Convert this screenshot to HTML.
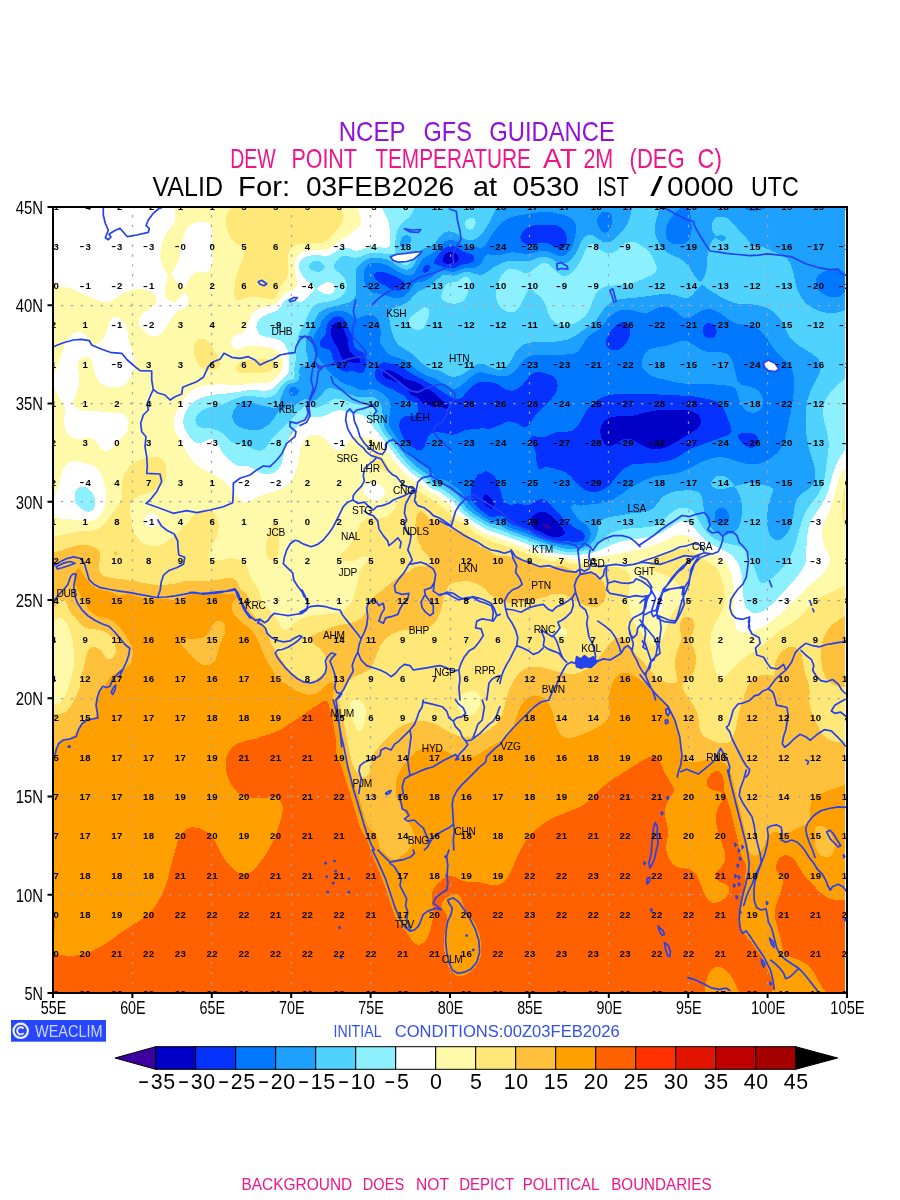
<!DOCTYPE html><html><head><meta charset="utf-8"><title>NCEP GFS Guidance - Dew Point Temperature</title>
<style>html,body{margin:0;padding:0;background:#fff}svg{display:block}text{font-family:"Liberation Sans",sans-serif}</style></head><body>
<svg width="900" height="1200" viewBox="0 0 900 1200">
<rect width="900" height="1200" fill="#fff"/>
<defs><clipPath id="c"><rect x="53" y="207" width="794" height="786"/></clipPath></defs>
<g clip-path="url(#c)">
<g shape-rendering="crispEdges">
<path fill="#3c00a0" fill-rule="evenodd" d="M542,524.4 545,523.6 548,524.4 548.8,525 551,527.8 551.1,528 551,528.3 548,528.8 546.5,528 545,526.4 542,525.1 541.8,525Z"/>
<path fill="#0000c8" fill-rule="evenodd" d="M452,251.9 452.3,252 455,253.1 457.6,255 458,255.8 459,258 458,261 458,261 455,263.8 454.7,264 452,264.7 449,264.5 446.5,264 446,263.8 443,261.2 442.9,261 442.8,258 443,257.6 444.6,255 446,253.7 449,252.1 450.7,252ZM335,323.3 338,322.6 340.7,324 341,324.3 342.5,327 343.9,330 344,330.3 345.2,333 346.6,336 347,336.9 347.7,339 348.1,342 348.2,345 348.7,348 350,350.9 350,351 352.1,354 353,355.1 356,356.6 357.3,357 359,357.8 360.4,360 359.5,363 359,363.4 356,363.4 354.2,363 353,362.5 350,362 347,361.6 344,360.4 343.6,360 341.3,357 341,356.3 340.2,354 339.1,351 338,348.6 337.8,348 336.1,345 335,343.5 334,342 332.3,339 332,338.3 331.4,336 331.1,333 331.1,330 331.9,327 332,326.7 334.1,324ZM383,371.7 386,369.5 389,370.1 392,371.2 394.2,372 395,372.4 398,373.8 399.9,375 401,376 403.6,378 404,378.4 407,379.7 410,380.2 413,380.9 413.4,381 416,381.9 419,383.4 420,384 422,385.6 424.3,387 425,387.5 428,388.9 430,390 431,390.6 434,392.8 434.2,393 437,395.7 437.3,396 440,398.7 440.4,399 443,401 445.6,402 446,402.2 448.7,405 449,406.5 449.3,408 449,408.5 446,409 444.1,408 443,407.3 440,405.8 437,405.8 434,405.9 431,405.6 428,405.2 426.6,405 425,404.7 422,402.5 421.6,402 419.1,399 419,398.9 416,397.1 413.5,396 413,395.8 410,393.3 409.7,393 407.5,390 407,389.1 405.3,387 404,385 402.3,384 401,383.1 398,382.5 395,381.7 392.8,381 392,380.6 389,379.6 386,378.4 385.5,378 383,375 383,375 382.8,372ZM653,410.9 656,410.5 659,410.2 662,410 665,409.9 668,409.7 671,409.6 674,409.6 677,409.5 680,409.5 683,409.6 686,409.9 689,410.5 691,411 692,411.3 695,412.8 697,414 698,414.9 699.8,417 701,420 700.9,423 699.7,426 698,428.1 697.1,429 695,430.5 692.5,432 692,432.3 689,433.9 687.3,435 686,435.8 683,437.8 682.7,438 680,439.7 677.9,441 677,441.6 674,443.3 672.8,444 671,445 668,446.5 666.8,447 665,447.7 662,448.6 659,449.2 656,449.5 653,449.2 650,448.6 647,447.6 645.6,447 644,446.2 641,444.6 639.8,444 638,442.9 635,441.2 634.6,441 632,439.6 629,438.6 626,438.6 623,439.5 620.3,441 620,441.2 617,443.1 615.2,444 614,444.7 611,445.7 608,446 605,444.5 604.6,444 602.9,441 602,439.2 601.6,438 600.8,435 600.4,432 600.5,429 601.2,426 602,424.4 602.8,423 605,420.6 605.8,420 608,418.5 611,417.3 612.4,417 614,416.7 617,416.4 620,416.3 623,416.4 626,416.4 629,416.3 632,415.9 635,415.2 638,414.4 639.5,414 641,413.6 644,412.9 647,412.1 650,411.5 652.5,411ZM485,493.9 487.7,495 488,495.1 490.7,498 491,498.4 492.7,501 494,503.8 494.1,504 494.2,507 494,507.5 491,509.1 488,507.1 487.9,507 485,504.5 484.5,504 482.8,501 483.3,498 484.3,495ZM539,512.1 542,511.5 545,512.2 546.4,513 548,513.7 551,515.5 551.6,516 554,518.1 554.8,519 557,521.5 557.4,522 559.9,525 560,525.1 562.6,528 563,528.8 564.5,531 564.5,534 563,535 560,536.7 559.2,537 557,537.3 554,537.1 553.5,537 551,536.5 548,535.7 545,534.1 544.7,534 542,532.2 539,531.1 538.7,531 536,529.9 533.3,528 533,527.5 531.1,525 530.5,522 530.8,519 532.7,516 533,515.8 536,513.5 537,513ZM541.8,525 542,525.1 545,526.4 546.5,528 548,528.8 551,528.3 551.1,528 551,527.8 548.8,525 548,524.4 545,523.6 542,524.4Z"/>
<path fill="#0532ff" fill-rule="evenodd" d="M539,224.9 542,224.6 545,224.5 548,224.5 551,224.7 553.6,225 554,225 557,225.6 560,226.8 561.8,228 563,229 564.6,231 566,233.7 566.1,234 566.7,237 566.8,240 566.3,243 566,243.8 565,246 563,248.2 560.6,249 560,249.1 559.4,249 557,248.3 554,246.7 552.7,246 551,244.9 548,243.5 545.9,243 545,242.7 542,242.5 539.4,243 539,243 536,243.8 533,244.8 530,245.5 527,244.9 524,243.2 523.6,243 521,240 521,239.8 520.3,237 521,234.6 521.2,234 523.2,231 524,230.3 526.9,228 527,227.9 530,226.6 533,225.6 536,225 536.4,225ZM446,247.4 449,246.3 452,246.1 455,246.8 458,248.2 459.4,249 461,250.1 464,251.8 464.7,252 467,252.9 470,253.7 472.6,255 473,255.4 474.3,258 473.7,261 473,261.7 470,263.3 467,263.6 464.9,264 464,264.1 461,265.2 458,266.7 457.5,267 455,267.9 452,268.4 449,268.1 446,267.4 444.2,267 443,266.7 440,265.8 437,264.9 434.1,264 434.5,261 436.1,258 437,257 438.2,255 440,252.8 440.7,252 443,249.6 443.8,249ZM450.7,252 449,252.1 446,253.7 444.6,255 443,257.6 442.8,258 442.9,261 443,261.2 446,263.8 446.5,264 449,264.5 452,264.7 454.7,264 455,263.8 458,261 458,261 459,258 458,255.8 457.6,255 455,253.1 452.3,252 452,251.9ZM425,265.7 428,264.6 430.9,267 429.2,270 428,271.3 425.4,273 425,273.2 424.6,273 422.4,270 423.8,267ZM377,271.7 380,271.5 383,271.9 386,272.7 386.8,273 389,273.9 392,275 394.7,276 395,276.1 398,277.8 400.5,279 401,279.4 404,281.9 404.1,282 404.9,285 404,287.7 403.8,288 401,290.1 398,290.7 395,290.3 392,289.2 389.2,288 389,287.9 386,286.1 383.6,285 383,284.6 380,282.9 378.4,282 377,280.7 375.4,279 374.1,276 374.8,273ZM335,316.8 338,316.3 341,316.9 342.9,318 344,318.9 345.7,321 347,323.5 347.2,324 348.4,327 349.7,330 350,330.7 351.3,333 352.5,336 353,338.2 353.2,339 353.4,342 353.8,345 355.1,348 356,348.9 359,350.5 360.1,351 362,352 364.2,354 365,355.3 365.8,357 366.3,360 366.2,363 365.8,366 365.3,369 365,369.9 363.6,372 362,373.3 359,373.3 356.1,372 356,372 353,371.1 350,371.4 347,371.7 344,371.4 341,370.2 339.3,369 338,367.9 336.4,366 335,363.6 334.6,363 333.4,360 332.6,357 332,354.4 331.9,354 330.6,351 329,348.9 326,348.6 323,348.4 322.4,348 320,345.4 319.8,345 319.8,342 320,341.5 321.5,339 323,337.5 324.3,336 326,333.3 326.1,333 326.2,330 326.6,327 327.4,324 329,321.1 329.1,321 332,318.2 332.4,318ZM334.1,324 332,326.7 331.9,327 331.1,330 331.1,333 331.4,336 332,338.3 332.3,339 334,342 335,343.5 336.1,345 337.8,348 338,348.6 339.1,351 340.2,354 341,356.3 341.3,357 343.6,360 344,360.4 347,361.6 350,362 353,362.5 354.2,363 356,363.4 359,363.4 359.5,363 360.4,360 359,357.8 357.3,357 356,356.6 353,355.1 352.1,354 350,351 350,350.9 348.7,348 348.2,345 348.1,342 347.7,339 347,336.9 346.6,336 345.2,333 344,330.3 343.9,330 342.5,327 341,324.3 340.7,324 338,322.6 335,323.3ZM620,322.7 623,321.9 626,322.5 628,324 629,325.5 629.7,327 630.3,330 630.1,333 629.5,336 629,337.6 628.5,339 626.9,342 626,343.5 624.8,345 623,346.9 621.4,348 620,349 617,350.1 614,350.3 611,349.7 608.1,348 608,347.9 605.8,345 605.6,342 606.5,339 607.9,336 608,335.8 609.6,333 611,331 611.6,330 614,327 614,327 617,324.4 617.6,324ZM707,323.3 710,323 712.6,324 713,324.2 715.3,327 716,328.6 716.5,330 716.7,333 716,334.6 715.2,336 713,337.8 710,338.5 707,337.7 704.8,336 704,335 702.9,333 702.5,330 703.2,327 704,325.8 705.9,324ZM383,362.3 386,362.4 388.1,363 389,363.2 392,364 395,364.6 398,365.4 399.5,366 401,366.6 404,368.2 405.2,369 407,370.3 409.3,372 410,372.5 413,374.5 413.7,375 416,376.2 419,377.6 419.8,378 422,379.1 425,380.9 425.2,381 428,382.6 431,384 431,384 434,385.7 435.9,387 437,387.8 439.8,390 440,390.1 443,392.1 444.5,393 446,393.9 449,395.8 449.4,396 452,397.5 455,398.6 458,399 461,398.3 463.2,396 464,395.1 465.5,393 467,391.3 468.2,390 470,388.3 471.6,387 473,385.8 475.5,384 476,383.6 479,382.2 482,381.6 485,381.8 488,382.1 491,382.4 494,382.8 497,383.7 497.6,384 500,385.8 502.1,387 503,387.7 506,389.4 508.1,390 509,390.4 512,390.8 514.7,390 515,389.9 518,388.4 519.7,387 521,386 523,384 524,382.9 525.6,381 527,379.2 528,378 530,375.5 530.6,375 533,373.2 536,372.1 537.3,372 539,371.9 539.7,372 542,372.5 545,373.2 548,374 550.8,375 551,375.1 554,377 555.1,378 556.9,381 557,381.4 557.5,384 557.5,387 557,389.3 556.8,390 555.6,393 554,395.6 553.7,396 551.3,399 551,399.3 548.3,402 548,402.3 545.1,405 545,405.1 542.2,408 542,408.2 539.5,411 539,411.5 536.6,414 536,414.8 534.3,417 533,419.2 532.3,420 530.5,423 530,424.3 527.9,426 527,426.7 524,427.1 521,426.1 520.8,426 518,424.1 516,423 515,422.7 512,421.9 509,421.3 506,422.1 503.8,423 503,423.3 500,425.1 497,426 496.9,426 494,427.4 491,428.6 488,428.9 485,428.5 482,428.4 479,428.6 476,428.7 473,428.8 472.1,429 470,429.4 467,430.1 464,430.4 461,431.9 460.7,432 458,433.5 455,434.4 452,434.9 449,434.4 446,433.4 443,432.9 440,432.5 437,432.4 434,432.5 431,433.5 428.8,435 428,436.5 427.6,438 426.3,441 425,444 425,444.4 424.5,447 422,449.5 420.7,450 419,450.5 417.8,450 416,449.4 413,447.5 412.2,447 410,445.4 408.3,444 407,442.8 405.2,441 404,439.4 403.3,438 401.9,435 401,432.8 400.7,432 399.7,429 399,426 399.4,423 400.4,420 401,418.9 403.6,417 404,416.7 407,416.1 410,416.2 413,415.8 416,414.4 416.5,414 418.4,411 418.2,408 417.1,405 416,403.2 413.9,402 413,401.8 410,401.1 407,399.2 406.9,399 404.4,396 404,395.6 401,393.9 399.4,393 398,392.4 395,390.7 393.9,390 392,389.1 389,387.9 386.9,387 386,386.7 383,385 381.5,384 380,382.8 377.7,381 377,380.1 375.2,378 374.6,375 375.1,372 376.4,369 377,368 378.2,366 380,363.9 381.6,363ZM382.8,372 383,375 383,375 385.5,378 386,378.4 389,379.6 392,380.6 392.8,381 395,381.7 398,382.5 401,383.1 402.3,384 404,385 405.3,387 407,389.1 407.5,390 409.7,393 410,393.3 413,395.8 413.5,396 416,397.1 419,398.9 419.1,399 421.6,402 422,402.5 425,404.7 426.6,405 428,405.2 431,405.6 434,405.9 437,405.8 440,405.8 443,407.3 444.1,408 446,409 449,408.5 449.3,408 449,406.5 448.7,405 446,402.2 445.6,402 443,401 440.4,399 440,398.7 437.3,396 437,395.7 434.2,393 434,392.8 431,390.6 430,390 428,388.9 425,387.5 424.3,387 422,385.6 420,384 419,383.4 416,381.9 413.4,381 413,380.9 410,380.2 407,379.7 404,378.4 403.6,378 401,376 399.9,375 398,373.8 395,372.4 394.2,372 392,371.2 389,370.1 386,369.5 383,371.7ZM436,417 437,417.5 438.2,417 437,416.6ZM608,395.6 611,394.9 614,394.5 617,394.3 620,394.3 623,394.3 626,394.3 629,394.3 632,394.2 635,394.2 638,394.2 641,394.1 644,394.1 647,394.1 650,394.2 653,394.3 656,394.4 659,394.5 662,394.7 665,394.8 668,394.9 671,395.1 674,395.2 677,395.4 680,395.5 683,395.6 686,395.8 689,396 689.3,396 692,396.3 695,396.7 698,397.1 701,397.6 704,398.2 707,398.9 707.5,399 710,399.6 713,400.5 716,401.6 716.8,402 719,403.3 720.9,405 722,406.3 723.1,408 724.7,411 725,411.8 726,414 727.2,417 728,419.2 728.3,420 729.5,423 730.5,426 731,428 731.4,429 731.6,432 731,432.6 728.1,435 728,435 725,436 722,437.2 720.2,438 719,438.4 716,439.5 713,440.7 712.3,441 710,441.8 707,442.9 704.1,444 704,444 701,445.1 698,446 695.1,447 695,447 692,448.2 689,449.7 688.5,450 686,451.7 684.1,453 683,453.8 680,455.7 679.5,456 677,457.4 674,458.8 673.5,459 671,459.9 668,460.9 665,461.6 662.6,462 662,462.1 659,462.5 656,462.9 653,463.1 650,463.3 647,463.4 644,463.5 641,463.6 638,463.6 635,464 632,464.6 630.9,465 629,465.7 626,467.4 625.1,468 623,469.7 621.6,471 620,472.5 618.7,474 617,476 616.1,477 614,479.5 613.6,480 611.3,483 611,483.3 608.2,486 608,486.2 605,488.4 604.1,489 602,490.2 599,491.3 596,491.9 594.9,492 593,492.2 591.4,492 590,491.9 587,490.9 584,489.4 583.5,489 581,487.1 579.6,486 578,484.4 576.6,483 575,481.1 573.9,480 572,477.9 571.1,477 569,475 567.7,474 566,472.7 563,471.1 562.6,471 560,470.2 557,469.4 554,468.5 551,468.2 550.4,468 548,466.8 545,466.5 543.3,468 542,468.7 539,469.6 538,468 537.4,465 536.7,462 536,459 536,458.9 535.5,456 535.7,453 534.8,450 533.5,447 533,446.1 531.6,444 530.3,441 530.5,438 533,435.9 536,436.6 539,437.3 542,437.4 545,436.8 548,435.5 549.1,435 551,434.2 554,433 557,432.2 558.5,432 560,431.8 563,431.7 566,431.7 569,431.4 572,430.5 574.6,429 575,428.7 577.7,426 578,425.7 579.8,423 581,420.8 581.4,420 582.9,417 584,414.8 584.4,414 586.1,411 587,409.7 588.2,408 590,406.1 591.1,405 593,403.3 594.7,402 596,401 599,399.2 599.3,399 602,397.6 605,396.4 606.4,396ZM652.5,411 650,411.5 647,412.1 644,412.9 641,413.6 639.5,414 638,414.4 635,415.2 632,415.9 629,416.3 626,416.4 623,416.4 620,416.3 617,416.4 614,416.7 612.4,417 611,417.3 608,418.5 605.8,420 605,420.6 602.8,423 602,424.4 601.2,426 600.5,429 600.4,432 600.8,435 601.6,438 602,439.2 602.9,441 604.6,444 605,444.5 608,446 611,445.7 614,444.7 615.2,444 617,443.1 620,441.2 620.3,441 623,439.5 626,438.6 629,438.6 632,439.6 634.6,441 635,441.2 638,442.9 639.8,444 641,444.6 644,446.2 645.6,447 647,447.6 650,448.6 653,449.2 656,449.5 659,449.2 662,448.6 665,447.7 666.8,447 668,446.5 671,445 672.8,444 674,443.3 677,441.6 677.9,441 680,439.7 682.7,438 683,437.8 686,435.8 687.3,435 689,433.9 692,432.3 692.5,432 695,430.5 697.1,429 698,428.1 699.7,426 700.9,423 701,420 699.8,417 698,414.9 697,414 695,412.8 692,411.3 691,411 689,410.5 686,409.9 683,409.6 680,409.5 677,409.5 674,409.6 671,409.6 668,409.7 665,409.9 662,410 659,410.2 656,410.5 653,410.9ZM740,434.1 743,432.9 746,432.5 749,432.5 752,433 755,434.3 755.8,435 757.9,438 758,438.8 758.2,441 758,441.8 757.3,444 755,446.6 754.3,447 752,447.8 749,447.7 747.2,447 746,446.3 743,444.1 742.9,444 740.3,441 740,440.3 738.4,438 738.4,435ZM479,473.6 482,473.7 485,471.2 488,471.7 491,473.4 491.9,474 494,475.5 494.9,477 496.7,480 497,480.6 498,483 499,486 500,489 500,489.1 500.8,492 501.7,495 502.6,498 503,498.9 504.2,501 506,503.1 507.9,504 509,504.5 512,504.8 514.6,504 515,503.8 518,503.4 521,503.8 521.6,504 524,504.7 527,505.2 530,504.8 531.3,504 533,502.5 535.7,501 536,500.8 539,499.7 542,499.3 545,500.3 545.9,501 548,502.2 550,504 551,505 552.7,507 554,508.1 555.8,510 557,511.3 558.7,513 560,514.5 561.2,516 563,518.1 564,519 566,520.6 567.5,522 569,523.2 571.2,525 572,525.7 575,527.9 575.2,528 578,529.5 581,530.6 581.6,531 584,533.2 584.4,534 584.9,537 584,539.5 583.7,540 581,541.3 578,541.7 575,542 572,541.8 569,541.4 566,541.2 563,541.1 560,541.1 557,540.9 554,540.4 552,540 551,539.7 548,538.8 545,537.6 543.7,537 542,536.1 539,534.8 536.6,534 536,533.8 533,532.5 530,531.2 529.6,531 527,529.5 524,528.3 522.7,528 521,527.5 518,526.5 515,525.5 513.5,525 512,524.4 509,522.4 508.5,522 506,519.1 505.8,519 503,516.5 500.8,516 500,515.8 499.2,516 497,516.3 494,517.1 491,516.8 489.2,516 488,515.3 485,513.4 484.5,513 482,511.1 480.6,510 479,508.7 477.1,507 476,505.7 474.5,504 473,501.5 472.7,501 471.6,498 470.8,495 470.6,492 471,489 472,486 473,483.5 473.3,483 474.6,480 476,477.3 476.2,477 478.7,474ZM484.3,495 483.3,498 482.8,501 484.5,504 485,504.5 487.9,507 488,507.1 491,509.1 494,507.5 494.2,507 494.1,504 494,503.8 492.7,501 491,498.4 490.7,498 488,495.1 487.7,495 485,493.9ZM537,513 536,513.5 533,515.8 532.7,516 530.8,519 530.5,522 531.1,525 533,527.5 533.3,528 536,529.9 538.7,531 539,531.1 542,532.2 544.7,534 545,534.1 548,535.7 551,536.5 553.5,537 554,537.1 557,537.3 559.2,537 560,536.7 563,535 564.5,534 564.5,531 563,528.8 562.6,528 560,525.1 559.9,525 557.4,522 557,521.5 554.8,519 554,518.1 551.6,516 551,515.5 548,513.7 546.4,513 545,512.2 542,511.5 539,512.1Z"/>
<path fill="#0078ff" fill-rule="evenodd" d="M680,208.3 682.2,207 683,207 686,207 687.4,207 689,208.9 689.3,210 690.1,213 690.6,216 691.1,219 691.4,222 691.6,225 691.7,228 691.4,231 690.9,234 690,237 689,238.9 688.3,240 686,242.3 684.9,243 683,243.8 680,244.4 677,244.5 674,244.1 671.2,243 671,242.9 668,240.4 667.7,240 666.2,237 665.6,234 665.6,231 666.1,228 667.1,225 668,223 668.5,222 670.4,219 671,217.9 672.6,216 674,214.1 675.2,213 677,210.9 678.2,210ZM743,207 746,207 749,207 752,207 755,207 758,207 761,207 764,207 767,207 770,207 770.2,207 770,207.1 767,208.1 764,208.9 761,209.7 759.8,210 758,210.4 755,211 752,211.3 749,210.7 747.5,210 746,209.3 743,207.6 741.7,207ZM536,212.8 539,212.3 542,212 545,211.8 548,211.9 551,212.2 554,212.7 555.3,213 557,213.4 560,214.1 563,214.8 566,215.8 566.7,216 569,217 572,218.9 572.1,219 574.6,222 575,223 575.7,225 576,228 575.9,231 575.5,234 575,236.8 575,237 574.3,240 573.5,243 572.4,246 572,246.9 571,249 569,252 569,252 566,254.6 565.2,255 563,255.8 560,256 557,255.2 556.4,255 554,254 551,252.7 549.2,252 548,251.5 545,250.9 542,250.8 539,251.3 536.3,252 536,252.1 533,253 530,253.6 527,253.9 524,253.7 521,253.3 518,252.8 515,252.5 512,252.4 509,252.8 506,253.4 503,254.3 500.1,255 500,255 497,255.4 494,255.2 492.4,255 491,254.7 488,254.2 486.7,255 485,256.2 484.2,258 482.7,261 482,262 480.7,264 479,265.5 476.6,267 476,267.2 473,267.9 470,268 467,268 464,268.4 461,269.3 459.4,270 458,270.6 455,271.5 452,271.8 449,271.3 446,270.5 443,270.2 440,270.9 437,272.4 436.2,273 434,274.8 432.7,276 431,277.4 428.8,279 428,279.5 425,280.9 422,281.7 419.5,282 419,282.1 416,282.8 413.7,285 413,285.7 411.6,288 410,290.3 409.6,291 407,294 407,294 404,296.3 402.4,297 401,297.6 398,298.2 395,298.2 392,297.6 390.3,297 389,296.6 386,295.5 383,294.7 380,294.1 379.3,294 377,293.6 374,292.9 371,291.5 370.4,291 368,288.9 367.3,288 365.7,285 365,283.3 364.6,282 364,279 363.7,276 363.9,273 364.6,270 365,269.2 366.1,267 368,264.9 369.1,264 371,263 374,262.6 377,262.7 380,263.1 383,263.6 384.1,264 386,264.7 389,266.3 390.2,267 392,268.1 395,269.9 395.2,270 398,271.6 400.7,273 401,273.1 404,274.4 407,275.3 410,275.6 413,274.7 414.2,273 416,270.2 416.1,270 417.6,267 419,264.3 419.2,264 421.2,261 422,259.9 424,258 425,257.1 428,255.4 428.9,255 431,254 434,252.2 434.2,252 437,249.5 437.5,249 440,246.2 440.2,246 443,243.2 443.3,243 446,241.1 449,240.1 452,240.1 455,240.8 458,242.2 459.3,243 461,244 464,245.9 464.2,246 467,247 470,247.2 473,247.2 476,247.4 479,247.6 482,247.5 484.5,246 485,245.7 486.8,243 488,241.1 488.6,240 490.4,237 491,236.1 492.4,234 494,231.8 494.6,231 497,228 497,228 499.6,225 500,224.6 502.7,222 503,221.7 506,219.6 507.1,219 509,218 512,216.9 515,216.2 515.7,216 518,215.6 521,215 524,214.6 527,214.2 530,213.8 533,213.2 534.7,213ZM536.4,225 536,225 533,225.6 530,226.6 527,227.9 526.9,228 524,230.3 523.2,231 521.2,234 521,234.6 520.3,237 521,239.8 521,240 523.6,243 524,243.2 527,244.9 530,245.5 533,244.8 536,243.8 539,243 539.4,243 542,242.5 545,242.7 545.9,243 548,243.5 551,244.9 552.7,246 554,246.7 557,248.3 559.4,249 560,249.1 560.6,249 563,248.2 565,246 566,243.8 566.3,243 566.8,240 566.7,237 566.1,234 566,233.7 564.6,231 563,229 561.8,228 560,226.8 557,225.6 554,225 553.6,225 551,224.7 548,224.5 545,224.5 542,224.6 539,224.9ZM443.8,249 443,249.6 440.7,252 440,252.8 438.2,255 437,257 436.1,258 434.5,261 434.1,264 437,264.9 440,265.8 443,266.7 444.2,267 446,267.4 449,268.1 452,268.4 455,267.9 457.5,267 458,266.7 461,265.2 464,264.1 464.9,264 467,263.6 470,263.3 473,261.7 473.7,261 474.3,258 473,255.4 472.6,255 470,253.7 467,252.9 464.7,252 464,251.8 461,250.1 459.4,249 458,248.2 455,246.8 452,246.1 449,246.3 446,247.4ZM423.8,267 422.4,270 424.6,273 425,273.2 425.4,273 428,271.3 429.2,270 430.9,267 428,264.6 425,265.7ZM374.8,273 374.1,276 375.4,279 377,280.7 378.4,282 380,282.9 383,284.6 383.6,285 386,286.1 389,287.9 389.2,288 392,289.2 395,290.3 398,290.7 401,290.1 403.8,288 404,287.7 404.9,285 404.1,282 404,281.9 401,279.4 400.5,279 398,277.8 395,276.1 394.7,276 392,275 389,273.9 386.8,273 386,272.7 383,271.9 380,271.5 377,271.7ZM602,212.7 605,211.5 608,211.7 610,213 611,214.1 611.8,216 612.4,219 612.2,222 611.6,225 611,226.6 610.4,228 608.4,231 608,231.4 605,233.1 602,231.8 601.3,231 599.3,228 599,227.3 598,225 597.3,222 597.4,219 598.7,216 599,215.5 601.6,213ZM833,269.6 836,269.5 839,269.8 839.5,270 842,270.9 844.7,273 845,273.4 845,276 845,279 845,282 845,285 845,288 845,291 845,291.4 842.9,294 842,294.8 839,296.5 837.5,297 836,297.4 833,297.5 830,297 830,297 827,295.9 824,294.5 823.2,294 821,292.3 819.5,291 818,289.4 817,288 815.7,285 815.5,282 816.2,279 817.8,276 818,275.8 821,273.1 821.2,273 824,271.7 827,270.7 830,270 830,270ZM656,308.6 659,307.5 662,306.8 665,306.8 668,307.3 671,308.4 672,309 674,310.3 676.3,312 677,312.7 679.8,315 680,315.2 683,317.4 684.7,318 686,318.5 689,318.2 689.3,318 692,316.8 694.5,315 695,314.7 698,312.7 699.1,312 701,310.9 704,309.7 707,309.1 710,309.1 713,309.7 716,310.8 718.2,312 719,312.5 722,314.5 722.7,315 725,316.9 726.6,318 728,319.1 731,321 731,321 734,322.6 737,323.7 738.7,324 740,324.3 743,324.6 746,324.7 749,324.8 752,325.4 755,326.7 755.4,327 758,328.9 759.3,330 761,331.5 762.4,333 764,334.7 765,336 767,338.5 767.3,339 769.4,342 770,342.9 771.4,345 773,347.3 773.4,348 775.6,351 776,351.6 778.1,354 779,355 781.2,357 782,357.8 784.5,360 785,360.4 787.5,363 788,363.7 789.8,366 791,368 791.6,369 792.9,372 793.6,375 794,377.3 794.1,378 794.2,381 794.2,384 794.1,387 794,388.1 793.9,390 793.6,393 793.2,396 792.9,399 792.5,402 792.1,405 791.6,408 791,411 791,411.3 790.5,414 789.8,417 789.1,420 788.5,423 788,425.5 787.9,426 787.2,429 786.6,432 785.9,435 785.2,438 785,438.5 784.2,441 783,444 782,446 781.5,447 779.6,450 779,450.7 777.1,453 776,454 773.9,456 773,456.7 770,458.8 769.7,459 767,460.6 764,462 763.9,462 761,463 758,463.7 755,464.1 752,464.3 749,464.1 746,463.8 743,463.2 740,462.3 739.2,462 737,461.2 734,460.1 731,459.1 730.5,459 728,458.3 725,457.6 722,457.3 719,457.2 716,457.5 713,458 710,458.8 709.3,459 707,459.7 704,460.9 701.5,462 701,462.2 698,463.8 695.7,465 695,465.4 692,467.1 690.4,468 689,468.7 686,470.1 683.6,471 683,471.2 680,472.3 677,473.1 674,473.7 672.6,474 671,474.3 668,474.7 665,475 662,475.3 659,475.6 656,476.1 653,476.9 652.5,477 650,477.9 647,479.2 645.1,480 644,480.6 641,482.1 638.7,483 638,483.3 635,485 633.2,486 632,486.7 629,488.6 628.4,489 626,490.8 624.4,492 623,493 620.1,495 620,495 617,497.1 615.5,498 614,498.8 611,500.3 609.1,501 608,501.4 605,502.3 602,503 599,503.5 596,503.6 593,503.9 592.3,504 590,504.4 587,504.8 584,505.2 581,505.6 578,505.4 575,504.2 572,505.7 570.5,507 571.9,510 572,510.1 574.1,513 575,514.3 576,516 578,518.6 578.3,519 581,521.3 581.9,522 584,523.1 586.2,525 587,525.6 588.7,528 590,530.8 590.1,531 590.6,534 590.2,537 590,537.5 589,540 587,542.2 586.2,543 584,544.2 581,545.1 578,545.5 575,545.7 572,545.7 569,545.5 566,545.2 563,544.8 560,544.4 557,543.8 554,543.2 553.2,543 551,542.5 548,541.5 545,540.4 543.9,540 542,539.2 539,538.1 536,537.1 535.8,537 533,536 530,534.9 527.7,534 527,533.7 524,532.4 521,531.5 519.5,531 518,530.5 515,529.4 512,528.4 511.1,528 509,527 506,525 506,525 503,522.7 501.8,522 500,521 497,520.6 494,520.9 491,520.6 488,519.4 487.3,519 485,517.5 482.6,516 482,515.5 479,513.4 478.4,513 476,511.2 474.4,510 473,508.8 471,507 470,505.9 468.5,504 467,501.7 466.6,501 465.1,498 464,496 463.4,495 461.6,492 461,491.1 459,489 458,488.1 455,486.5 454.1,486 452,484.6 449.8,483 449,482.4 446,480.6 444.4,480 443,479.5 440,478.9 437,478.5 435.3,477 434,475.2 433.4,474 431.1,471 431,470.9 428,468.5 427,468 425,466.9 422,465 421.9,465 419,462.9 417.8,462 416,460.5 414.5,459 413,457.5 411.6,456 410,454.3 408.8,453 407,451.2 405.9,450 404,448 403.1,447 401,444.6 400.6,444 398.7,441 398,439.7 397,438 395.1,435 395,434.8 393,432 392,430.6 390.9,429 389.4,426 389,423.4 389,423 389,420.7 389,420 389.3,417 389.8,414 390.2,411 390.5,408 390.5,405 389.9,402 389,399.9 388.6,399 386,396.1 385.9,396 383,393.8 381.9,393 380,391.8 377,390.2 376.3,390 374,389.2 371,388.9 368,389.2 365,389.9 364.6,390 362,390.3 360.8,390 359,389.4 356,387.8 354.3,387 353,386.3 350,385.3 347,384.6 344.9,384 344,383.7 341,381.9 339.8,381 338,379.7 336,378 335,377.1 332.7,375 332,374.3 329.6,372 329,371.3 326.8,369 326,367.8 324.6,366 323,363.8 322.4,363 320,360 320,360 317.8,357 317,356 315.8,354 314.2,351 314,350.5 313.2,348 312.7,345 312.7,342 313.1,339 314,336 314,336 315.5,333 317,330.5 317.4,330 319.4,327 320,325.8 320.8,324 322.2,321 323,319.7 324.1,318 326,315.8 327,315 329,313.7 332,312.2 332.7,312 335,311.3 338,310.8 341,310.9 344,311.4 345.9,312 347,312.4 350,314.2 351.2,315 353,316.8 355.3,318 356,318.6 359,318.2 359.3,318 362,316.6 365,315.3 366.3,315 368,314.7 371,314.8 371.7,315 374,315.8 376.5,318 377,318.6 378.5,321 379.7,324 380,325.4 380.4,327 380.5,330 380.5,333 380.5,336 380.4,339 380.1,342 381.3,345 383,347.6 383.3,348 385.8,351 386,351.2 388.8,354 389,354.2 392,356 395,357 395,357 398,357.8 401,358.8 403.7,360 404,360.1 407,361.9 408.5,363 410,364.1 412.1,366 413,366.7 415.5,369 416,369.4 419,371.2 420.4,372 422,372.8 425,374.4 426.2,375 428,375.9 431,377.2 433.4,378 434,378.2 437,379.7 438.9,381 440,381.8 442.8,384 443,384.1 446,385.9 448.1,387 449,387.5 452,388.7 455,388.9 458,387.6 458.8,387 461,385.5 462.8,384 464,383.1 466.3,381 467,380.5 469.9,378 470,377.9 473,375.5 473.7,375 476,373.5 479,372.5 482,372.4 485,372.9 488,373.7 491,374.5 493.4,375 494,375.1 497,375.8 500,376.3 503,376.5 506,376.3 509,375.3 509.6,375 512,373.6 514,372 515,371 516.8,369 518,367.5 519.1,366 521,363.5 521.4,363 523.9,360 524,359.9 527,357.5 528,357 530,356.1 533,355.3 536,354.9 539,354.8 542,354.8 545,355 548,355 551,354.9 554,354.8 557,354.7 560,354.5 563,354.5 566,354.5 569,354.4 571.8,354 572,354 575,353.4 578,351.5 578.5,351 580.9,348 581,347.8 582.7,345 584,342.8 584.4,342 586.3,339 587,338.2 588.9,336 590,335.1 593,333.1 593.2,333 596,331.4 597.9,330 599,329.1 601.1,327 602,326 603.6,324 605,322.3 606,321 608,318.6 608.6,318 611,315.6 611.7,315 614,313.2 616.1,312 617,311.5 620,310.5 623,309.9 626,309.6 629,309.8 632,310.3 635,310.9 638,311.7 639.2,312 641,312.5 644,313 647,312.7 648.9,312 650,311.6 653,310.2 655.1,309ZM332.4,318 332,318.2 329.1,321 329,321.1 327.4,324 326.6,327 326.2,330 326.1,333 326,333.3 324.3,336 323,337.5 321.5,339 320,341.5 319.8,342 319.8,345 320,345.4 322.4,348 323,348.4 326,348.6 329,348.9 330.6,351 331.9,354 332,354.4 332.6,357 333.4,360 334.6,363 335,363.6 336.4,366 338,367.9 339.3,369 341,370.2 344,371.4 347,371.7 350,371.4 353,371.1 356,372 356.1,372 359,373.3 362,373.3 363.6,372 365,369.9 365.3,369 365.8,366 366.2,363 366.3,360 365.8,357 365,355.3 364.2,354 362,352 360.1,351 359,350.5 356,348.9 355.1,348 353.8,345 353.4,342 353.2,339 353,338.2 352.5,336 351.3,333 350,330.7 349.7,330 348.4,327 347.2,324 347,323.5 345.7,321 344,318.9 342.9,318 341,316.9 338,316.3 335,316.8ZM617.6,324 617,324.4 614,327 614,327 611.6,330 611,331 609.6,333 608,335.8 607.9,336 606.5,339 605.6,342 605.8,345 608,347.9 608.1,348 611,349.7 614,350.3 617,350.1 620,349 621.4,348 623,346.9 624.8,345 626,343.5 626.9,342 628.5,339 629,337.6 629.5,336 630.1,333 630.3,330 629.7,327 629,325.5 628,324 626,322.5 623,321.9 620,322.7ZM705.9,324 704,325.8 703.2,327 702.5,330 702.9,333 704,335 704.8,336 707,337.7 710,338.5 713,337.8 715.2,336 716,334.6 716.7,333 716.5,330 716,328.6 715.3,327 713,324.2 712.6,324 710,323 707,323.3ZM677.3,342 677,342.1 674,343.2 671,344.3 668.8,345 668,345.3 665,346 662,346.6 659,347 656,347.5 653,348 653,348 650,349 647,350.9 646.9,351 644.6,354 644,355.1 643.1,357 642.2,360 641.9,363 642.2,366 643.6,369 644,369.5 646.1,372 647,372.7 649.9,375 650,375 653,376.4 656,377.6 657.3,378 659,378.5 662,379.1 665,379.8 668,380.6 669.8,381 671,381.3 674,381.9 677,382.5 680,383 683,383.4 686,383.7 689,383.9 692,384 693.9,384 695,384 696,384 698,384 701,383.9 704,383.9 707,384 707.1,384 710,384.1 713,384.3 716,384.6 719,384.8 722,385.1 725,385.4 728,385.8 731,386.3 733.2,387 734,387.4 736.2,390 737,392.1 737.2,393 738.1,396 739,399 740,401.6 740.1,402 741.6,405 743,407.2 743.6,408 746,410.3 747,411 749,412 752,412.7 755,412.5 758,411.3 758.5,411 761,408.5 761.4,408 762.7,405 763.1,402 762.8,399 761.9,396 761,394.4 760.1,393 758,390.8 756.9,390 755,388.7 752,387.4 750.7,387 749,386.5 746,385.8 743,385.1 740.2,384 740,383.9 737.7,381 737,379.3 736.7,378 736,375 735.3,372 734.6,369 734,366.4 733.9,366 733.1,363 731.9,360 731,358.4 730.1,357 728,354.8 726.8,354 725,353.1 722,352.4 719,352.3 716,352.4 713,352.5 710,352.4 707,351.9 704.4,351 704,350.9 701,349.6 698.3,348 698,347.8 695,345.8 693.7,345 692,343.8 689,342 688.9,342 686,340.8 683,340.5 680,341.1ZM381.6,363 380,363.9 378.2,366 377,368 376.4,369 375.1,372 374.6,375 375.2,378 377,380.1 377.7,381 380,382.8 381.5,384 383,385 386,386.7 386.9,387 389,387.9 392,389.1 393.9,390 395,390.7 398,392.4 399.4,393 401,393.9 404,395.6 404.4,396 406.9,399 407,399.2 410,401.1 413,401.8 413.9,402 416,403.2 417.1,405 418.2,408 418.4,411 416.5,414 416,414.4 413,415.8 410,416.2 407,416.1 404,416.7 403.6,417 401,418.9 400.4,420 399.4,423 399,426 399.7,429 400.7,432 401,432.8 401.9,435 403.3,438 404,439.4 405.2,441 407,442.8 408.3,444 410,445.4 412.2,447 413,447.5 416,449.4 417.8,450 419,450.5 420.7,450 422,449.5 424.5,447 425,444.4 425,444 426.3,441 427.6,438 428,436.5 428.8,435 431,433.5 434,432.5 437,432.4 440,432.5 443,432.9 446,433.4 449,434.4 452,434.9 455,434.4 458,433.5 460.7,432 461,431.9 464,430.4 467,430.1 470,429.4 472.1,429 473,428.8 476,428.7 479,428.6 482,428.4 485,428.5 488,428.9 491,428.6 494,427.4 496.9,426 497,426 500,425.1 503,423.3 503.8,423 506,422.1 509,421.3 512,421.9 515,422.7 516,423 518,424.1 520.8,426 521,426.1 524,427.1 527,426.7 527.9,426 530,424.3 530.5,423 532.3,420 533,419.2 534.3,417 536,414.8 536.6,414 539,411.5 539.5,411 542,408.2 542.2,408 545,405.1 545.1,405 548,402.3 548.3,402 551,399.3 551.3,399 553.7,396 554,395.6 555.6,393 556.8,390 557,389.3 557.5,387 557.5,384 557,381.4 556.9,381 555.1,378 554,377 551,375.1 550.8,375 548,374 545,373.2 542,372.5 539.7,372 539,371.9 537.3,372 536,372.1 533,373.2 530.6,375 530,375.5 528,378 527,379.2 525.6,381 524,382.9 523,384 521,386 519.7,387 518,388.4 515,389.9 514.7,390 512,390.8 509,390.4 508.1,390 506,389.4 503,387.7 502.1,387 500,385.8 497.6,384 497,383.7 494,382.8 491,382.4 488,382.1 485,381.8 482,381.6 479,382.2 476,383.6 475.5,384 473,385.8 471.6,387 470,388.3 468.2,390 467,391.3 465.5,393 464,395.1 463.2,396 461,398.3 458,399 455,398.6 452,397.5 449.4,396 449,395.8 446,393.9 444.5,393 443,392.1 440,390.1 439.8,390 437,387.8 435.9,387 434,385.7 431,384 431,384 428,382.6 425.2,381 425,380.9 422,379.1 419.8,378 419,377.6 416,376.2 413.7,375 413,374.5 410,372.5 409.3,372 407,370.3 405.2,369 404,368.2 401,366.6 399.5,366 398,365.4 395,364.6 392,364 389,363.2 388.1,363 386,362.4 383,362.3ZM606.4,396 605,396.4 602,397.6 599.3,399 599,399.2 596,401 594.7,402 593,403.3 591.1,405 590,406.1 588.2,408 587,409.7 586.1,411 584.4,414 584,414.8 582.9,417 581.4,420 581,420.8 579.8,423 578,425.7 577.7,426 575,428.7 574.6,429 572,430.5 569,431.4 566,431.7 563,431.7 560,431.8 558.5,432 557,432.2 554,433 551,434.2 549.1,435 548,435.5 545,436.8 542,437.4 539,437.3 536,436.6 533,435.9 530.5,438 530.3,441 531.6,444 533,446.1 533.5,447 534.8,450 535.7,453 535.5,456 536,458.9 536,459 536.7,462 537.4,465 538,468 539,469.6 542,468.7 543.3,468 545,466.5 548,466.8 550.4,468 551,468.2 554,468.5 557,469.4 560,470.2 562.6,471 563,471.1 566,472.7 567.7,474 569,475 571.1,477 572,477.9 573.9,480 575,481.1 576.6,483 578,484.4 579.6,486 581,487.1 583.5,489 584,489.4 587,490.9 590,491.9 591.4,492 593,492.2 594.9,492 596,491.9 599,491.3 602,490.2 604.1,489 605,488.4 608,486.2 608.2,486 611,483.3 611.3,483 613.6,480 614,479.5 616.1,477 617,476 618.7,474 620,472.5 621.6,471 623,469.7 625.1,468 626,467.4 629,465.7 630.9,465 632,464.6 635,464 638,463.6 641,463.6 644,463.5 647,463.4 650,463.3 653,463.1 656,462.9 659,462.5 662,462.1 662.6,462 665,461.6 668,460.9 671,459.9 673.5,459 674,458.8 677,457.4 679.5,456 680,455.7 683,453.8 684.1,453 686,451.7 688.5,450 689,449.7 692,448.2 695,447 695.1,447 698,446 701,445.1 704,444 704.1,444 707,442.9 710,441.8 712.3,441 713,440.7 716,439.5 719,438.4 720.2,438 722,437.2 725,436 728,435 728.1,435 731,432.6 731.6,432 731.4,429 731,428 730.5,426 729.5,423 728.3,420 728,419.2 727.2,417 726,414 725,411.8 724.7,411 723.1,408 722,406.3 720.9,405 719,403.3 716.8,402 716,401.6 713,400.5 710,399.6 707.5,399 707,398.9 704,398.2 701,397.6 698,397.1 695,396.7 692,396.3 689.3,396 689,396 686,395.8 683,395.6 680,395.5 677,395.4 674,395.2 671,395.1 668,394.9 665,394.8 662,394.7 659,394.5 656,394.4 653,394.3 650,394.2 647,394.1 644,394.1 641,394.1 638,394.2 635,394.2 632,394.2 629,394.3 626,394.3 623,394.3 620,394.3 617,394.3 614,394.5 611,394.9 608,395.6ZM738.4,435 738.4,438 740,440.3 740.3,441 742.9,444 743,444.1 746,446.3 747.2,447 749,447.7 752,447.8 754.3,447 755,446.6 757.3,444 758,441.8 758.2,441 758,438.8 757.9,438 755.8,435 755,434.3 752,433 749,432.5 746,432.5 743,432.9 740,434.1ZM478.7,474 476.2,477 476,477.3 474.6,480 473.3,483 473,483.5 472,486 471,489 470.6,492 470.8,495 471.6,498 472.7,501 473,501.5 474.5,504 476,505.7 477.1,507 479,508.7 480.6,510 482,511.1 484.5,513 485,513.4 488,515.3 489.2,516 491,516.8 494,517.1 497,516.3 499.2,516 500,515.8 500.8,516 503,516.5 505.8,519 506,519.1 508.5,522 509,522.4 512,524.4 513.5,525 515,525.5 518,526.5 521,527.5 522.7,528 524,528.3 527,529.5 529.6,531 530,531.2 533,532.5 536,533.8 536.6,534 539,534.8 542,536.1 543.7,537 545,537.6 548,538.8 551,539.7 552,540 554,540.4 557,540.9 560,541.1 563,541.1 566,541.2 569,541.4 572,541.8 575,542 578,541.7 581,541.3 583.7,540 584,539.5 584.9,537 584.4,534 584,533.2 581.6,531 581,530.6 578,529.5 575.2,528 575,527.9 572,525.7 571.2,525 569,523.2 567.5,522 566,520.6 564,519 563,518.1 561.2,516 560,514.5 558.7,513 557,511.3 555.8,510 554,508.1 552.7,507 551,505 550,504 548,502.2 545.9,501 545,500.3 542,499.3 539,499.7 536,500.8 535.7,501 533,502.5 531.3,504 530,504.8 527,505.2 524,504.7 521.6,504 521,503.8 518,503.4 515,503.8 514.6,504 512,504.8 509,504.5 507.9,504 506,503.1 504.2,501 503,498.9 502.6,498 501.7,495 500.8,492 500,489.1 500,489 499,486 498,483 497,480.6 496.7,480 494.9,477 494,475.5 491.9,474 491,473.4 488,471.7 485,471.2 482,473.7 479,473.6ZM293,386.6 294.8,387 296,387.7 299,389.9 299.1,390 299,390.4 298.3,393 296,395.2 294.6,396 293,396.6 290.5,396 290,395.7 289.1,393 289.4,390 290,388.9 292,387ZM437,416.6 438.2,417 437,417.5 436,417ZM719,508.2 722,507.8 725,508.9 726.3,510 728,512.5 728.2,513 728.9,516 728.9,519 728,521.7 727.9,522 725.1,525 725,525.1 722,525.9 719,525.2 718.7,525 716,522.1 715.9,522 714.9,519 714.6,516 715.1,513 716,510.8 716.7,510Z"/>
<path fill="#1ea0ff" fill-rule="evenodd" d="M497,207.9 497.8,207 500,207 503,207 506,207 509,207 512,207 515,207 518,207 521,207 524,207 527,207 530,207 533,207 536,207 539,207 542,207 545,207 548,207 551,207 554,207 557,207 560,207 563,207 566,207 569,207 572,207 575,207 578,207 581,207 584,207 587,207 590,207 593,207 596,207 599,207 602,207 605,207 608,207 611,207 614,207 617,207 620,207 623,207 626,207 629,207 631.9,207 631.5,210 631,213 630.3,216 629.4,219 629,220.1 628.3,222 626.8,225 626,226.2 624.8,228 623,230.2 622.4,231 620,233.8 619.8,234 617,237 617,237 614,239.7 613.6,240 611,241.6 608,242.5 605,242.4 602,241.4 599.8,240 599,239.5 596,237.3 595.4,237 593,235.5 590,234.7 587,235.2 584.5,237 584,237.4 582.2,240 581,242 580.5,243 579.2,246 578,248.7 577.9,249 576.5,252 575,254.7 574.8,255 572.6,258 572,258.8 569.5,261 569,261.4 566,262.9 563,263.3 560,263 557,261.9 555.4,261 554,260.3 551,258.7 549.3,258 548,257.5 545,256.8 542,256.9 539,257.6 537.7,258 536,258.6 533,259.8 530,260.7 528.7,261 527,261.4 524,261.5 521,261.3 519.1,261 518,260.9 515,260.6 512,260.5 509,260.8 508.3,261 506,261.6 503,262.6 500,263.9 499.8,264 497,265.4 494.2,267 494,267.1 491,269.2 489.9,270 488,271.5 485.6,273 485,273.4 482,274.5 479,274.6 476,274.1 473,273.2 472.6,273 470,272.3 467,271.8 464,272.1 461.4,273 461,273.2 458,274.6 455,275.5 452,275.8 449,275.4 446,274.7 443,275.1 441.4,276 440,277.1 437.9,279 437,279.9 434.6,282 434,282.5 431,285 430.9,285 428,287.2 426.3,288 425,288.6 422,289.7 419,290.8 418.7,291 416,293.1 415.2,294 413,296.8 412.8,297 410.1,300 410,300.1 407,302.6 406.3,303 404,304.2 401,305.4 399,306 398,306.4 395,307.5 392,308.7 391.2,309 389,312 389,312 389,315 389,315.2 389.1,318 389.6,321 390.2,324 390.6,327 391.3,330 392,332.8 392.1,333 393.2,336 394.4,339 395,340.1 396.2,342 398,344.2 398.8,345 401,346.8 402.7,348 404,348.8 407,350.6 407.7,351 410,352.3 412.4,354 413,354.4 415.8,357 416,357.2 418.6,360 419,360.4 421.7,363 422,363.3 425,365.6 425.5,366 428,367.4 431,368.9 431.4,369 434,369.6 437,370.1 440,370.9 442.2,372 443,372.5 446,374.3 447.4,375 449,375.9 452,376.7 455,376.7 458,376.1 460.9,375 461,375 464,373.4 466.1,372 467,371.4 470,369.2 470.2,369 473,366.7 474.2,366 476,364.8 479,363.7 482,363.7 485,364.4 488,365.8 488.2,366 491,367.3 494,368.7 495.1,369 497,369.5 500,369.5 501.9,369 503,368.6 506,366.7 506.9,366 509,363.5 509.4,363 511.3,360 512,358.7 512.9,357 514.4,354 515,353 516.5,351 518,349 519,348 521,346.3 523.2,345 524,344.6 527,343.4 530,342.7 533,342.2 536,342.1 539,342.1 542,342.2 545,342.3 548,342.2 551,342 551.3,342 554,341.7 557,341.4 560,341.1 563,340.6 566,340 569,339.1 569.2,339 572,337.8 574.9,336 575,336 578,333.9 579.2,333 581,331.7 583.4,330 584,329.6 587,327.7 588.3,327 590,326 593,324.1 593.2,324 595.7,321 596,320.6 597.7,318 599,315.9 599.6,315 601.6,312 602,311.4 603.8,309 605,307.5 606.6,306 608,304.7 610.3,303 611,302.5 614,301 617,300 617.1,300 620,299.3 623,298.8 626,298.5 629,298.2 632,298 635,297.7 638,297.4 641,297.1 641.5,297 644,296.7 647,296.3 650,295.8 653,295.3 656,294.9 659,294.5 662,294.2 665,294.1 668,294.2 671,294.5 674,295 677,295.8 680,296.7 680.8,297 683,297.7 686,298.2 689,297.4 689.7,297 692,295.1 693.2,294 695,291.9 695.9,291 698,288.2 698.3,288 701,285 700.9,282 698,280.6 697.1,279 695,276.6 694.7,276 693,273 692,271.6 691.2,270 689.2,267 689,266.8 686.8,264 686,263.3 683.5,261 683,260.7 680,258.7 678.7,258 677,257.2 674,256 671.8,255 671,254.7 668,253.1 666.5,252 665,250.8 663.2,249 662,247.6 660.8,246 659,243.1 658.9,243 657.3,240 656,237 656,236.8 655.1,234 654.7,231 654.8,228 655.2,225 655.8,222 656,221.1 656.5,219 657.4,216 658.2,213 659,210.2 659,210 659.6,207 662,207 665,207 668,207 671,207 674,207 677,207 680,207 682.2,207 680,208.3 678.2,210 677,210.9 675.2,213 674,214.1 672.6,216 671,217.9 670.4,219 668.5,222 668,223 667.1,225 666.1,228 665.6,231 665.6,234 666.2,237 667.7,240 668,240.4 671,242.9 671.2,243 674,244.1 677,244.5 680,244.4 683,243.8 684.9,243 686,242.3 688.3,240 689,238.9 690,237 690.9,234 691.4,231 691.7,228 691.6,225 691.4,222 691.1,219 690.6,216 690.1,213 689.3,210 689,208.9 687.4,207 689,207 692,207 695,207 698,207 701,207 704,207 707,207 710,207 713,207 716,207 719,207 722,207 725,207 728,207 731,207 734,207 737,207 740,207 741.7,207 743,207.6 746,209.3 747.5,210 749,210.7 752,211.3 755,211 758,210.4 759.8,210 761,209.7 764,208.9 767,208.1 770,207.1 770.2,207 773,207 776,207 779,207 782,207 785,207 788,207 791,207 794,207 797,207 800,207 803,207 806,207 809,207 812,207 815,207 818,207 821,207 824,207 827,207 830,207 833,207 836,207 839,207 842,207 845,207 845,210 845,213 845,216 845,219 845,222 845,225 845,228 845,231 845,234 845,237 845,240 845,243 845,246 845,249 845,252 845,255 845,258 845,261 845,264 845,267 845,270 845,273 845,273.4 844.7,273 842,270.9 839.5,270 839,269.8 836,269.5 833,269.6 830,270 830,270 827,270.7 824,271.7 821.2,273 821,273.1 818,275.8 817.8,276 816.2,279 815.5,282 815.7,285 817,288 818,289.4 819.5,291 821,292.3 823.2,294 824,294.5 827,295.9 830,297 830,297 833,297.5 836,297.4 837.5,297 839,296.5 842,294.8 842.9,294 845,291.4 845,294 845,297 845,300 845,303 845,306 845,309 845,310.2 842,311.2 839.4,312 839,312.1 836,312.8 833,313.2 830,313.2 827,313 824,312.4 822.5,312 821,311.6 818,310.5 815,309.3 814.4,309 812,307.8 809.2,306 809,305.8 806,303.3 805.7,303 803.2,300 803,299.8 801,297 800,295.2 799.3,294 797.9,291 797,288.3 796.9,288 796,285 795.3,282 794.6,279 794.1,276 794,275.7 793.4,273 792.6,270 791.7,267 791,265.2 790.4,264 788.7,261 788,260 786.1,258 785,257.1 782,255.2 781.7,255 779,253.8 776,252.6 774.6,252 773,251.3 770,250 767.4,249 767,248.8 764,247.6 761,246.8 758,246.5 755,246.1 754.5,246 752,245.1 749.9,243 749,241.8 747.8,240 746,237.6 745.5,237 743,234.3 742.7,234 740,231.5 739.6,231 737,228.2 736.9,228 734.6,225 734,224.5 732.1,222 731,221.1 728.6,219 728,218.6 725,217.2 722,216.5 719,216.6 716,217.6 714.1,219 713,220.7 712.4,222 711.8,225 712,228 712.6,231 713,232.3 714.2,234 716,236.6 719,235.4 722,234.9 725,236.2 725.9,237 725.2,240 725,240.1 722,241.1 719,240.2 718.4,240 716,237.4 713,239.5 712.8,240 711,243 710,245.1 709.7,246 708.7,249 708.1,252 707.6,255 707.4,258 707.2,261 707.1,264 707,265.1 706.8,267 706.3,270 705.6,273 704.5,276 704,277.7 703,279 701.1,282 701,285 704,286 706.4,288 707,288.3 710,290.3 710.8,291 713,292.2 715.7,294 716,294.2 719,295.8 721.2,297 722,297.4 725,298.9 727.2,300 728,300.4 731,301.7 734,302.8 734.8,303 737,303.5 740,303.8 743,304 746,304.2 749,304.3 752,304.4 755,304.7 758,305.2 761,305.9 761.3,306 764,306.8 767,308 769,309 770,309.6 773,311.6 773.5,312 776,314.3 776.7,315 779,317.8 779.2,318 781.2,321 782,322.3 783,324 784.5,327 785,328.2 785.9,330 787.3,333 788,334.3 789,336 791,338.8 791.1,339 794,341.8 794.2,342 797,344.1 798.2,345 800,346.2 802.7,348 803,348.2 806,350 807.6,351 809,351.9 812,353.7 812.4,354 815,355.9 816.3,357 818,358.8 819,360 820.4,363 820.9,366 820.7,369 819.8,372 818.6,375 818,376.1 817.1,378 815.5,381 815,381.8 813.9,384 812.3,387 812,387.6 810.9,390 809.7,393 809,394.9 808.7,396 807.8,399 807.2,402 806.7,405 806.3,408 806.1,411 806,413.2 806,414 805.9,417 805.9,420 805.9,423 806,426 806,426.6 806.1,429 806.3,432 806.5,435 806.9,438 807.3,441 807.8,444 808.5,447 809,449 809.3,450 810.2,453 811.2,456 812,458.1 812.3,459 813.2,462 814,465 814.7,468 815,469.7 815.2,471 815.4,474 815.5,477 815.2,480 815,480.7 814,483 812,485.8 811.8,486 809,488.4 808.2,489 806,490.6 803.9,492 803,492.7 800.1,495 800,495.2 797.5,498 797,499 796,501 795.1,504 794.5,507 794.1,510 794,510.5 793.6,513 793.1,516 792.6,519 791.9,522 791.1,525 791,525.3 789.9,528 788.5,531 788,531.9 786.4,534 785,535.9 783.7,537 782,538.5 779,539.8 776,540 773,538.7 771.2,537 770,535.2 769.5,534 768.4,531 767.8,528 767.3,525 767.1,522 767,519.9 767,519 767,516 767,515.9 767.2,513 767.5,510 767.9,507 768.6,504 769.4,501 770,499.1 770.5,498 771.7,495 772.9,492 773,490.9 773.6,489 773,488.5 770,486.7 768.2,486 767,485.8 764,485 761,484.2 758,483.4 756,483 755,482.8 752,482.5 749,482.8 747.7,483 746,483.4 743,484.3 740,484.9 737,485.6 734,485.5 732.9,483 731,481.4 730.1,480 728,478.4 726.2,477 725,476.4 722,475.5 719,475.5 716,476.5 715.2,477 713,479.3 712.3,480 711.1,483 711.6,486 713,487.2 716,488.6 717.8,489 719,489.2 722,489.1 723.4,489 725,488.7 728,487.9 731,487.1 734,486.3 736.3,489 737,489.7 738,492 739.5,495 740,496.2 740.6,498 741.4,501 741.9,504 742.1,507 742.2,510 742,513 741.7,516 741.3,519 740.6,522 740,524.1 739.7,525 738.3,528 737,529.8 735.9,531 734,532.5 731,533.9 730.8,534 728,534.6 725,534.8 722,534.5 720.3,534 719,533.6 716,532.1 714.4,531 713,529.8 711.3,528 710,526.2 709.2,525 707.6,522 707,520.5 706.4,519 705.4,516 704.7,513 704,510 704,509.8 703.5,507 703.1,504 702.7,501 702.2,498 701.3,495 701,494.5 698.4,492 698,491.8 695,490.9 692,490.5 689,490.4 686,490.4 683,490.6 680,490.9 677,491.1 674,491.7 672.9,492 671,492.6 668,493.8 665.5,495 665,495.3 662,497.7 661.7,498 659.2,501 659,501.3 656.8,504 656,505.1 654.3,507 653,508.3 650.5,510 650,510.3 647,511.4 644,512 641,512.5 638.4,513 638,513.1 637.6,513 635,512.5 632.6,513 632,513.1 629,513.8 626,514.3 623,514.9 620,515.4 617,515.9 616.7,516 614,516.4 611,517 608,517.5 605,518.3 603.7,519 602,520 599,521.9 598.9,522 598.2,525 598.1,528 597.8,531 597.1,534 596,537 596,537 594.5,540 593,541.8 592,543 590,544.6 587.8,546 587,546.4 584,547.4 581,548.1 578,548.5 575,548.6 572,548.7 569,548.8 566,548.6 563,548.1 560,547.4 557,546.6 554.7,546 554,545.8 551,545.2 548,544.2 545,543.1 544.7,543 542,542.1 539,541.1 536,540.1 535.8,540 533,539.1 530,538.1 527.4,537 527,536.8 524,535.7 521,534.7 519.2,534 518,533.6 515,532.6 512,531.6 510.7,531 509,530.3 506,528.8 504.5,528 503,527.1 500,525.6 498.2,525 497,524.6 494,524.4 491,523.8 488,522.6 486.8,522 485,521 482,519.1 481.9,519 479,517.1 477,516 476,515.3 473,513.4 472.5,513 470,511 468.8,510 467,508.3 465.8,507 464,504.5 463.7,504 461.9,501 461,499.6 459.9,498 458,495.7 457.3,495 455,493 453.5,492 452,491 449.1,489 449,489 446,486.7 444.9,486 443,484.9 440,483.8 437,483.6 434,483.2 433.7,483 431.5,480 431,479 429.8,477 428,474.8 426.9,474 425,472.6 422.3,471 422,470.8 419,468.8 417.9,468 416,466.6 414,465 413,464 411,462 410,460.9 408.4,459 407,457.5 405.8,456 404,454 403.2,453 401,450.4 400.7,450 398.3,447 398,446.5 396.2,444 395,442.2 394.1,441 392,438 392,438 389.6,435 389,434.3 387.3,432 386,430 385.4,429 384.2,426 383.5,423 383,420 383,419.6 382.7,417 382.6,414 382.3,411 381.9,408 381,405 380,402.9 379.5,402 377,399.2 376.8,399 374,397.4 371,396.6 368,396.7 365,397.2 362,397.5 359,397.3 356,396.7 354.2,396 353,395.5 350,394.4 347,393.3 346,393 344,392.3 341,391.3 338,390.2 337.4,390 335,389.1 332,388.2 329,388.2 326,389.7 325.8,390 323,393 323,393 320.6,396 320,396.6 317.5,399 317,399.3 314,400.7 311,400.9 308,399.7 305,399.2 302,400.2 299.2,402 299,402.2 296,404.4 295,405 293,406.3 290,407.8 289.3,408 287,408.9 284,409.6 281,410.1 279,411 278,411.7 276.7,414 275,416.8 274.9,417 272.7,420 272,420.8 270.1,423 269,424.1 266.7,426 266,426.5 263,428.3 261.4,429 260,429.6 257,430.2 254,430.3 251,430.1 248,429.6 245.5,429 245,428.9 242,427.9 239,426.6 237.9,426 236,424.5 234.5,423 233,420.2 232.9,420 232.3,417 232.6,414 233,412.8 233.5,411 235.2,408 236,407.1 237.7,405 239,404 242,402 242,402 245,401.4 248,401.6 249.9,402 251,402.3 254,403.3 257,404.2 259.9,405 260,405 263,405.9 266,406.5 269,407.1 272,407.7 274.9,408 275,408 275.1,408 278,406.8 278.7,405 279.7,402 280.6,399 281,398.1 281.6,396 282.7,393 284,390 284,390 285.8,387 287,385.7 289.1,384 290,383.5 293,383 296,382.2 297.8,381 299,378.5 299.3,378 299.6,375 299.1,372 299.3,369 301.7,366 302,365.7 305,365.5 308,364.6 308.7,363 308.3,360 308,358.8 307.5,357 306.7,354 306.2,351 305.8,348 305.7,345 306,342 306.6,339 307.4,336 308,334.8 308.7,333 310.2,330 311,328.4 311.7,327 313.2,324 314,322 314.5,321 315.9,318 317,315.8 317.5,315 319.8,312 320,311.9 323,309.9 325,309 326,308.6 329,307.6 332,306.7 334.5,306 335,305.8 338,305.1 341,304.5 344,303.8 347,303.2 347.6,303 350,302.1 352.9,300 353,299.9 355,297 356,294.3 356.1,294 356.3,291 356.4,288 356.3,285 356,282 356,281.5 355.8,279 355.7,276 355.8,273 356,272 356.3,270 357.5,267 359,265.4 360.1,264 362,262.6 364,261 365,260.4 368,258.8 370.6,258 371,257.9 374,257.5 377,257.6 380,257.9 380.4,258 383,258.5 386,259.3 389,260.4 390.2,261 392,262 394.7,264 395,264.2 398,266.5 398.7,267 401,268.3 404,269.4 407,269.7 410,268.8 412.2,267 413,266.1 414.4,264 415.9,261 416,260.8 417.3,258 418.5,255 419,253.7 420.1,252 422,249.6 423,249 425,247.9 428,247.2 431,246.5 432.2,246 434,244.9 435.4,243 437,240.6 437.4,240 439.6,237 440,236.4 442.4,234 443,233.5 446,231.9 449,231.4 452,231.7 455,232.8 456.9,234 458,234.6 461,236.6 461.5,237 464,238.4 467,239.9 468.2,240 470,240.2 471.2,240 473,239.7 476,238.6 478.7,237 479,236.8 481.9,234 482,233.8 484,231 485,229.5 486,228 487.8,225 488,224.6 489.5,222 491,219 491,219 492.5,216 493.9,213 494,212.8 495.6,210ZM534.7,213 533,213.2 530,213.8 527,214.2 524,214.6 521,215 518,215.6 515.7,216 515,216.2 512,216.9 509,218 507.1,219 506,219.6 503,221.7 502.7,222 500,224.6 499.6,225 497,228 497,228 494.6,231 494,231.8 492.4,234 491,236.1 490.4,237 488.6,240 488,241.1 486.8,243 485,245.7 484.5,246 482,247.5 479,247.6 476,247.4 473,247.2 470,247.2 467,247 464.2,246 464,245.9 461,244 459.3,243 458,242.2 455,240.8 452,240.1 449,240.1 446,241.1 443.3,243 443,243.2 440.2,246 440,246.2 437.5,249 437,249.5 434.2,252 434,252.2 431,254 428.9,255 428,255.4 425,257.1 424,258 422,259.9 421.2,261 419.2,264 419,264.3 417.6,267 416.1,270 416,270.2 414.2,273 413,274.7 410,275.6 407,275.3 404,274.4 401,273.1 400.7,273 398,271.6 395.2,270 395,269.9 392,268.1 390.2,267 389,266.3 386,264.7 384.1,264 383,263.6 380,263.1 377,262.7 374,262.6 371,263 369.1,264 368,264.9 366.1,267 365,269.2 364.6,270 363.9,273 363.7,276 364,279 364.6,282 365,283.3 365.7,285 367.3,288 368,288.9 370.4,291 371,291.5 374,292.9 377,293.6 379.3,294 380,294.1 383,294.7 386,295.5 389,296.6 390.3,297 392,297.6 395,298.2 398,298.2 401,297.6 402.4,297 404,296.3 407,294 407,294 409.6,291 410,290.3 411.6,288 413,285.7 413.7,285 416,282.8 419,282.1 419.5,282 422,281.7 425,280.9 428,279.5 428.8,279 431,277.4 432.7,276 434,274.8 436.2,273 437,272.4 440,270.9 443,270.2 446,270.5 449,271.3 452,271.8 455,271.5 458,270.6 459.4,270 461,269.3 464,268.4 467,268 470,268 473,267.9 476,267.2 476.6,267 479,265.5 480.7,264 482,262 482.7,261 484.2,258 485,256.2 486.7,255 488,254.2 491,254.7 492.4,255 494,255.2 497,255.4 500,255 500.1,255 503,254.3 506,253.4 509,252.8 512,252.4 515,252.5 518,252.8 521,253.3 524,253.7 527,253.9 530,253.6 533,253 536,252.1 536.3,252 539,251.3 542,250.8 545,250.9 548,251.5 549.2,252 551,252.7 554,254 556.4,255 557,255.2 560,256 563,255.8 565.2,255 566,254.6 569,252 569,252 571,249 572,246.9 572.4,246 573.5,243 574.3,240 575,237 575,236.8 575.5,234 575.9,231 576,228 575.7,225 575,223 574.6,222 572.1,219 572,218.9 569,217 566.7,216 566,215.8 563,214.8 560,214.1 557,213.4 555.3,213 554,212.7 551,212.2 548,211.9 545,211.8 542,212 539,212.3 536,212.8ZM601.6,213 599,215.5 598.7,216 597.4,219 597.3,222 598,225 599,227.3 599.3,228 601.3,231 602,231.8 605,233.1 608,231.4 608.4,231 610.4,228 611,226.6 611.6,225 612.2,222 612.4,219 611.8,216 611,214.1 610,213 608,211.7 605,211.5 602,212.7ZM655.1,309 653,310.2 650,311.6 648.9,312 647,312.7 644,313 641,312.5 639.2,312 638,311.7 635,310.9 632,310.3 629,309.8 626,309.6 623,309.9 620,310.5 617,311.5 616.1,312 614,313.2 611.7,315 611,315.6 608.6,318 608,318.6 606,321 605,322.3 603.6,324 602,326 601.1,327 599,329.1 597.9,330 596,331.4 593.2,333 593,333.1 590,335.1 588.9,336 587,338.2 586.3,339 584.4,342 584,342.8 582.7,345 581,347.8 580.9,348 578.5,351 578,351.5 575,353.4 572,354 571.8,354 569,354.4 566,354.5 563,354.5 560,354.5 557,354.7 554,354.8 551,354.9 548,355 545,355 542,354.8 539,354.8 536,354.9 533,355.3 530,356.1 528,357 527,357.5 524,359.9 523.9,360 521.4,363 521,363.5 519.1,366 518,367.5 516.8,369 515,371 514,372 512,373.6 509.6,375 509,375.3 506,376.3 503,376.5 500,376.3 497,375.8 494,375.1 493.4,375 491,374.5 488,373.7 485,372.9 482,372.4 479,372.5 476,373.5 473.7,375 473,375.5 470,377.9 469.9,378 467,380.5 466.3,381 464,383.1 462.8,384 461,385.5 458.8,387 458,387.6 455,388.9 452,388.7 449,387.5 448.1,387 446,385.9 443,384.1 442.8,384 440,381.8 438.9,381 437,379.7 434,378.2 433.4,378 431,377.2 428,375.9 426.2,375 425,374.4 422,372.8 420.4,372 419,371.2 416,369.4 415.5,369 413,366.7 412.1,366 410,364.1 408.5,363 407,361.9 404,360.1 403.7,360 401,358.8 398,357.8 395,357 395,357 392,356 389,354.2 388.8,354 386,351.2 385.8,351 383.3,348 383,347.6 381.3,345 380.1,342 380.4,339 380.5,336 380.5,333 380.5,330 380.4,327 380,325.4 379.7,324 378.5,321 377,318.6 376.5,318 374,315.8 371.7,315 371,314.8 368,314.7 366.3,315 365,315.3 362,316.6 359.3,318 359,318.2 356,318.6 355.3,318 353,316.8 351.2,315 350,314.2 347,312.4 345.9,312 344,311.4 341,310.9 338,310.8 335,311.3 332.7,312 332,312.2 329,313.7 327,315 326,315.8 324.1,318 323,319.7 322.2,321 320.8,324 320,325.8 319.4,327 317.4,330 317,330.5 315.5,333 314,336 314,336 313.1,339 312.7,342 312.7,345 313.2,348 314,350.5 314.2,351 315.8,354 317,356 317.8,357 320,360 320,360 322.4,363 323,363.8 324.6,366 326,367.8 326.8,369 329,371.3 329.6,372 332,374.3 332.7,375 335,377.1 336,378 338,379.7 339.8,381 341,381.9 344,383.7 344.9,384 347,384.6 350,385.3 353,386.3 354.3,387 356,387.8 359,389.4 360.8,390 362,390.3 364.6,390 365,389.9 368,389.2 371,388.9 374,389.2 376.3,390 377,390.2 380,391.8 381.9,393 383,393.8 385.9,396 386,396.1 388.6,399 389,399.9 389.9,402 390.5,405 390.5,408 390.2,411 389.8,414 389.3,417 389,420 389,420.7 389,423 389,423.4 389.4,426 390.9,429 392,430.6 393,432 395,434.8 395.1,435 397,438 398,439.7 398.7,441 400.6,444 401,444.6 403.1,447 404,448 405.9,450 407,451.2 408.8,453 410,454.3 411.6,456 413,457.5 414.5,459 416,460.5 417.8,462 419,462.9 421.9,465 422,465 425,466.9 427,468 428,468.5 431,470.9 431.1,471 433.4,474 434,475.2 435.3,477 437,478.5 440,478.9 443,479.5 444.4,480 446,480.6 449,482.4 449.8,483 452,484.6 454.1,486 455,486.5 458,488.1 459,489 461,491.1 461.6,492 463.4,495 464,496 465.1,498 466.6,501 467,501.7 468.5,504 470,505.9 471,507 473,508.8 474.4,510 476,511.2 478.4,513 479,513.4 482,515.5 482.6,516 485,517.5 487.3,519 488,519.4 491,520.6 494,520.9 497,520.6 500,521 501.8,522 503,522.7 506,525 506,525 509,527 511.1,528 512,528.4 515,529.4 518,530.5 519.5,531 521,531.5 524,532.4 527,533.7 527.7,534 530,534.9 533,536 535.8,537 536,537.1 539,538.1 542,539.2 543.9,540 545,540.4 548,541.5 551,542.5 553.2,543 554,543.2 557,543.8 560,544.4 563,544.8 566,545.2 569,545.5 572,545.7 575,545.7 578,545.5 581,545.1 584,544.2 586.2,543 587,542.2 589,540 590,537.5 590.2,537 590.6,534 590.1,531 590,530.8 588.7,528 587,525.6 586.2,525 584,523.1 581.9,522 581,521.3 578.3,519 578,518.6 576,516 575,514.3 574.1,513 572,510.1 571.9,510 570.5,507 572,505.7 575,504.2 578,505.4 581,505.6 584,505.2 587,504.8 590,504.4 592.3,504 593,503.9 596,503.6 599,503.5 602,503 605,502.3 608,501.4 609.1,501 611,500.3 614,498.8 615.5,498 617,497.1 620,495 620.1,495 623,493 624.4,492 626,490.8 628.4,489 629,488.6 632,486.7 633.2,486 635,485 638,483.3 638.7,483 641,482.1 644,480.6 645.1,480 647,479.2 650,477.9 652.5,477 653,476.9 656,476.1 659,475.6 662,475.3 665,475 668,474.7 671,474.3 672.6,474 674,473.7 677,473.1 680,472.3 683,471.2 683.6,471 686,470.1 689,468.7 690.4,468 692,467.1 695,465.4 695.7,465 698,463.8 701,462.2 701.5,462 704,460.9 707,459.7 709.3,459 710,458.8 713,458 716,457.5 719,457.2 722,457.3 725,457.6 728,458.3 730.5,459 731,459.1 734,460.1 737,461.2 739.2,462 740,462.3 743,463.2 746,463.8 749,464.1 752,464.3 755,464.1 758,463.7 761,463 763.9,462 764,462 767,460.6 769.7,459 770,458.8 773,456.7 773.9,456 776,454 777.1,453 779,450.7 779.6,450 781.5,447 782,446 783,444 784.2,441 785,438.5 785.2,438 785.9,435 786.6,432 787.2,429 787.9,426 788,425.5 788.5,423 789.1,420 789.8,417 790.5,414 791,411.3 791,411 791.6,408 792.1,405 792.5,402 792.9,399 793.2,396 793.6,393 793.9,390 794,388.1 794.1,387 794.2,384 794.2,381 794.1,378 794,377.3 793.6,375 792.9,372 791.6,369 791,368 789.8,366 788,363.7 787.5,363 785,360.4 784.5,360 782,357.8 781.2,357 779,355 778.1,354 776,351.6 775.6,351 773.4,348 773,347.3 771.4,345 770,342.9 769.4,342 767.3,339 767,338.5 765,336 764,334.7 762.4,333 761,331.5 759.3,330 758,328.9 755.4,327 755,326.7 752,325.4 749,324.8 746,324.7 743,324.6 740,324.3 738.7,324 737,323.7 734,322.6 731,321 731,321 728,319.1 726.6,318 725,316.9 722.7,315 722,314.5 719,312.5 718.2,312 716,310.8 713,309.7 710,309.1 707,309.1 704,309.7 701,310.9 699.1,312 698,312.7 695,314.7 694.5,315 692,316.8 689.3,318 689,318.2 686,318.5 684.7,318 683,317.4 680,315.2 679.8,315 677,312.7 676.3,312 674,310.3 672,309 671,308.4 668,307.3 665,306.8 662,306.8 659,307.5 656,308.6ZM292,387 290,388.9 289.4,390 289.1,393 290,395.7 290.5,396 293,396.6 294.6,396 296,395.2 298.3,393 299,390.4 299.1,390 299,389.9 296,387.7 294.8,387 293,386.6ZM716.7,510 716,510.8 715.1,513 714.6,516 714.9,519 715.9,522 716,522.1 718.7,525 719,525.2 722,525.9 725,525.1 725.1,525 727.9,522 728,521.7 728.9,519 728.9,516 728.2,513 728,512.5 726.3,510 725,508.9 722,507.8 719,508.2ZM404,235.8 407,234.8 410,236.3 410.6,237 411.3,240 410,242.9 410,243 407,245.6 406.6,246 404,247.3 401,247 400.3,246 400,243 400.7,240 401,239.2 402.9,237ZM680,341.1 683,340.5 686,340.8 688.9,342 689,342 692,343.8 693.7,345 695,345.8 698,347.8 698.3,348 701,349.6 704,350.9 704.4,351 707,351.9 710,352.4 713,352.5 716,352.4 719,352.3 722,352.4 725,353.1 726.8,354 728,354.8 730.1,357 731,358.4 731.9,360 733.1,363 733.9,366 734,366.4 734.6,369 735.3,372 736,375 736.7,378 737,379.3 737.7,381 740,383.9 740.2,384 743,385.1 746,385.8 749,386.5 750.7,387 752,387.4 755,388.7 756.9,390 758,390.8 760.1,393 761,394.4 761.9,396 762.8,399 763.1,402 762.7,405 761.4,408 761,408.5 758.5,411 758,411.3 755,412.5 752,412.7 749,412 747,411 746,410.3 743.6,408 743,407.2 741.6,405 740.1,402 740,401.6 739,399 738.1,396 737.2,393 737,392.1 736.2,390 734,387.4 733.2,387 731,386.3 728,385.8 725,385.4 722,385.1 719,384.8 716,384.6 713,384.3 710,384.1 707.1,384 707,384 704,383.9 701,383.9 698,384 696,384 695,384 693.9,384 692,384 689,383.9 686,383.7 683,383.4 680,383 677,382.5 674,381.9 671,381.3 669.8,381 668,380.6 665,379.8 662,379.1 659,378.5 657.3,378 656,377.6 653,376.4 650,375 649.9,375 647,372.7 646.1,372 644,369.5 643.6,369 642.2,366 641.9,363 642.2,360 643.1,357 644,355.1 644.6,354 646.9,351 647,350.9 650,349 653,348 653,348 656,347.5 659,347 662,346.6 665,346 668,345.3 668.8,345 671,344.3 674,343.2 677,342.1 677.3,342Z"/>
<path fill="#50d2ff" fill-rule="evenodd" d="M416,207 419,207 422,207 425,207 428,207 431,207 434,207 437,207 440,207 443,207 446,207 449,207 452,207 455,207 458,207 461,207 464,207 467,207 470,207 473,207 476,207 479,207 482,207 485,207 488,207 491,207 494,207 497,207 497.8,207 497,207.9 495.6,210 494,212.8 493.9,213 492.5,216 491,219 491,219 489.5,222 488,224.6 487.8,225 486,228 485,229.5 484,231 482,233.8 481.9,234 479,236.8 478.7,237 476,238.6 473,239.7 471.2,240 470,240.2 468.2,240 467,239.9 464,238.4 461.5,237 461,236.6 458,234.6 456.9,234 455,232.8 452,231.7 449,231.4 446,231.9 443,233.5 442.4,234 440,236.4 439.6,237 437.4,240 437,240.6 435.4,243 434,244.9 432.2,246 431,246.5 428,247.2 425,247.9 423,249 422,249.6 420.1,252 419,253.7 418.5,255 417.3,258 416,260.8 415.9,261 414.4,264 413,266.1 412.2,267 410,268.8 407,269.7 404,269.4 401,268.3 398.7,267 398,266.5 395,264.2 394.7,264 392,262 390.2,261 389,260.4 386,259.3 383,258.5 380.4,258 380,257.9 377,257.6 374,257.5 371,257.9 370.6,258 368,258.8 365,260.4 364,261 362,262.6 360.1,264 359,265.4 357.5,267 356.3,270 356,272 355.8,273 355.7,276 355.8,279 356,281.5 356,282 356.3,285 356.4,288 356.3,291 356.1,294 356,294.3 355,297 353,299.9 352.9,300 350,302.1 347.6,303 347,303.2 344,303.8 341,304.5 338,305.1 335,305.8 334.5,306 332,306.7 329,307.6 326,308.6 325,309 323,309.9 320,311.9 319.8,312 317.5,315 317,315.8 315.9,318 314.5,321 314,322 313.2,324 311.7,327 311,328.4 310.2,330 308.7,333 308,334.8 307.4,336 306.6,339 306,342 305.7,345 305.8,348 306.2,351 306.7,354 307.5,357 308,358.8 308.3,360 308.7,363 308,364.6 305,365.5 302,365.7 301.7,366 299.3,369 299.1,372 299.6,375 299.3,378 299,378.5 297.8,381 296,382.2 293,383 290,383.5 289.1,384 287,385.7 285.8,387 284,390 284,390 282.7,393 281.6,396 281,398.1 280.6,399 279.7,402 278.7,405 278,406.8 275.1,408 275,408 274.9,408 272,407.7 269,407.1 266,406.5 263,405.9 260,405 259.9,405 257,404.2 254,403.3 251,402.3 249.9,402 248,401.6 245,401.4 242,402 242,402 239,404 237.7,405 236,407.1 235.2,408 233.5,411 233,412.8 232.6,414 232.3,417 232.9,420 233,420.2 234.5,423 236,424.5 237.9,426 239,426.6 242,427.9 245,428.9 245.5,429 248,429.6 251,430.1 254,430.3 257,430.2 260,429.6 261.4,429 263,428.3 266,426.5 266.7,426 269,424.1 270.1,423 272,420.8 272.7,420 274.9,417 275,416.8 276.7,414 278,411.7 279,411 281,410.1 284,409.6 287,408.9 289.3,408 290,407.8 293,406.3 295,405 296,404.4 299,402.2 299.2,402 302,400.2 305,399.2 308,399.7 311,400.9 314,400.7 317,399.3 317.5,399 320,396.6 320.6,396 323,393 323,393 325.8,390 326,389.7 329,388.2 332,388.2 335,389.1 337.4,390 338,390.2 341,391.3 344,392.3 346,393 347,393.3 350,394.4 353,395.5 354.2,396 356,396.7 359,397.3 362,397.5 365,397.2 368,396.7 371,396.6 374,397.4 376.8,399 377,399.2 379.5,402 380,402.9 381,405 381.9,408 382.3,411 382.6,414 382.7,417 383,419.6 383,420 383.5,423 384.2,426 385.4,429 386,430 387.3,432 389,434.3 389.6,435 392,438 392,438 394.1,441 395,442.2 396.2,444 398,446.5 398.3,447 400.7,450 401,450.4 403.2,453 404,454 405.8,456 407,457.5 408.4,459 410,460.9 411,462 413,464 414,465 416,466.6 417.9,468 419,468.8 422,470.8 422.3,471 425,472.6 426.9,474 428,474.8 429.8,477 431,479 431.5,480 433.7,483 434,483.2 437,483.6 440,483.8 443,484.9 444.9,486 446,486.7 449,489 449.1,489 452,491 453.5,492 455,493 457.3,495 458,495.7 459.9,498 461,499.6 461.9,501 463.7,504 464,504.5 465.8,507 467,508.3 468.8,510 470,511 472.5,513 473,513.4 476,515.3 477,516 479,517.1 481.9,519 482,519.1 485,521 486.8,522 488,522.6 491,523.8 494,524.4 497,524.6 498.2,525 500,525.6 503,527.1 504.5,528 506,528.8 509,530.3 510.7,531 512,531.6 515,532.6 518,533.6 519.2,534 521,534.7 524,535.7 527,536.8 527.4,537 530,538.1 533,539.1 535.8,540 536,540.1 539,541.1 542,542.1 544.7,543 545,543.1 548,544.2 551,545.2 554,545.8 554.7,546 557,546.6 560,547.4 563,548.1 566,548.6 569,548.8 572,548.7 575,548.6 578,548.5 581,548.1 584,547.4 587,546.4 587.8,546 590,544.6 592,543 593,541.8 594.5,540 596,537 596,537 597.1,534 597.8,531 598.1,528 598.2,525 598.9,522 599,521.9 602,520 603.7,519 605,518.3 608,517.5 611,517 614,516.4 616.7,516 617,515.9 620,515.4 623,514.9 626,514.3 629,513.8 632,513.1 632.6,513 635,512.5 637.6,513 638,513.1 638.4,513 641,512.5 644,512 647,511.4 650,510.3 650.5,510 653,508.3 654.3,507 656,505.1 656.8,504 659,501.3 659.2,501 661.7,498 662,497.7 665,495.3 665.5,495 668,493.8 671,492.6 672.9,492 674,491.7 677,491.1 680,490.9 683,490.6 686,490.4 689,490.4 692,490.5 695,490.9 698,491.8 698.4,492 701,494.5 701.3,495 702.2,498 702.7,501 703.1,504 703.5,507 704,509.8 704,510 704.7,513 705.4,516 706.4,519 707,520.5 707.6,522 709.2,525 710,526.2 711.3,528 713,529.8 714.4,531 716,532.1 719,533.6 720.3,534 722,534.5 725,534.8 728,534.6 730.8,534 731,533.9 734,532.5 735.9,531 737,529.8 738.3,528 739.7,525 740,524.1 740.6,522 741.3,519 741.7,516 742,513 742.2,510 742.1,507 741.9,504 741.4,501 740.6,498 740,496.2 739.5,495 738,492 737,489.7 736.3,489 734,486.3 731,487.1 728,487.9 725,488.7 723.4,489 722,489.1 719,489.2 717.8,489 716,488.6 713,487.2 711.6,486 711.1,483 712.3,480 713,479.3 715.2,477 716,476.5 719,475.5 722,475.5 725,476.4 726.2,477 728,478.4 730.1,480 731,481.4 732.9,483 734,485.5 737,485.6 740,484.9 743,484.3 746,483.4 747.7,483 749,482.8 752,482.5 755,482.8 756,483 758,483.4 761,484.2 764,485 767,485.8 768.2,486 770,486.7 773,488.5 773.6,489 773,490.9 772.9,492 771.7,495 770.5,498 770,499.1 769.4,501 768.6,504 767.9,507 767.5,510 767.2,513 767,515.9 767,516 767,519 767,519.9 767.1,522 767.3,525 767.8,528 768.4,531 769.5,534 770,535.2 771.2,537 773,538.7 776,540 779,539.8 782,538.5 783.7,537 785,535.9 786.4,534 788,531.9 788.5,531 789.9,528 791,525.3 791.1,525 791.9,522 792.6,519 793.1,516 793.6,513 794,510.5 794.1,510 794.5,507 795.1,504 796,501 797,499 797.5,498 800,495.2 800.1,495 803,492.7 803.9,492 806,490.6 808.2,489 809,488.4 811.8,486 812,485.8 814,483 815,480.7 815.2,480 815.5,477 815.4,474 815.2,471 815,469.7 814.7,468 814,465 813.2,462 812.3,459 812,458.1 811.2,456 810.2,453 809.3,450 809,449 808.5,447 807.8,444 807.3,441 806.9,438 806.5,435 806.3,432 806.1,429 806,426.6 806,426 805.9,423 805.9,420 805.9,417 806,414 806,413.2 806.1,411 806.3,408 806.7,405 807.2,402 807.8,399 808.7,396 809,394.9 809.7,393 810.9,390 812,387.6 812.3,387 813.9,384 815,381.8 815.5,381 817.1,378 818,376.1 818.6,375 819.8,372 820.7,369 820.9,366 820.4,363 819,360 818,358.8 816.3,357 815,355.9 812.4,354 812,353.7 809,351.9 807.6,351 806,350 803,348.2 802.7,348 800,346.2 798.2,345 797,344.1 794.2,342 794,341.8 791.1,339 791,338.8 789,336 788,334.3 787.3,333 785.9,330 785,328.2 784.5,327 783,324 782,322.3 781.2,321 779.2,318 779,317.8 776.7,315 776,314.3 773.5,312 773,311.6 770,309.6 769,309 767,308 764,306.8 761.3,306 761,305.9 758,305.2 755,304.7 752,304.4 749,304.3 746,304.2 743,304 740,303.8 737,303.5 734.8,303 734,302.8 731,301.7 728,300.4 727.2,300 725,298.9 722,297.4 721.2,297 719,295.8 716,294.2 715.7,294 713,292.2 710.8,291 710,290.3 707,288.3 706.4,288 704,286 701,285 701.1,282 703,279 704,277.7 704.5,276 705.6,273 706.3,270 706.8,267 707,265.1 707.1,264 707.2,261 707.4,258 707.6,255 708.1,252 708.7,249 709.7,246 710,245.1 711,243 712.8,240 713,239.5 716,237.4 718.4,240 719,240.2 722,241.1 725,240.1 725.2,240 725.9,237 725,236.2 722,234.9 719,235.4 716,236.6 714.2,234 713,232.3 712.6,231 712,228 711.8,225 712.4,222 713,220.7 714.1,219 716,217.6 719,216.6 722,216.5 725,217.2 728,218.6 728.6,219 731,221.1 732.1,222 734,224.5 734.6,225 736.9,228 737,228.2 739.6,231 740,231.5 742.7,234 743,234.3 745.5,237 746,237.6 747.8,240 749,241.8 749.9,243 752,245.1 754.5,246 755,246.1 758,246.5 761,246.8 764,247.6 767,248.8 767.4,249 770,250 773,251.3 774.6,252 776,252.6 779,253.8 781.7,255 782,255.2 785,257.1 786.1,258 788,260 788.7,261 790.4,264 791,265.2 791.7,267 792.6,270 793.4,273 794,275.7 794.1,276 794.6,279 795.3,282 796,285 796.9,288 797,288.3 797.9,291 799.3,294 800,295.2 801,297 803,299.8 803.2,300 805.7,303 806,303.3 809,305.8 809.2,306 812,307.8 814.4,309 815,309.3 818,310.5 821,311.6 822.5,312 824,312.4 827,313 830,313.2 833,313.2 836,312.8 839,312.1 839.4,312 842,311.2 845,310.2 845,312 845,315 845,318 845,321 845,324 845,327 845,330 845,333 845,336 845,339 845,342 845,345 845,348 845,351 845,354 845,357 845,360 845,363 845,366 845,369 845,372 845,375 845,378 845,378.8 842.2,381 842,381.1 839,383.6 838.5,384 836,386.3 835.3,387 833,389.4 832.5,390 830,393 830,393 827.9,396 827,397.5 826.1,399 824.7,402 824,403.9 823.6,405 823.1,408 822.9,411 823.1,414 823.5,417 824,419.9 824,420 824.6,423 825.4,426 826.2,429 826.9,432 827,432.4 827.6,435 828.2,438 828.5,441 828.7,444 828.6,447 828.4,450 828,453 827.7,456 827.3,459 827,461.1 826.9,462 826.5,465 826.1,468 825.7,471 825.2,474 824.7,477 824.1,480 824,480.6 823.4,483 822.4,486 821.2,489 821,489.5 819.6,492 818,494.8 817.8,495 815.6,498 815,498.9 813.2,501 812,502.6 810.8,504 809,506.5 808.7,507 806.7,510 806,511.3 805.1,513 803.7,516 803,517.9 802.6,519 801.6,522 800.7,525 800,527.4 799.8,528 799,531 798.2,534 797.4,537 797,538.6 796.6,540 795.7,543 794.8,546 794,548.3 793.7,549 792.6,552 791.2,555 791,555.5 789.7,558 788,560.8 787.9,561 785.8,564 785,565 783.3,567 782,568.6 780.6,570 779,571.7 777.6,573 776,574.6 774.3,576 773,577.2 770.7,579 770,579.6 767,581.7 766.2,582 764,582.9 761,582.6 760.5,582 758.4,579 758,578.3 757.3,576 756.3,573 755.3,570 755,569.3 754.3,567 753.2,564 752,561.2 751.9,561 750.7,558 749.1,555 749,554.9 747.1,552 746,550.7 744.2,549 743,548.2 740,546.6 738.3,546 737,545.6 734,544.9 731,544.2 728,543.6 725.8,543 725,542.8 722,541.9 719,540.9 717.1,540 716,539.5 713,537.7 712,537 710,535.5 708.4,534 707,532.6 705.6,531 704,528.8 703.4,528 701.5,525 701,524.1 699.7,522 698.1,519 698,518.8 696.2,516 695,514.1 694.1,513 692,510.8 690.8,510 689,508.8 686,507.8 683,507.5 680,507.8 677,508.9 675.1,510 674,510.6 671,513 671,513 668,515.8 667.8,516 665,518.9 664.9,519 662,521.8 661.8,522 659,524.1 657.4,525 656,525.6 653,526.4 650,526.8 647,527.2 644,527.4 641,527.7 638,528 635,527.6 632.3,528 632,528 629,528.5 626,528.9 623,529.4 620,529.9 617,530.7 616.1,531 614,531.8 611,533.2 609.7,534 608,535 605.8,537 605,537.6 602.7,540 602,540.5 599.6,543 599,543.4 596,545.7 595.6,546 593,547.5 590,548.9 589.9,549 587,549.9 584,550.5 581,551.2 578,551.6 575,551.6 572,551.8 569,551.9 566,551.8 563,551.3 560,550.6 557,549.6 554.9,549 554,548.8 551,548.2 548,547.3 545,546.1 544.7,546 542,545.3 539,544.3 536,543.1 535.6,543 533,542.3 530,541.3 527,540 527,540 524,539 521,538 518.7,537 518,536.7 515,535.8 512,534.8 510.1,534 509,533.5 506,532.2 503,531.1 502.9,531 500,529.9 497,528.9 494,528.1 493.8,528 491,527.2 488,525.9 486.1,525 485,524.5 482,522.6 481,522 479,520.8 476,519.1 475.8,519 473,517.4 471.1,516 470,515.2 467.2,513 467,512.8 464,510.2 463.8,510 461.4,507 461,506.4 459.5,504 458,501.7 457.5,501 455,498.2 454.7,498 452,495.9 450.8,495 449,493.8 446.6,492 446,491.5 443,489.4 442.4,489 440,487.7 437,486.9 434,486.3 433.4,486 431,484.3 429.8,483 428,480.1 427.9,480 425,477.4 424.5,477 422,475.3 419.9,474 419,473.4 416,471.5 415.4,471 413,469.2 411.6,468 410,466.5 408.6,465 407,463.2 405.9,462 404,459.8 403.4,459 401,456.2 400.9,456 398.5,453 398,452.3 396.2,450 395,448.3 394,447 392,444.2 391.8,444 389.5,441 389,440.3 387.1,438 386,436.6 384.7,435 383,432.6 382.6,432 380.9,429 380,427.1 379.4,426 378.3,423 377.4,420 377,418.3 376.6,417 375.8,414 374.9,411 374,408.4 373.8,408 371.4,405 371,404.7 368,404.2 365,404.4 362,404.6 359,404.6 356,404.2 353,403.4 350,402.3 349.3,402 347,401.1 344,400.1 341,399 340.8,399 338,398.6 335,398.9 334.6,399 332,399.7 329,401.4 328.1,402 326,403.4 323.7,405 323,405.4 320,406.7 317,407.6 314,407.6 311,407 308,405.8 305,405.9 302,408 302,408 299,411 298.9,411 296,414 296,414 293,417 293,417 290,420 290,420 287.1,423 287,423.1 284.2,426 284,426.2 281.4,429 281,429.4 278.4,432 278,432.4 275.3,435 275,435.4 272.6,438 272,438.8 270.3,441 269,443.1 268.3,444 266.3,447 266,447.5 263,449.9 262.8,450 260,450.8 257,450.2 256.4,450 254,449.2 251,447.9 249.2,447 248,446.4 245,444.6 242.9,444 242,443.8 239,444 236,443.7 233,442.6 230.8,441 230,440.5 227.5,438 227,437.6 224.4,435 224,434.6 221,432.1 220.8,432 218,430.4 215,429.4 213.1,429 212,428.7 209,428.3 206,428 203,427.9 200,427.3 197.7,426 197,425.2 195.8,423 195.4,420 196,417 197,415.2 197.9,414 200,412.2 201.6,411 203,410.2 206,408.6 207.3,408 209,407.4 212,406.4 215,405.9 218,405.3 219.1,405 221,404.7 224,403.7 227,402.5 227.9,402 230,401.1 233,399.7 234.5,399 236,398.4 239,397.4 242,396.5 244.6,396 245,395.9 248,395.7 251,395.8 252.7,396 254,396.2 257,396.6 260,397.1 263,397.5 266,397.6 269,397.4 272,396.4 272.7,396 275,394.5 276.3,393 278,391.1 278.7,390 280.8,387 281,386.8 283.2,384 284,383.2 287,381 287,381 290,379.7 293,379 294,378 294.5,375 294.5,372 294.4,369 294.6,366 295.1,363 295.7,360 296,358.3 296.3,357 296.4,354 296.6,351 296.6,348 296.8,345 297,342 297.5,339 298.1,336 299,333 299,333 300.4,330 302,327.9 302.6,327 304.2,324 305,322.3 305.6,321 306.6,318 307.9,315 308,314.8 309.2,312 311,309.3 311.2,309 313.6,306 314,305.7 317,303.7 319.2,303 320,302.8 323,302.4 326,302.1 329,301.6 332,300.9 334.5,300 335,299.8 338,298.4 340.6,297 341,296.7 343.9,294 344,293.8 345.6,291 346.4,288 346.7,285 346.2,282 345.1,279 344,277.4 342.8,276 341,274.3 339.3,273 338,271.9 335.5,270 335,269.1 333.6,267 334.5,264 335,263.5 336.6,261 338,259.7 339.6,258 341,257 344,255.7 347,255.8 350,256.7 353,257.6 356,257.8 359,257.2 362,256 364.3,255 365,254.7 368,253.7 371,253 374,252.7 377,252.8 380,253.1 383,253.5 386,254 389,254.4 392,254.4 395,253.7 395.7,252 395.3,249 395.2,246 395.3,243 395.5,240 395.9,237 396.5,234 397.3,231 398,229.2 398.6,228 400.5,225 401,224.3 403.4,222 404,221.4 407,219 407,219 410,216.1 410.1,216 412.2,213 413,211.3 413.7,210 414.4,207ZM467.5,219 467,219.3 465,222 464.8,225 466.3,228 467,228.6 470,230 473,228.7 473.7,228 475.2,225 475.6,222 474.4,219 473,218 470,218ZM402.9,237 401,239.2 400.7,240 400,243 400.3,246 401,247 404,247.3 406.6,246 407,245.6 410,243 410,242.9 411.3,240 410.6,237 410,236.3 407,234.8 404,235.8ZM404.5,252 404,252.1 401,253.1 398,254 396,255 397.2,258 398,259 399,261 401,263.1 402.4,264 404,264.8 407,264.9 408.6,264 410,262.9 411.3,261 412.2,258 412.1,255 410,252.1 409.7,252 407,251.5ZM632,207 635,207 638,207 641,207 644,207 647,207 650,207 653,207 656,207 659,207 659.6,207 659,210 659,210.2 658.2,213 657.4,216 656.5,219 656,221.1 655.8,222 655.2,225 654.8,228 654.7,231 655.1,234 656,236.8 656,237 657.3,240 658.9,243 659,243.1 660.8,246 662,247.6 663.2,249 665,250.8 666.5,252 668,253.1 671,254.7 671.8,255 674,256 677,257.2 678.7,258 680,258.7 683,260.7 683.5,261 686,263.3 686.8,264 689,266.8 689.2,267 691.2,270 692,271.6 693,273 694.7,276 695,276.6 697.1,279 698,280.6 700.9,282 701,285 698.3,288 698,288.2 695.9,291 695,291.9 693.2,294 692,295.1 689.7,297 689,297.4 686,298.2 683,297.7 680.8,297 680,296.7 677,295.8 674,295 671,294.5 668,294.2 665,294.1 662,294.2 659,294.5 656,294.9 653,295.3 650,295.8 647,296.3 644,296.7 641.5,297 641,297.1 638,297.4 635,297.7 632,298 629,298.2 626,298.5 623,298.8 620,299.3 617.1,300 617,300 614,301 611,302.5 610.3,303 608,304.7 606.6,306 605,307.5 603.8,309 602,311.4 601.6,312 599.6,315 599,315.9 597.7,318 596,320.6 595.7,321 593.2,324 593,324.1 590,326 588.3,327 587,327.7 584,329.6 583.4,330 581,331.7 579.2,333 578,333.9 575,336 574.9,336 572,337.8 569.2,339 569,339.1 566,340 563,340.6 560,341.1 557,341.4 554,341.7 551.3,342 551,342 548,342.2 545,342.3 542,342.2 539,342.1 536,342.1 533,342.2 530,342.7 527,343.4 524,344.6 523.2,345 521,346.3 519,348 518,349 516.5,351 515,353 514.4,354 512.9,357 512,358.7 511.3,360 509.4,363 509,363.5 506.9,366 506,366.7 503,368.6 501.9,369 500,369.5 497,369.5 495.1,369 494,368.7 491,367.3 488.2,366 488,365.8 485,364.4 482,363.7 479,363.7 476,364.8 474.2,366 473,366.7 470.2,369 470,369.2 467,371.4 466.1,372 464,373.4 461,375 460.9,375 458,376.1 455,376.7 452,376.7 449,375.9 447.4,375 446,374.3 443,372.5 442.2,372 440,370.9 437,370.1 434,369.6 431.4,369 431,368.9 428,367.4 425.5,366 425,365.6 422,363.3 421.7,363 419,360.4 418.6,360 416,357.2 415.8,357 413,354.4 412.4,354 410,352.3 407.7,351 407,350.6 404,348.8 402.7,348 401,346.8 398.8,345 398,344.2 396.2,342 395,340.1 394.4,339 393.2,336 392.1,333 392,332.8 391.3,330 390.6,327 390.2,324 389.6,321 389.1,318 389,315.2 389,315 389,312 389,312 391.2,309 392,308.7 395,307.5 398,306.4 399,306 401,305.4 404,304.2 406.3,303 407,302.6 410,300.1 410.1,300 412.8,297 413,296.8 415.2,294 416,293.1 418.7,291 419,290.8 422,289.7 425,288.6 426.3,288 428,287.2 430.9,285 431,285 434,282.5 434.6,282 437,279.9 437.9,279 440,277.1 441.4,276 443,275.1 446,274.7 449,275.4 452,275.8 455,275.5 458,274.6 461,273.2 461.4,273 464,272.1 467,271.8 470,272.3 472.6,273 473,273.2 476,274.1 479,274.6 482,274.5 485,273.4 485.6,273 488,271.5 489.9,270 491,269.2 494,267.1 494.2,267 497,265.4 499.8,264 500,263.9 503,262.6 506,261.6 508.3,261 509,260.8 512,260.5 515,260.6 518,260.9 519.1,261 521,261.3 524,261.5 527,261.4 528.7,261 530,260.7 533,259.8 536,258.6 537.7,258 539,257.6 542,256.9 545,256.8 548,257.5 549.3,258 551,258.7 554,260.3 555.4,261 557,261.9 560,263 563,263.3 566,262.9 569,261.4 569.5,261 572,258.8 572.6,258 574.8,255 575,254.7 576.5,252 577.9,249 578,248.7 579.2,246 580.5,243 581,242 582.2,240 584,237.4 584.5,237 587,235.2 590,234.7 593,235.5 595.4,237 596,237.3 599,239.5 599.8,240 602,241.4 605,242.4 608,242.5 611,241.6 613.6,240 614,239.7 617,237 617,237 619.8,234 620,233.8 622.4,231 623,230.2 624.8,228 626,226.2 626.8,225 628.3,222 629,220.1 629.4,219 630.3,216 631,213 631.5,210 631.9,207ZM626.2,243 626,243.1 623,244.9 621.7,246 620,247.6 618.4,249 617,250.3 614.3,252 614,252.2 611,253.4 608,253.6 605,252.8 603.9,252 602,251 599.8,249 599,248.4 596.7,246 596,245.5 593,243.8 590,244.2 587.8,246 587,247.1 585.9,249 584.6,252 584,253.3 583.4,255 582.1,258 581,260.2 580.6,261 578.8,264 578,265.2 576.6,267 575,269.1 574.1,270 572,272.2 571,273 569,274.6 566,275.8 563,276 560,274.8 558.1,273 557,272.3 554.9,270 554,269.2 551.9,267 551,266.3 548.2,264 548,263.9 545,262.9 542,263.3 540.4,264 539,264.9 536.1,267 536,267.1 533,269.8 532.7,270 530,272.2 527.4,273 527,273.2 526.1,273 524,272.8 521,271.7 518,270.2 517.6,270 515,269.1 512,268.6 509,268.9 506.5,270 506,270.3 503,273 503,273.1 500.9,276 500,277.9 499.4,279 498.3,282 497.6,285 497,287.6 496.9,288 496.3,291 496.1,294 496.1,297 496.6,300 497,301 497.8,303 499.5,306 500,306.6 502.4,309 503,309.5 506,311.3 508.1,312 509,312.3 512,312.5 513.5,312 515,311.5 518,309 518,309 519.9,306 521,304 521.5,303 523.1,300 524,298.2 524.6,297 526.2,294 527,292 527.9,291 530,288.6 533,290.5 533.5,291 536,293.1 536.9,294 539,295.9 540.1,297 542,299 542.8,300 544.7,303 545,303.6 546.1,306 547.1,309 547.9,312 548,312.3 548.9,315 550.4,318 551,318.7 553,321 554,321.8 557,323.5 558.3,324 560,324.5 563,324.9 566,324.9 569,324.6 572,324 572.1,324 575,323 578,321.5 578.9,321 581,319.5 583,318 584,317 586,315 587,313.6 588,312 589.6,309 590,308 590.8,306 591.9,303 593,300.2 593.1,300 594.3,297 595.7,294 596,293.5 597.9,291 599,289.9 602,288 602,288 605,286.8 608,286.1 611,285.7 614,285.5 617,285.4 620,285.4 623,285.4 626,285.1 626.4,285 629,284.3 632,283.3 635,282.3 635.8,282 638,281.1 641,279.9 643.2,279 644,278.6 647,277.1 649.7,276 650,275.8 653,274.2 654.9,273 656,271.3 656.7,270 656.6,267 656,265.1 655.7,264 654.4,261 653,258 653,258 651.4,255 650,253 649.2,252 647,249.6 646.3,249 644,247.3 642.2,246 641,245.2 638,243.5 636.8,243 635,242.3 632,241.9 629,242.1ZM460.8,279 458,281.1 455,282 454.7,282 452,282.6 449,283.1 446,284.5 445.5,285 443.7,288 443,289.9 442.6,291 441.7,294 441.3,297 442.2,300 443,300.6 446,302.3 448.7,303 449,303.1 452,303.5 455,303.7 458,303.3 459.1,303 461,302.3 464,300.3 464.3,300 466.3,297 467,295.2 467.5,294 468.2,291 469.3,288 470,286.9 470.6,285 470.8,282 470,280 469.7,279 467,276.5 464,276.8 461,278.9ZM421.4,309 419,310.9 417.3,312 416,312.6 413.1,315 413,315.1 410,317.9 409.9,318 408.3,321 408.8,324 410,325.7 411.2,327 413,328.3 415.8,330 416,330.1 419,330.3 420,330 422,329.3 424.1,327 425,325 425.4,324 427.1,321 428,318.9 428.3,318 428.8,315 428.8,312 428.5,309 428,308.2 425,307.3 422,308.5ZM314,261 317,260.5 318.8,261 320,261.7 323,263.9 323.2,264 325,267 323,270 323,270 320,271.5 317,271.9 314,271.1 311.8,270 311,269.3 308.9,267 309.7,264 311,263 313.9,261Z"/>
<path fill="#8cf0ff" fill-rule="evenodd" d="M383,207 386,207 389,207 392,207 395,207 398,207 401,207 404,207 407,207 410,207 413,207 414.4,207 413.7,210 413,211.3 412.2,213 410.1,216 410,216.1 407,219 407,219 404,221.4 403.4,222 401,224.3 400.5,225 398.6,228 398,229.2 397.3,231 396.5,234 395.9,237 395.5,240 395.3,243 395.2,246 395.3,249 395.7,252 395,253.7 392,254.4 389,254.4 386,254 383,253.5 380,253.1 377,252.8 374,252.7 371,253 368,253.7 365,254.7 364.3,255 362,256 359,257.2 356,257.8 353,257.6 350,256.7 347,255.8 344,255.7 341,257 339.6,258 338,259.7 336.6,261 335,263.5 334.5,264 333.6,267 335,269.1 335.5,270 338,271.9 339.3,273 341,274.3 342.8,276 344,277.4 345.1,279 346.2,282 346.7,285 346.4,288 345.6,291 344,293.8 343.9,294 341,296.7 340.6,297 338,298.4 335,299.8 334.5,300 332,300.9 329,301.6 326,302.1 323,302.4 320,302.8 319.2,303 317,303.7 314,305.7 313.6,306 311.2,309 311,309.3 309.2,312 308,314.8 307.9,315 306.6,318 305.6,321 305,322.3 304.2,324 302.6,327 302,327.9 300.4,330 299,333 299,333 298.1,336 297.5,339 297,342 296.8,345 296.6,348 296.6,351 296.4,354 296.3,357 296,358.3 295.7,360 295.1,363 294.6,366 294.4,369 294.5,372 294.5,375 294,378 293,379 290,379.7 287,381 287,381 284,383.2 283.2,384 281,386.8 280.8,387 278.7,390 278,391.1 276.3,393 275,394.5 272.7,396 272,396.4 269,397.4 266,397.6 263,397.5 260,397.1 257,396.6 254,396.2 252.7,396 251,395.8 248,395.7 245,395.9 244.6,396 242,396.5 239,397.4 236,398.4 234.5,399 233,399.7 230,401.1 227.9,402 227,402.5 224,403.7 221,404.7 219.1,405 218,405.3 215,405.9 212,406.4 209,407.4 207.3,408 206,408.6 203,410.2 201.6,411 200,412.2 197.9,414 197,415.2 196,417 195.4,420 195.8,423 197,425.2 197.7,426 200,427.3 203,427.9 206,428 209,428.3 212,428.7 213.1,429 215,429.4 218,430.4 220.8,432 221,432.1 224,434.6 224.4,435 227,437.6 227.5,438 230,440.5 230.8,441 233,442.6 236,443.7 239,444 242,443.8 242.9,444 245,444.6 248,446.4 249.2,447 251,447.9 254,449.2 256.4,450 257,450.2 260,450.8 262.8,450 263,449.9 266,447.5 266.3,447 268.3,444 269,443.1 270.3,441 272,438.8 272.6,438 275,435.4 275.3,435 278,432.4 278.4,432 281,429.4 281.4,429 284,426.2 284.2,426 287,423.1 287.1,423 290,420 290,420 293,417 293,417 296,414 296,414 298.9,411 299,411 302,408 302,408 305,405.9 308,405.8 311,407 314,407.6 317,407.6 320,406.7 323,405.4 323.7,405 326,403.4 328.1,402 329,401.4 332,399.7 334.6,399 335,398.9 338,398.6 340.8,399 341,399 344,400.1 347,401.1 349.3,402 350,402.3 353,403.4 356,404.2 359,404.6 362,404.6 365,404.4 368,404.2 371,404.7 371.4,405 373.8,408 374,408.4 374.9,411 375.8,414 376.6,417 377,418.3 377.4,420 378.3,423 379.4,426 380,427.1 380.9,429 382.6,432 383,432.6 384.7,435 386,436.6 387.1,438 389,440.3 389.5,441 391.8,444 392,444.2 394,447 395,448.3 396.2,450 398,452.3 398.5,453 400.9,456 401,456.2 403.4,459 404,459.8 405.9,462 407,463.2 408.6,465 410,466.5 411.6,468 413,469.2 415.4,471 416,471.5 419,473.4 419.9,474 422,475.3 424.5,477 425,477.4 427.9,480 428,480.1 429.8,483 431,484.3 433.4,486 434,486.3 437,486.9 440,487.7 442.4,489 443,489.4 446,491.5 446.6,492 449,493.8 450.8,495 452,495.9 454.7,498 455,498.2 457.5,501 458,501.7 459.5,504 461,506.4 461.4,507 463.8,510 464,510.2 467,512.8 467.2,513 470,515.2 471.1,516 473,517.4 475.8,519 476,519.1 479,520.8 481,522 482,522.6 485,524.5 486.1,525 488,525.9 491,527.2 493.8,528 494,528.1 497,528.9 500,529.9 502.9,531 503,531.1 506,532.2 509,533.5 510.1,534 512,534.8 515,535.8 518,536.7 518.7,537 521,538 524,539 527,540 527,540 530,541.3 533,542.3 535.6,543 536,543.1 539,544.3 542,545.3 544.7,546 545,546.1 548,547.3 551,548.2 554,548.8 554.9,549 557,549.6 560,550.6 563,551.3 566,551.8 569,551.9 572,551.8 575,551.6 578,551.6 581,551.2 584,550.5 587,549.9 589.9,549 590,548.9 593,547.5 595.6,546 596,545.7 599,543.4 599.6,543 602,540.5 602.7,540 605,537.6 605.8,537 608,535 609.7,534 611,533.2 614,531.8 616.1,531 617,530.7 620,529.9 623,529.4 626,528.9 629,528.5 632,528 632.3,528 635,527.6 638,528 641,527.7 644,527.4 647,527.2 650,526.8 653,526.4 656,525.6 657.4,525 659,524.1 661.8,522 662,521.8 664.9,519 665,518.9 667.8,516 668,515.8 671,513 671,513 674,510.6 675.1,510 677,508.9 680,507.8 683,507.5 686,507.8 689,508.8 690.8,510 692,510.8 694.1,513 695,514.1 696.2,516 698,518.8 698.1,519 699.7,522 701,524.1 701.5,525 703.4,528 704,528.8 705.6,531 707,532.6 708.4,534 710,535.5 712,537 713,537.7 716,539.5 717.1,540 719,540.9 722,541.9 725,542.8 725.8,543 728,543.6 731,544.2 734,544.9 737,545.6 738.3,546 740,546.6 743,548.2 744.2,549 746,550.7 747.1,552 749,554.9 749.1,555 750.7,558 751.9,561 752,561.2 753.2,564 754.3,567 755,569.3 755.3,570 756.3,573 757.3,576 758,578.3 758.4,579 760.5,582 761,582.6 764,582.9 766.2,582 767,581.7 770,579.6 770.7,579 773,577.2 774.3,576 776,574.6 777.6,573 779,571.7 780.6,570 782,568.6 783.3,567 785,565 785.8,564 787.9,561 788,560.8 789.7,558 791,555.5 791.2,555 792.6,552 793.7,549 794,548.3 794.8,546 795.7,543 796.6,540 797,538.6 797.4,537 798.2,534 799,531 799.8,528 800,527.4 800.7,525 801.6,522 802.6,519 803,517.9 803.7,516 805.1,513 806,511.3 806.7,510 808.7,507 809,506.5 810.8,504 812,502.6 813.2,501 815,498.9 815.6,498 817.8,495 818,494.8 819.6,492 821,489.5 821.2,489 822.4,486 823.4,483 824,480.6 824.1,480 824.7,477 825.2,474 825.7,471 826.1,468 826.5,465 826.9,462 827,461.1 827.3,459 827.7,456 828,453 828.4,450 828.6,447 828.7,444 828.5,441 828.2,438 827.6,435 827,432.4 826.9,432 826.2,429 825.4,426 824.6,423 824,420 824,419.9 823.5,417 823.1,414 822.9,411 823.1,408 823.6,405 824,403.9 824.7,402 826.1,399 827,397.5 827.9,396 830,393 830,393 832.5,390 833,389.4 835.3,387 836,386.3 838.5,384 839,383.6 842,381.1 842.2,381 845,378.8 845,381 845,384 845,387 845,390 845,393 845,396 845,399 845,402 845,405 845,408 845,411 845,414 845,417 845,420 845,423 845,426 845,429 845,432 845,435 845,438 845,441 845,444 845,447 845,450 845,450.3 843,453 842,454.4 840.9,456 839.1,459 839,459.1 837.5,462 836.1,465 836,465.2 834.9,468 833.8,471 833,473.7 832.9,474 832,477 831.3,480 830.5,483 830,484.7 829.6,486 828.7,489 827.7,492 827,493.9 826.6,495 825.3,498 824,500.6 823.8,501 822,504 821,505.7 820.1,507 818.1,510 818,510.1 816,513 815,514.4 814,516 812.2,519 812,519.4 810.8,522 809.6,525 809,526.9 808.7,528 808,531 807.5,534 807.1,537 806.9,540 806.6,543 806.5,546 806.4,549 806.4,552 806.4,555 806.3,558 806,559.8 805.8,561 805,564 803.6,567 803,568 801.9,570 800,572.6 799.8,573 797.5,576 797,576.6 795,579 794,580.2 792.4,582 791,583.6 789.8,585 788,587 787.1,588 785,590.3 784.4,591 782,593.7 781.7,594 779,596.9 778.9,597 776.1,600 776,600.2 773.2,603 773,603.2 770,605.9 769.9,606 767,608.3 765.9,609 764,610.3 761,611.8 760.4,612 758,612.8 755,613 752,612.5 751,612 749,610.8 747.4,609 746,606.9 745.6,606 744.5,603 743.9,600 743.5,597 743.2,594 743.1,591 743,589.6 742.9,588 742.8,585 742.6,582 742.3,579 741.9,576 741.3,573 740.6,570 740,568.3 739.6,567 738.3,564 737,561.7 736.6,561 734.3,558 734,557.7 731.3,555 731,554.8 728,552.7 726.9,552 725,551 722,549.5 721,549 719,548.1 716,546.7 714.6,546 713,545.2 710,543.4 709.4,543 707,541.2 705.5,540 704,538.7 702.2,537 701,535.7 699.4,534 698,532.3 696.8,531 695,528.7 694.4,528 692,525.1 691.9,525 689,522.3 688.3,522 686,521 683,520.9 680,521.6 679,522 677,522.9 674,524.7 673.6,525 671,526.7 669.2,528 668,528.8 665,530.8 664.6,531 662,532.4 659,533.9 658.7,534 656,535 653,535.9 650,536.6 648.1,537 647,537.2 644,537.8 641,538.3 638,538.8 635,538.7 632,539.3 629,539.8 628.1,540 626,540.4 623,541.1 620,541.8 617,542.7 616.2,543 614,543.9 611,545.1 609,546 608,546.4 605,547.8 602.4,549 602,549.2 599,550.4 596,551.5 594.4,552 593,552.4 590,553.2 587,553.8 584,554.2 581,554.7 578.8,555 578,555.1 575,555.3 572,555.4 569,555.3 566,555 565.9,555 563,554.4 560,553.7 557,553 554,552.5 551.4,552 551,551.9 548,551.1 545,550.1 542,549 541.9,549 539,548.1 536,547.1 533,546.1 532.7,546 530,545.1 527,544 524.4,543 524,542.9 521,541.8 518,540.6 516.3,540 515,539.6 512,538.6 509,537.4 508,537 506,536.2 503,535.2 500,534.2 499.4,534 497,533.3 494,532.3 491,531.2 490.6,531 488,529.9 485,528.6 484,528 482,526.9 479,525 479,525 476,523.3 474.1,522 473,521.3 470,519.2 469.8,519 467,516.7 465.9,516 464,514.5 462,513 461,512.1 459.2,510 458,508.3 457.1,507 455.1,504 455,503.9 452.1,501 452,500.9 449,498.6 448.2,498 446,496.4 444.1,495 443,494.2 440,492.1 439.9,492 437,490.6 434,489.6 432.8,489 431,488.2 428.4,486 428,485.5 425.7,483 425,482.3 422,480 422,480 419,478.1 417.4,477 416,476.1 413,474.1 412.8,474 410,471.8 409.1,471 407,468.9 406.1,468 404,465.6 403.4,465 401,462.1 400.9,462 398.4,459 398,458.5 396.1,456 395,454.6 393.8,453 392,450.6 391.6,450 389.3,447 389,446.6 387,444 386,442.7 384.5,441 383,439.1 382.1,438 380,435.2 379.8,435 377.3,432 377,431.6 374.7,429 374,427.9 372.5,426 371,423.2 370.9,423 368.5,420 368,419.3 365.4,417 365,416.8 362,415.2 359,414.2 357.3,414 356,413.9 353,413.4 350,412.7 347,412.1 344.7,411 344,410.7 341,409.9 338,409.9 335.3,411 335,411.2 332,412.1 329,414 328.9,414 326,415.2 323,416.3 320,416.8 317,416.9 314,416.9 311,416.8 309.6,417 308,417.3 305,418.7 303.3,420 302,421.2 300.3,423 299,424.5 297.7,426 296,428.2 295.5,429 293.2,432 293,432.3 291.2,435 290,436.8 289.1,438 287.6,441 287,442.3 286.2,444 285.1,447 284.4,450 284,452.5 283.9,453 283.5,456 282.8,459 282.1,462 281,465 281,465 279.2,468 278,469.4 276.2,471 275,471.9 272,473.3 269.3,474 269,474.1 266,474.3 264.1,474 263,473.9 260,472.9 257,471.2 256.7,471 254,469.1 252.3,468 251,467.2 248,466.1 245,465.8 242,465.9 239,465.7 236.5,465 236,464.8 233,463.1 231.6,462 230,460.7 228.2,459 227,457.8 225.3,456 224,454.5 222.9,453 221.1,450 221,449.8 219.5,447 218,444.1 217.9,444 215.5,441 215,440.6 212,439.2 209,439.4 206,440.6 205.2,441 203,442.2 200,443.2 197,443.1 194,441.7 193.2,441 191,438.9 190.3,438 188.2,435 188,434.7 186.5,432 185,429.1 184.9,429 183.9,426 183.4,423 183.4,420 184,417 184.9,414 185,413.7 186.2,411 187.8,408 188,407.7 190.3,405 191,404.2 193.7,402 194,401.8 197,400 199.3,399 200,398.7 203,397.5 206,396.5 207.8,396 209,395.7 212,395.1 215,394.6 218,394.3 221,394 224,393.7 227,393.4 230,393 230.2,393 233,392.7 236,392.3 239,392 242,391.4 245,390.7 248,390.3 251,390.1 254,390.1 257,390.2 260,390.5 263,390.7 266,390.6 269,390.2 269.6,390 272,389.1 274.9,387 275,386.9 277.5,384 278,383.5 280.2,381 281,380.2 283.4,378 284,377.4 286.8,375 287,374.7 288.6,372 289.1,369 289.3,366 289.2,363 289.2,360 289,357 288.4,354 287.7,351 287,348.9 286.6,348 284.9,345 284,343.8 282,342 281,341.2 278,339.8 275.8,339 275,338.8 272,337.9 269,337.3 266,336.7 263.2,336 263,335.9 260,334.4 258.5,333 257,330.6 256.8,330 256.3,327 256.8,324 257,323.4 258.2,321 260,318.9 261.1,318 263,316.7 266,315 266,315 269,313.6 272,312.4 273,312 275,311.4 278,309.7 278.7,309 280.9,306 281,305.9 282.8,303 284,301.6 286,300 287,299.3 290,298.8 293,299.6 294.1,300 296,301 299,301.9 302,301.6 304.8,300 305,299.8 307.9,297 308,296.9 310.6,294 311,293.3 313.4,291 314,288.8 316.6,288 314,287.7 311.9,285 311,284.4 308.8,282 308,281.4 305.6,279 305,278.5 302.8,276 302,275.1 300.8,273 299.4,270 299,268.5 298.8,267 299,264.6 299.1,264 300.6,261 302,259.4 303.9,258 305,257.4 308,256.3 311,255.4 313.3,255 314,254.9 317,254.8 318.2,255 320,255.3 323,255.8 326,256 329,255.5 330,255 332,254.1 335,252.1 335.1,252 338,250.1 340.2,249 341,248.6 344,247.8 347,247.7 350,248.6 350.9,249 353,249.9 356,250.8 359,250.4 362,249.4 363.2,249 365,248.3 368,247.7 371,247.3 374,247 377,246.9 380,247.2 383,247.6 386,247.8 389,247 389.7,246 390.4,243 390.5,240 390.3,237 390.1,234 389.9,231 389.6,228 389.2,225 389,224 388.5,222 387.5,219 386.1,216 386,215.8 384.5,213 383,210.4 382.8,210 381.3,207ZM313.9,261 311,263 309.7,264 308.9,267 311,269.3 311.8,270 314,271.1 317,271.9 320,271.5 323,270 323,270 325,267 323.2,264 323,263.9 320,261.7 318.8,261 317,260.5 314,261ZM320.6,285 320,285.7 317,288 318.7,291 320,291.5 323,293.1 324.7,294 326,294.3 329,294.4 330.2,294 332,293 334.3,291 335,289.3 335.6,288 335,285.4 334.9,285 332,283 329,282.2 326,282.5 323,283.8ZM470,218 473,218 474.4,219 475.6,222 475.2,225 473.7,228 473,228.7 470,230 467,228.6 466.3,228 464.8,225 465,222 467,219.3 467.5,219ZM629,242.1 632,241.9 635,242.3 636.8,243 638,243.5 641,245.2 642.2,246 644,247.3 646.3,249 647,249.6 649.2,252 650,253 651.4,255 653,258 653,258 654.4,261 655.7,264 656,265.1 656.6,267 656.7,270 656,271.3 654.9,273 653,274.2 650,275.8 649.7,276 647,277.1 644,278.6 643.2,279 641,279.9 638,281.1 635.8,282 635,282.3 632,283.3 629,284.3 626.4,285 626,285.1 623,285.4 620,285.4 617,285.4 614,285.5 611,285.7 608,286.1 605,286.8 602,288 602,288 599,289.9 597.9,291 596,293.5 595.7,294 594.3,297 593.1,300 593,300.2 591.9,303 590.8,306 590,308 589.6,309 588,312 587,313.6 586,315 584,317 583,318 581,319.5 578.9,321 578,321.5 575,323 572.1,324 572,324 569,324.6 566,324.9 563,324.9 560,324.5 558.3,324 557,323.5 554,321.8 553,321 551,318.7 550.4,318 548.9,315 548,312.3 547.9,312 547.1,309 546.1,306 545,303.6 544.7,303 542.8,300 542,299 540.1,297 539,295.9 536.9,294 536,293.1 533.5,291 533,290.5 530,288.6 527.9,291 527,292 526.2,294 524.6,297 524,298.2 523.1,300 521.5,303 521,304 519.9,306 518,309 518,309 515,311.5 513.5,312 512,312.5 509,312.3 508.1,312 506,311.3 503,309.5 502.4,309 500,306.6 499.5,306 497.8,303 497,301 496.6,300 496.1,297 496.1,294 496.3,291 496.9,288 497,287.6 497.6,285 498.3,282 499.4,279 500,277.9 500.9,276 503,273.1 503,273 506,270.3 506.5,270 509,268.9 512,268.6 515,269.1 517.6,270 518,270.2 521,271.7 524,272.8 526.1,273 527,273.2 527.4,273 530,272.2 532.7,270 533,269.8 536,267.1 536.1,267 539,264.9 540.4,264 542,263.3 545,262.9 548,263.9 548.2,264 551,266.3 551.9,267 554,269.2 554.9,270 557,272.3 558.1,273 560,274.8 563,276 566,275.8 569,274.6 571,273 572,272.2 574.1,270 575,269.1 576.6,267 578,265.2 578.8,264 580.6,261 581,260.2 582.1,258 583.4,255 584,253.3 584.6,252 585.9,249 587,247.1 587.8,246 590,244.2 593,243.8 596,245.5 596.7,246 599,248.4 599.8,249 602,251 603.9,252 605,252.8 608,253.6 611,253.4 614,252.2 614.3,252 617,250.3 618.4,249 620,247.6 621.7,246 623,244.9 626,243.1 626.2,243ZM407,251.5 409.7,252 410,252.1 412.1,255 412.2,258 411.3,261 410,262.9 408.6,264 407,264.9 404,264.8 402.4,264 401,263.1 399,261 398,259 397.2,258 396,255 398,254 401,253.1 404,252.1 404.5,252ZM461,278.9 464,276.8 467,276.5 469.7,279 470,280 470.8,282 470.6,285 470,286.9 469.3,288 468.2,291 467.5,294 467,295.2 466.3,297 464.3,300 464,300.3 461,302.3 459.1,303 458,303.3 455,303.7 452,303.5 449,303.1 448.7,303 446,302.3 443,300.6 442.2,300 441.3,297 441.7,294 442.6,291 443,289.9 443.7,288 445.5,285 446,284.5 449,283.1 452,282.6 454.7,282 455,282 458,281.1 460.8,279ZM422,308.5 425,307.3 428,308.2 428.5,309 428.8,312 428.8,315 428.3,318 428,318.9 427.1,321 425.4,324 425,325 424.1,327 422,329.3 420,330 419,330.3 416,330.1 415.8,330 413,328.3 411.2,327 410,325.7 408.8,324 408.3,321 409.9,318 410,317.9 413,315.1 413.1,315 416,312.6 417.3,312 419,310.9 421.4,309ZM80,487 83,486.8 86,487.5 88.7,489 89,489.2 91.8,492 92,492.2 93.5,495 94.7,498 95,499.7 95.2,501 95.1,504 95,504.7 94.5,507 92.9,510 92,510.8 89,511.9 86,511.2 83.2,510 83,509.8 80,507.7 79.1,507 77,504.6 76.5,504 75.1,501 74.5,498 74.7,495 75.5,492 77,489.1 77.1,489Z"/>
<path fill="#fffaaa" fill-rule="evenodd" d="M176,207 179,207 182,207 185,207 188,207 191,207 194,207 197,207 200,207 203,207 206,207 209,207 212,207 215,207 218,207 221,207 224,207 227,207 230,207 233,207 233.1,207 233,207 230,209.4 229.5,210 227.6,213 227,214.5 226.5,216 226,219 225.9,222 226.1,225 226.7,228 227,229.2 227.6,231 228.8,234 230,236.5 230.3,237 232.6,240 233,240.5 235.8,243 236,243.2 239,245.1 241.1,246 242,246.7 243.6,249 244.1,252 243.7,255 242.9,258 242,260.3 241.8,261 240.7,264 239.6,267 239,268.5 238.4,270 237.3,273 236.3,276 236,276.9 235.4,279 234.9,282 234.7,285 234.4,288 234.1,291 234.4,294 235,297 236,299.5 239,300 242,299.2 245,298.3 248,297.6 251,297.1 253.7,297 254,297 254.1,297 257,297.1 260,297.3 263,297.8 266,298.4 269,299 272,299.2 275,298.2 276.1,297 277.4,294 278,292.3 278.4,291 279.4,288 281,285.3 281.3,285 284,282.1 284.1,282 286.5,279 287,278 287.6,276 288,273 288.2,270 288.4,267 288.4,264 288.2,261 288.1,258 288.2,255 288.9,252 290,249.9 290.5,249 293,246.6 293.9,246 296,245 299,244.2 302,244 305,244 308,243.8 311,243.4 314,243.1 316.7,243 317,243 317.5,243 320,243 320.4,243 323,242.7 326,241.1 327.4,240 329,238.6 330.6,237 332,235.5 333.4,234 335,232.2 336.1,231 338,228.6 338.5,228 340.6,225 341,224.3 342.3,222 343.3,219 343.7,216 343.1,213 341.6,210 341,209.3 339.1,207 341,207 344,207 347,207 350,207 353,207 356,207 356.9,207 358.1,210 359,212.5 359.2,213 360.1,216 360.9,219 361.2,222 360.5,225 359,226.8 358,228 356,229.4 354.1,231 353,231.8 350.4,234 350,234.3 347,236.3 346,237 344,238 341,239.7 340.6,240 338,241.6 336.2,243 335,243.9 332.4,246 332,246.3 329,248.5 328.1,249 326,250 323,250.4 320,250 317,249.7 314,249.7 311,250 308,250.6 305,251.3 302.7,252 302,252.2 299,254 298.1,255 296.2,258 296,258.4 295.2,261 294.8,264 294.6,267 294.7,270 295.1,273 295.8,276 296,276.9 296.5,279 296.9,282 296.9,285 296,287.6 295.8,288 293,289.9 290.3,291 290,291.1 287,292.3 284.8,294 284,294.6 282,297 281,298.2 279.7,300 278,302.1 277,303 275,304.5 272,305.5 269,306 269,306 266,306.5 263,307.1 260,308 257.8,309 257,309.4 254,311.8 253.8,312 251.5,315 251,315.9 249.9,318 248.8,321 248,323.6 247.9,324 246.7,327 245.2,330 245,330.4 242.1,333 242,333 239,334.3 236,335.4 234.9,336 233,337.6 232.1,339 231.2,342 231.7,345 233,347.3 233.7,348 236,349.1 239,349 242,348 242,348 245,346.6 248,346 251,345.8 254,345.7 257,346.1 260,346.5 263,346.8 266,347.2 269,347.7 270.3,348 272,348.4 275,349.7 277,351 278,351.7 279.9,354 281,355.7 281.6,357 282.5,360 283,363 283,366 282.3,369 281,371.8 280.9,372 278.6,375 278,375.6 275.7,378 275,378.7 272.2,381 272,381.2 269,382.6 266,383.3 263,383.5 260,383.4 257,383.3 254,383.4 251,383.5 248,383.9 247.2,384 245,384.3 242,384.9 239,385.2 236,385.2 233,385 230,384.7 227,384.5 224,384.3 221,384.2 218,384.2 215,384.5 212,384.7 209,385 206,385.4 203,386 200,386.7 199.1,387 197,387.6 194,388.7 191.7,390 191,390.4 188.1,393 188,393.1 185.7,396 185,397.1 183.9,399 182.4,402 182,402.7 180.7,405 179,407.8 178.9,408 177,411 176,413.1 175.6,414 174.4,417 173.7,420 173.5,423 173.7,426 174.4,429 175.7,432 176,432.6 177.2,435 179,437.6 179.2,438 181.1,441 182,442.6 182.7,444 184.1,447 185,448.9 185.6,450 187.2,453 188,454.5 189,456 191,458.9 191.1,459 193.6,462 194,462.5 196.9,465 197,465.1 200,467.3 201.3,468 203,468.9 206,470.4 207.2,471 209,471.9 212,473.4 213,474 215,475.1 218,477 218,477 221,479 222.2,480 224,481.5 225.5,483 227,484.6 228.3,486 230,487.7 231.1,489 233,491.6 233.3,492 235.6,495 236,495.6 238.2,498 239,498.9 241.7,501 242,501.3 245,502.5 248,501.9 249.8,501 251,500.5 254,498.8 255.4,498 257,497.3 260,496 262.4,495 263,494.8 266,494 269,493.1 272,492.1 272.4,492 275,491.1 278,490.1 280.8,489 281,488.9 284,487.5 286.3,486 287,485.5 289.6,483 290,482.6 291.7,480 293,478 293.6,477 294.8,474 295.9,471 296,470.7 296.8,468 297.5,465 298,462 298.5,459 299,456 299,455.8 299.5,453 300.1,450 300.9,447 301.9,444 302,443.9 303.6,441 305,439 306,438 308,436.4 311,435 311,435 314,434.7 317,434.8 317.9,435 320,435.7 323,437.3 323.9,438 326,439.7 326.9,441 328.7,444 329,444.6 332,447 332,447 335,449.8 335.5,450 338,450.7 341,450.3 341.3,450 344,447.7 344.6,447 346.9,444 347,443.8 349.1,441 350,439.8 352.9,438 353,438 356,436.4 359,435.7 362,436.8 365,437.4 368,438 368.1,438 371,438.6 374,439.2 377,440.6 377.4,441 380,443 380.9,444 383,446.1 383.7,447 386,449.8 386.1,450 388.3,453 389,453.9 390.5,456 392,458 392.8,459 395,461.8 395.2,462 397.6,465 398,465.4 400.2,468 401,468.9 402.8,471 404,472.4 405.5,474 407,475.7 408.6,477 410,478 413,479.6 413.6,480 416,481.5 418.4,483 419,483.4 422,485.6 422.5,486 425,488.1 425.9,489 428,490.7 430.1,492 431,492.5 434,493.9 436.2,495 437,495.5 440,497.5 440.6,498 443,499.8 444.6,501 446,502.1 448.5,504 449,504.4 451.8,507 452,507.2 454.1,510 455,511.2 456.4,513 458,514.7 459.6,516 461,516.9 464,518.6 464.6,519 467,520.6 468.6,522 470,523.4 472,525 473,526 475.6,528 476,528.3 479,530.1 480.6,531 482,531.8 485,533.4 486.5,534 488,534.6 491,535.8 494,536.9 494.2,537 497,537.9 500,538.8 503,539.8 503.6,540 506,540.8 509,541.9 512,543 512,543 515,544.1 518,545.2 520.2,546 521,546.3 524,547.5 527,548.6 528.1,549 530,549.7 533,550.7 536,551.7 536.9,552 539,552.7 542,553.7 545,554.7 545.8,555 548,555.7 551,556.4 554,556.6 557,556.5 560,556.7 563,557.4 565.4,558 566,558.2 569,558.9 572,559.4 575,559.6 578,559.3 581,558.9 584,558.6 587,558.2 588.3,558 590,557.8 593,557.4 596,557.2 599,556.8 602,556.4 605,556 608,555.5 610.9,555 611,555 614,554.4 617,553.6 620,553.1 623,552.6 626,552.1 626.7,552 629,551.6 632,551 635,550.4 638,550 641,549.3 641.9,549 644,548.4 647,547.4 650,546.4 651,546 653,545.3 656,544.3 659,543.3 659.7,543 662,542.1 665,540.9 666.9,540 668,539.5 671,538.1 673.5,537 674,536.7 677,535.5 680,534.8 683,534.5 686,535.1 689,536.5 689.8,537 692,538.4 694,540 695,540.8 697.7,543 698,543.2 701,545.6 701.5,546 704,547.9 705.6,549 707,549.9 710,551.7 710.6,552 713,553.3 716,554.7 716.5,555 719,556.3 721.6,558 722,558.3 724.9,561 725,561.2 727.1,564 728,565.5 728.8,567 730.2,570 731,572.4 731.2,573 731.9,576 732.5,579 733.1,582 733.4,585 733.7,588 733.9,591 734,592.5 734.1,594 734.2,597 734.3,600 734.3,603 734.3,606 734.4,609 734.4,612 734.5,615 734.6,618 734.8,621 735.2,624 735.9,627 737,629.1 737.9,630 740,631.3 743,632.1 746,632.2 749,631.9 752,631.1 755,630.3 755.8,630 758,629.2 761,627.7 762.3,627 764,626.1 767,624.3 767.4,624 770,622.2 771.6,621 773,619.9 775.4,618 776,617.5 779,615 779.1,615 782,612.4 782.5,612 785,609.6 785.7,609 788,606.7 788.7,606 791,603.7 791.7,603 794,600.6 794.6,600 797,597.5 797.4,597 800,594.3 800.3,594 803,591.2 803.2,591 806,588.3 806.3,588 809,585.6 809.7,585 812,583 813.3,582 815,580.6 817,579 818,578.1 820.5,576 821,575.5 823.4,573 824,572.2 825.9,570 827,568.2 827.8,567 829.1,564 829.7,561 829.6,558 828.9,555 827.6,552 827,550.7 826.2,549 824.7,546 824,544.5 823.4,543 822.6,540 822.1,537 821.9,534 822,531 822.6,528 823.4,525 824,523.5 824.6,522 825.9,519 827,516.6 827.3,516 828.6,513 829.8,510 830,509.5 830.9,507 831.9,504 832.8,501 833,500.4 833.7,498 834.4,495 835.2,492 835.9,489 836,488.5 836.6,486 837.4,483 838.3,480 839,477.9 839.3,477 840.6,474 842,471.3 842.2,471 844.1,468 845,466.7 845,468 845,471 845,474 845,477 845,480 845,483 845,483.3 844.4,486 843.8,489 843.4,492 843.1,495 842.8,498 842.5,501 842.3,504 842.2,507 842.1,510 842.1,513 842.2,516 842.6,519 843.2,522 844,525 845,527.6 845,528 845,531 845,534 845,537 845,540 845,543 845,546 845,549 845,552 845,555 845,558 845,561 845,564 845,567 845,570 845,573 845,576 845,579 845,582 845,585 845,585.1 842,586.8 839.7,588 839,588.4 836,590 833.9,591 833,591.4 830,592.8 827.3,594 827,594.1 824,595.5 821,596.9 820.8,597 818,598.5 815.7,600 815,600.5 812.4,603 812,603.5 809.7,606 809,606.8 807.1,609 806,610.3 804.4,612 803,613.5 801.5,615 800,616.4 798.2,618 797,619 794.5,621 794,621.3 791,623.4 790.1,624 788,625.3 785.5,627 785,627.3 782,629.3 781,630 779,631.5 777,633 776,633.9 773.4,636 773,636.3 770,638.8 769.8,639 767,641.3 766.2,642 764,643.8 762.4,645 761,646.1 758.3,648 758,648.2 755,650.3 753.9,651 752,652.3 749.4,654 749,654.3 746,656.4 745.3,657 743,659 741.9,660 740,661.8 738.6,663 737,664.6 735.4,666 734,667.6 732.8,669 731,671 729.8,672 728,673.7 726.4,675 725,676.3 722,677.9 719,677.3 717.4,675 716,672.4 715.9,672 715,669 714.1,666 713.6,663 713,660.8 712.8,660 712.2,657 711.6,654 711.1,651 710.7,648 710.4,645 710.4,642 710.6,639 711,636 711.5,633 712.4,630 713,628.4 713.6,627 715,624 716,622.1 716.6,621 718.2,618 719,616.7 719.8,615 721.4,612 722,610.6 722.6,609 723.5,606 724.2,603 724.6,600 724.7,597 724.6,594 724.3,591 723.8,588 723.3,585 722.6,582 722,579.4 721.9,579 720.9,576 719.6,573 719,571.6 718,570 716,567.3 715.7,567 713,564.9 711.7,564 710,563 707,561.2 706.8,561 704,559.3 702.1,558 701,557.3 698,555.2 697.8,555 695,553.1 693.2,552 692,551.3 689,549.8 686.4,549 686,548.9 683,548.5 680,548.6 678.1,549 677,549.2 674,550.3 671,551.4 669.4,552 668,552.6 665,553.6 662,554.6 660.6,555 659,555.6 656,556.9 654.2,558 653,559.2 651.4,561 650,564 650,564 650,564.6 650,567 652.7,570 653,570.1 656,571.6 659,572.8 659.6,573 662,573.8 665,575 666.9,576 668,576.5 671,578.4 671.9,579 674,580.5 676.1,582 677,582.8 679.7,585 680,585.3 682.9,588 683,588.1 685.4,591 686,592 687,594 687.6,597 686.1,600 686,600.1 683,601.6 681.3,603 680,603.8 677.8,606 677,606.8 675.3,609 674,610.9 673.3,612 671.7,615 671,616.4 670.2,618 669,621 668,623.6 667.8,624 666.7,627 665.7,630 665,632.1 664.6,633 663.4,636 662,639 662,639.1 660.1,642 659,643.4 656,644.9 653,644.7 650,643.1 648.8,642 647,640.4 645.8,639 644,636.9 643.3,636 641.1,633 641,632.9 638.9,630 638,628.7 636.8,627 635,624.5 634.7,624 633.3,621 632,618.1 631.9,618 630.7,615 629.9,612 629.2,609 629,607.6 628.7,606 628.4,603 628.4,600 628.5,597 628.7,594 629,591.2 629,591 629.4,588 629.9,585 630.4,582 630.6,579 629.9,576 629,573 629,573 626,570.6 625,570 623,569.2 620,568.2 617,567.3 614,567 613.9,567 611,566.4 608,565.8 605,565.3 602,564.7 599,564.2 597.5,564 596,563.8 593,563.4 590,563.3 587,563.2 584,563.4 581,563.8 579.2,564 578,564.2 575,564.2 573.3,564 572,563.8 569,563.1 566,561.9 564,561 563,560.7 560,560.1 557,560.4 554,560.9 552,561 551,561.1 550.6,561 548,560.6 545,559.8 542,558.7 539.9,558 539,557.7 536,556.9 533,555.8 530.8,555 530,554.7 527,553.9 524,552.7 522.5,552 521,551.4 518,550.3 515,549.2 514.5,549 512,548.1 509,547.2 506,546.1 505.7,546 503,545 500,544.2 497,543.2 496.6,543 494,542.1 491,541.1 488.1,540 488,540 485,538.8 482,537.2 481.6,537 479,535.8 476.1,534 476,533.9 473,531.7 472.2,531 470,529 469,528 467,526 465.8,525 464,523.6 461,522.2 460.6,522 458,521 455,519.1 454.8,519 452,516.3 451.7,516 449.1,513 449,512.9 446,510 446,510 443,507.7 442.1,507 440,505.5 437.9,504 437,503.3 434,501.2 433.7,501 431,499.4 428.7,498 428,497.6 425,495.6 424.1,495 422,493.5 419.9,492 419,491.3 416,489.3 415.5,489 413,487.7 410,487.1 407,488.9 406.9,489 404.5,492 404,492.8 402.8,495 401,496.9 400.1,498 398.8,501 398,502.6 397.3,504 395.9,507 395,508.6 393.9,510 392,512 391,513 389,514.8 386.9,516 386,516.6 383,517.5 380,517.8 377,517.7 374,517.6 371,517.4 368,518 365.9,519 365,519.6 362.1,522 362,522.2 360,525 359,526.8 358.3,528 356.8,531 356,533 355.7,534 354.6,537 353,539.7 352.8,540 351.3,543 350,545.2 349.4,546 347,548.8 346.8,549 344,551.3 343.3,552 341,554.3 340.6,555 340,558 341,560.3 342.3,561 344,561.4 347,561.4 350,561.3 352.1,561 353,560.8 356,559.7 359,558.6 359.8,558 362,557 365,556 368,557.4 368.4,558 368.5,561 368,561.7 365,563.6 364.6,564 362.4,567 362,567.5 360.4,570 359.5,573 359,574.9 358.8,576 358.1,579 357.4,582 356.6,585 356,587.9 356,588 355.3,591 354.6,594 353.6,597 353,598.4 352.4,600 350.8,603 350,604.3 348.8,606 347,607.9 345.7,609 344,610.1 341,611.7 340.1,612 338,612.7 335,613.4 332,613.8 329,614 326,614.4 323,614.6 320,614.7 317.3,615 317,615 314,615.4 311,615.9 308,616.6 305,617.4 303.6,618 302,618.7 299,620.3 297.7,621 296,622.3 293.6,624 293,624.5 290.1,627 290,627.1 287,628.8 285.1,630 284,630.5 283,630 281,627.9 280.7,627 280,624 278,621.2 277.9,621 275.7,618 275,617.1 273.4,615 272,613.2 271,612 269,609.8 268.2,609 266,606.5 265.6,606 263.4,603 263,602.2 262,600 261,597 260,594 260,593.9 259.1,591 257.6,588 257,586.9 255.8,585 254,582.4 253.7,582 251.6,579 251,577.9 250.1,576 249.1,573 248.1,570 248,569.7 247.2,567 245.8,564 245,562.9 242.8,561 242,560.6 239,559.7 236,559 233,558.5 230,558.4 227,558.9 224,559.5 221,559.7 218,560.2 215,560.7 212,560.2 209.5,558 209,555.7 208.9,555 209,554 209.2,552 211.8,549 211.9,546 212,545.8 213.7,543 215,540.7 215.3,540 216.5,537 217.4,534 218,531.8 218.2,531 218.5,528 218.7,525 218.4,522 218,520.9 217.2,519 215.8,516 215,514.8 213.2,513 212,512 209,510.5 206.8,510 206,509.8 203.3,510 203,510 200,511 197,512.8 196.6,513 194,515.2 193.3,516 191,518.8 190.8,519 188.3,522 188,522.4 185.6,525 185,525.6 182.8,528 182,528.8 179.8,531 179,531.6 176.2,534 176,534.1 173,536.7 172.7,537 170,539.1 168.9,540 167,541.5 164.7,543 164,543.4 161,544.9 158,545.9 156.9,546 155,546.2 152,546.2 151.1,546 149,545.6 146,544.8 143,543.5 142.3,543 140,541.1 139.1,540 137,537.4 136.8,537 135.1,534 134,531.6 133.8,531 132.7,528 132,525 131.5,522 131,519.5 130.9,519 130.6,516 130.2,513 129.6,510 130,507 130.3,504 131,502.5 131.8,501 134,499.1 135.5,498 137,497.1 140,495.6 141.7,495 143,494.5 146,493.6 149,492.7 150.8,492 152,491.5 155,490 156.6,489 158,488 160.3,486 161,485.2 162.9,483 164,481.2 164.6,480 165.6,477 166.1,474 166.4,471 166.1,468 165.4,465 164.2,462 164,461.6 161.6,459 161,458.5 158,457.2 155,456.8 152,456.7 149,457.1 146,457.8 143,458.7 142.2,459 140,459.9 137,461.3 135.9,462 134,463.2 131.6,465 131,465.6 128.7,468 128,468.9 126.4,471 125,473.1 124.5,474 123.1,477 122.3,480 122,482.2 121.9,483 121.8,486 122,489 122,492 122,492.3 122.1,495 122,495.7 121.8,498 120.9,501 119.2,504 119,504.2 117.2,507 116,508.3 115,510 113,512.6 112.7,513 110.6,516 110,516.8 108.5,519 107,521.1 106.3,522 104,524.8 103.8,525 101,527.4 99.9,528 98,529 95,530 92,530.5 89,530.6 86,530.7 83,530.8 81.5,531 80,531.2 77,531.7 74,532.3 71,533 68,533.7 66.9,534 65,534.4 62,535 59,535.5 56,535.7 53,535.6 53,534 53,531 53,528 53,525 53,522 53,519 53,516 53,513 53,510 53,509.4 53,510 53.9,513 55.7,516 56,516.3 59,517.9 62,518.7 63.8,519 65,519.2 68,519.3 71,519.5 74,519.7 77,519.8 80,519.9 83,520 86,520.3 89,520.6 92,520.5 95,519.6 95.9,519 98,517.5 99.5,516 101,514 101.6,513 103.2,510 104,507.9 104.4,507 105.2,504 105.8,501 106.1,498 106.1,495 105.9,492 105.5,489 104.8,486 104.1,483 104,482.5 103.3,480 102.3,477 101.1,474 101,473.8 99.4,471 98,469 96.8,468 95,466.7 92,465.5 90.5,465 89,464.6 86,463.8 83,463 80,462.2 79.1,462 77,461.5 74,461.1 71,461.4 69.9,462 68,463 66,465 65,466.2 63.9,468 62.6,471 62,472.7 61.6,474 60.8,477 60,480 59.2,483 59,483.8 58.4,486 57.4,489 56.4,492 56,493.3 55.4,495 54.5,498 53.6,501 53.1,504 53,505.4 53,504 53,501 53,498 53,495 53,492 53,489 53,486 53,483 53,480 53,477 53,474 53,471 53,468 53,465 53,462 53,459 53,456 53,453 53,450 53,447 53,444 53,441 53,438 53,435 53,432 53,429 53,426 53,423 53,420 53,417 53,414 53,411 53,408 53,405 53,402 53,399 53,396 53,393 53,390 53,387 53,384 53,381 53,378 53,375 53,372 53,369 53,366 53,363 53,360 53,357 53,354 53,351 53,348 53,345 53,342 53,339 53,336 53,333 53,330 53,327 53,324 53,321 53,318 53,315 53,312 53,309 53,306 53,303 53,300 53,297 53,294 53,291 53,288 53,285.5 56,285.9 59,286.4 62,286.7 65,287.3 68,288 68.2,288 71,288.8 74,289.9 76.8,291 77,291.1 80,292.5 83,293.9 83.3,294 86,295.3 89,296.6 90,297 92,297.8 95,299 97.6,300 98,300.1 101,301.3 104,302.1 107,302.3 110,301.7 113,300.1 113.1,300 116,298.1 117.4,297 119,296 122,294.2 122.3,294 125,292.6 128,291.3 128.8,291 131,290.2 134,289.4 137,288.9 140,288.7 143,289 146,289.7 149,290.8 149.3,291 152,292.7 153.4,294 155,296.2 155.8,297 156.4,300 155.5,303 155,303.7 153.3,306 152,307.2 149.5,309 149,309.3 146,311.1 144.7,312 143,313.4 141.5,315 140,317.4 139.6,318 138.8,321 139.1,324 140,325.5 140.6,327 143,330 143,330 146,332.9 146.2,333 149,334.9 152,335.8 154.5,336 155,336 155.2,336 158,335.5 161,333.7 161.7,333 164,330.4 164.3,330 166.3,327 167,325.9 168.1,324 169.9,321 170,320.9 171.7,318 173,315.9 173.7,315 176,312.2 176.3,312 179,310.1 182,309.1 182.1,309 185,307.6 186.7,306 188,303.8 188.3,303 188.6,300 188,297.2 187.9,297 185.8,294 185,292.6 183.2,294 182,294.4 180.1,297 179,298.4 177.4,300 176,301.4 173,302.1 170,301.1 168.3,300 167,298.8 165.4,297 164.6,294 164.6,291 165,288 165.6,285 166.3,282 167,279 167,278.9 167.8,276 167,274.4 166.7,273 164.9,270 164,268.9 163.1,267 161.8,264 161,261.4 160.9,261 160.5,258 160.4,255 160.6,252 161,249 161,248.8 161.6,246 162.3,243 163.2,240 164,237.9 164.4,237 166,234 167,232.3 168,231 170,228.4 170.4,228 172.7,225 173,224.6 174.5,222 175.3,219 175.5,216 175.4,213 175.1,210 174.7,207ZM199.5,222 197,222.5 194,223.5 191,225 191,225 188,227.4 187.3,228 185.5,231 185,232.3 184.4,234 183.6,237 182.8,240 182,242.3 181.8,243 180.9,246 180.5,249 180.3,252 180,255 179.4,258 179,259.4 178.5,261 177.1,264 176,266.1 175.4,267 173.6,270 173,271.8 172.1,273 172.4,276 173,276.4 174.4,279 176,280.4 177.2,282 179,284 180.2,285 182,287.1 185,287.2 186,285 187.7,282 188,281.5 189.1,279 190.9,276 191,275.9 194,273.2 194.6,273 197,272.2 200,272.3 203,272.6 206,272.3 209,270.7 209.6,270 211.4,267 212,265 212.3,264 212.7,261 212.8,258 212.6,255 212.4,252 212.1,249 212,246.9 212,246 212,243.7 212,243 212.1,240 212.3,237 212.3,234 212.1,231 212,230.5 211.5,228 210.2,225 209,223.6 206,222 205.8,222 203,221.7 200,221.9ZM112.2,318 110,320.7 109.9,321 108.8,324 108,327 107.1,330 107,330.2 106.1,333 104.7,336 104,337.1 102.8,339 101,341.1 100,342 98,343.7 95,344.7 92,343.6 90.8,342 89,339.8 88.5,339 86.2,336 86,335.7 83.1,333 83,332.9 80,331.8 77,332 74.3,333 74,333.1 71,335.3 70.3,336 68,338.8 67.9,339 66.2,342 65,344.3 64.6,345 63.7,348 62.8,351 62,353.7 61.9,354 61,357 59.9,360 59,362.1 58.7,363 57.6,366 56.3,369 56,369.9 55.2,372 54.4,375 53.8,378 53.6,381 53.8,384 54.3,387 55.2,390 56,392 56.5,393 58.2,396 59,397.4 60.2,399 62,402 62,402 63.9,405 64.7,408 64.8,411 64.6,414 64.3,417 64.3,420 64.4,423 64.6,426 65,427.7 65.3,429 66.4,432 68,434.6 68.3,435 71,437.2 72.7,438 74,438.4 77,438.8 80,438.8 83,438.6 85.4,438 86,437.8 89,437.5 91.1,438 92,438.3 95,440.6 95.4,441 97.6,444 98,444.6 99.8,447 101,448.7 102.8,450 104,450.8 107,451 109.4,450 110,449.8 113,447.4 113.4,447 116,444 116,444 118.9,441 119,440.9 122,438 122,438 124.6,435 125,434.5 126.6,432 127.8,429 128,428.2 128.4,426 128.4,423 128,420.9 127.8,420 126.3,417 125,415.2 123.7,414 122,413 119,412.5 116,412.5 113,412.6 110,412.5 107,412.1 104,411.8 101,411.5 98,411.4 95,411.3 92,411.4 89,411.4 86,411.3 84.3,411 83,410.8 80,409.8 77,408.2 76.7,408 74,405 74,405 73.2,402 73.8,399 74,398.5 74.8,396 76,393 77,390.7 77.2,390 78.3,387 79,384 79.4,381 79.4,378 79.1,375 78.7,372 78.2,369 77.9,366 78.2,363 79.6,360 80,359.6 83,357.3 84.1,357 86,356.5 88.9,357 89,357 91.4,360 92,361.2 92.5,363 93.2,366 93.8,369 94.6,372 95,373.4 95.5,375 96.8,378 98,379.9 98.9,381 101,383.2 102,384 104,385.3 107,386.5 109.2,387 110,387.2 113,387.3 116,387.2 117,387 119,386.7 122,385.8 125,384.2 125.3,384 128,381.4 128.3,381 130.5,378 131,377.1 132,375 133.1,372 133.8,369 134,367.6 134.2,366 134.4,363 134.3,360 134,358.1 133.9,357 133.2,354 132.3,351 131.2,348 131,347.3 130.2,345 129.3,342 128.5,339 128,336 128,335.9 127.6,333 127.3,330 126.7,327 125.3,324 125,323.6 122.9,321 122,320.2 119,318.1 118.6,318 116,317 113,317.3ZM199.4,339 197,340.1 195.4,342 194.2,345 194,346 193.8,348 193.8,351 194,353.3 194.1,354 195.4,357 196,360 197,361.9 197.4,363 199.6,366 200,366.3 203,367.9 205.4,369 206,369.2 209,369.7 212,369.8 215,369.3 216.2,369 218,368 219.5,366 220.5,363 220.1,360 218.5,357 218,356.2 216.6,354 215,351.3 214.8,351 212.9,348 212,346.6 210.8,345 209,342.4 208.6,342 206,339.3 204,339 203,338.9 200,338.8ZM249.9,360 248,360.2 245,360.6 242,361.6 239.5,363 239,363.5 236.4,366 236,368.4 235.9,369 236,369.2 238.3,372 239,372.3 242,373.3 245,373.5 248,373.3 251,373 254,372.7 257,372.7 260,372.7 263,372.7 266,372.4 267.4,372 269,371.4 272,369.3 272.3,369 274,366 273.9,363 272,360.8 270.5,360 269,359.5 266,359.1 263,359.2 260,359.3 257,359.5 254,359.8 251,359.9ZM374.4,453 374,453.3 372.2,456 371.4,459 372.1,462 374,464.8 374.2,465 377,467.3 378.1,468 380,469 383,470.7 383.6,471 386,472.2 389,473.5 391.8,471 389.8,468 389,466.9 387.7,465 386,462 386,462 383.9,459 383,457.6 381.7,456 380,453.6 378.9,453 377,452.1ZM368.4,483 368,483.2 365,485.9 364.9,486 363.6,489 363.8,492 365,494.6 365.2,495 368,497.8 368.3,498 371,499.2 374,500 377,500.2 380,499.4 382,498 383,496.9 384.3,495 384.8,492 383.9,489 383,487.6 381.5,486 380,484.8 377,483.5 375.5,483 374,482.6 371,482.4ZM150.4,513 149,513.4 146.3,516 146,516.5 145.1,519 145.1,522 146,524.4 146.4,525 149,527.1 152,527.4 155,526 156,525 157.7,522 158,520 158.2,519 158,517.8 157.6,516 155,513.3 154,513 152,512.6ZM272,525 272,525 270.6,528 269.4,531 269,531.9 268.4,534 267.9,537 267.3,540 266.5,543 266,546 266,546 265.7,549 265.8,552 266,552.8 266.4,555 267.9,558 269,559.1 272,560.6 275,559.8 276.4,558 278,555.4 278.2,555 278.3,552 278.5,549 278.8,546 279,543 278.8,540 279.1,537 279.1,534 279.1,531 278.6,528 278,525.7 277.6,525 275,522.9ZM652.2,591 650,592 647.7,594 647,595 646,597 645.2,600 645,603 645.4,606 646.3,609 647,610.4 648.3,612 650,613.7 653,614.9 656,614.3 659,612 659,612 661.3,609 662,608 662.9,606 663.9,603 664.3,600 663.8,597 662.3,594 662,593.6 659,591.3 658,591 656,590.5 653,590.6ZM278,207 281,207 284,207 287,207 290,207 293,207 296,207 299,207 302,207 304.6,207 302,207.2 299,207.3 296,207.4 293,207.6 290,207.7 287,207.9 284,207.9 281,207.8 278,207.4 276.5,207ZM59,617.5 60.8,618 62,618.3 65,621 65,621 67,624 68,625.8 68.6,627 69.8,630 70.8,633 71,633.7 71.6,636 72.1,639 72.6,642 73.1,645 73.5,648 73.9,651 74,652 74.2,654 74.4,657 74.3,660 74,663 74,663.3 73.6,666 73.1,669 72.5,672 71.9,675 71.2,678 71,679 70.4,681 69.5,684 68.5,687 68,688.4 67.3,690 66.1,693 65,695.5 64.8,696 63.1,699 62,700.8 61,702 59,703.7 56,704.8 53,704 53,702 53,699 53,696 53,693 53,690 53,687 53,684 53,681 53,678 53,675 53,672 53,669 53,666 53,663 53,660 53,657 53,654 53,651 53,648 53,645 53,642 53,639 53,636 53,633 53,630 53,627 53,624 53,622.2 53.8,621 56,618.9 57.9,618ZM560,627 560,627 563,627.5 566,629.3 566.9,630 567.5,633 566.6,636 566,636.7 563,638.5 560,638.2 557,636 557,636 555.5,633 554.8,630 557,628 560,627ZM467,691.8 470,691 473,690.8 476,691.6 477.7,693 479,694.7 479.5,696 480.2,699 480.4,702 479.9,705 479,707.6 478.8,708 476.9,711 476,712 474,714 473,714.8 470,716.5 468.4,717 467,717.3 465.8,717 464,716.3 461.5,714 461,713.4 459.5,711 458.3,708 458,706.3 457.8,705 457.8,702 458,701.2 458.7,699 460.6,696 461,695.6 464,693.2 464.3,693ZM353,700.1 356,699.4 359,700.1 362,701.8 362.2,702 364.4,705 365,706.5 365.5,708 365.9,711 365.8,714 365.5,717 365.1,720 365,720.7 364.4,723 363.7,726 362.4,729 362,729.6 359,731.2 356.5,729 356,728.6 355,726 353.8,723 353,721.1 352.8,720 352.1,717 351.3,714 350.4,711 350,709.1 349.8,708 349.8,705 350,703.9 350.9,702Z"/>
<path fill="#ffe878" fill-rule="evenodd" d="M230,209.4 233,207 233.1,207 236,207 239,207 242,207 245,207 248,207 251,207 254,207 257,207 260,207 263,207 266,207 269,207 272,207 275,207 276.5,207 278,207.4 281,207.8 284,207.9 287,207.9 290,207.7 293,207.6 296,207.4 299,207.3 302,207.2 304.6,207 305,207 308,207 311,207 314,207 317,207 320,207 323,207 326,207 329,207 332,207 335,207 338,207 339.1,207 341,209.3 341.6,210 343.1,213 343.7,216 343.3,219 342.3,222 341,224.3 340.6,225 338.5,228 338,228.6 336.1,231 335,232.2 333.4,234 332,235.5 330.6,237 329,238.6 327.4,240 326,241.1 323,242.7 320.4,243 320,243 317.5,243 317,243 316.7,243 314,243.1 311,243.4 308,243.8 305,244 302,244 299,244.2 296,245 293.9,246 293,246.6 290.5,249 290,249.9 288.9,252 288.2,255 288.1,258 288.2,261 288.4,264 288.4,267 288.2,270 288,273 287.6,276 287,278 286.5,279 284.1,282 284,282.1 281.3,285 281,285.3 279.4,288 278.4,291 278,292.3 277.4,294 276.1,297 275,298.2 272,299.2 269,299 266,298.4 263,297.8 260,297.3 257,297.1 254.1,297 254,297 253.7,297 251,297.1 248,297.6 245,298.3 242,299.2 239,300 236,299.5 235,297 234.4,294 234.1,291 234.4,288 234.7,285 234.9,282 235.4,279 236,276.9 236.3,276 237.3,273 238.4,270 239,268.5 239.6,267 240.7,264 241.8,261 242,260.3 242.9,258 243.7,255 244.1,252 243.6,249 242,246.7 241.1,246 239,245.1 236,243.2 235.8,243 233,240.5 232.6,240 230.3,237 230,236.5 228.8,234 227.6,231 227,229.2 226.7,228 226.1,225 225.9,222 226,219 226.5,216 227,214.5 227.6,213 229.5,210ZM200,338.8 203,338.9 204,339 206,339.3 208.6,342 209,342.4 210.8,345 212,346.6 212.9,348 214.8,351 215,351.3 216.6,354 218,356.2 218.5,357 220.1,360 220.5,363 219.5,366 218,368 216.2,369 215,369.3 212,369.8 209,369.7 206,369.2 205.4,369 203,367.9 200,366.3 199.6,366 197.4,363 197,361.9 196,360 195.4,357 194.1,354 194,353.3 193.8,351 193.8,348 194,346 194.2,345 195.4,342 197,340.1 199.4,339ZM251,359.9 254,359.8 257,359.5 260,359.3 263,359.2 266,359.1 269,359.5 270.5,360 272,360.8 273.9,363 274,366 272.3,369 272,369.3 269,371.4 267.4,372 266,372.4 263,372.7 260,372.7 257,372.7 254,372.7 251,373 248,373.3 245,373.5 242,373.3 239,372.3 238.3,372 236,369.2 235.9,369 236,368.4 236.4,366 239,363.5 239.5,363 242,361.6 245,360.6 248,360.2 249.9,360ZM377,452.1 378.9,453 380,453.6 381.7,456 383,457.6 383.9,459 386,462 386,462 387.7,465 389,466.9 389.8,468 391.8,471 389,473.5 386,472.2 383.6,471 383,470.7 380,469 378.1,468 377,467.3 374.2,465 374,464.8 372.1,462 371.4,459 372.2,456 374,453.3 374.4,453ZM143,458.7 146,457.8 149,457.1 152,456.7 155,456.8 158,457.2 161,458.5 161.6,459 164,461.6 164.2,462 165.4,465 166.1,468 166.4,471 166.1,474 165.6,477 164.6,480 164,481.2 162.9,483 161,485.2 160.3,486 158,488 156.6,489 155,490 152,491.5 150.8,492 149,492.7 146,493.6 143,494.5 141.7,495 140,495.6 137,497.1 135.5,498 134,499.1 131.8,501 131,502.5 130.3,504 130,507 129.6,510 130.2,513 130.6,516 130.9,519 131,519.5 131.5,522 132,525 132.7,528 133.8,531 134,531.6 135.1,534 136.8,537 137,537.4 139.1,540 140,541.1 142.3,543 143,543.5 146,544.8 149,545.6 151.1,546 152,546.2 155,546.2 156.9,546 158,545.9 161,544.9 164,543.4 164.7,543 167,541.5 168.9,540 170,539.1 172.7,537 173,536.7 176,534.1 176.2,534 179,531.6 179.8,531 182,528.8 182.8,528 185,525.6 185.6,525 188,522.4 188.3,522 190.8,519 191,518.8 193.3,516 194,515.2 196.6,513 197,512.8 200,511 203,510 203.3,510 206,509.8 206.8,510 209,510.5 212,512 213.2,513 215,514.8 215.8,516 217.2,519 218,520.9 218.4,522 218.7,525 218.5,528 218.2,531 218,531.8 217.4,534 216.5,537 215.3,540 215,540.7 213.7,543 212,545.8 211.9,546 211.8,549 209.2,552 209,554 208.9,555 209,555.7 209.5,558 212,560.2 215,560.7 218,560.2 221,559.7 224,559.5 227,558.9 230,558.4 233,558.5 236,559 239,559.7 242,560.6 242.8,561 245,562.9 245.8,564 247.2,567 248,569.7 248.1,570 249.1,573 250.1,576 251,577.9 251.6,579 253.7,582 254,582.4 255.8,585 257,586.9 257.6,588 259.1,591 260,593.9 260,594 261,597 262,600 263,602.2 263.4,603 265.6,606 266,606.5 268.2,609 269,609.8 271,612 272,613.2 273.4,615 275,617.1 275.7,618 277.9,621 278,621.2 280,624 280.7,627 281,627.9 283,630 284,630.5 285.1,630 287,628.8 290,627.1 290.1,627 293,624.5 293.6,624 296,622.3 297.7,621 299,620.3 302,618.7 303.6,618 305,617.4 308,616.6 311,615.9 314,615.4 317,615 317.3,615 320,614.7 323,614.6 326,614.4 329,614 332,613.8 335,613.4 338,612.7 340.1,612 341,611.7 344,610.1 345.7,609 347,607.9 348.8,606 350,604.3 350.8,603 352.4,600 353,598.4 353.6,597 354.6,594 355.3,591 356,588 356,587.9 356.6,585 357.4,582 358.1,579 358.8,576 359,574.9 359.5,573 360.4,570 362,567.5 362.4,567 364.6,564 365,563.6 368,561.7 368.5,561 368.4,558 368,557.4 365,556 362,557 359.8,558 359,558.6 356,559.7 353,560.8 352.1,561 350,561.3 347,561.4 344,561.4 342.3,561 341,560.3 340,558 340.6,555 341,554.3 343.3,552 344,551.3 346.8,549 347,548.8 349.4,546 350,545.2 351.3,543 352.8,540 353,539.7 354.6,537 355.7,534 356,533 356.8,531 358.3,528 359,526.8 360,525 362,522.2 362.1,522 365,519.6 365.9,519 368,518 371,517.4 374,517.6 377,517.7 380,517.8 383,517.5 386,516.6 386.9,516 389,514.8 391,513 392,512 393.9,510 395,508.6 395.9,507 397.3,504 398,502.6 398.8,501 400.1,498 401,496.9 402.8,495 404,492.8 404.5,492 406.9,489 407,488.9 410,487.1 413,487.7 415.5,489 416,489.3 419,491.3 419.9,492 422,493.5 424.1,495 425,495.6 428,497.6 428.7,498 431,499.4 433.7,501 434,501.2 437,503.3 437.9,504 440,505.5 442.1,507 443,507.7 446,510 446,510 449,512.9 449.1,513 451.7,516 452,516.3 454.8,519 455,519.1 458,521 460.6,522 461,522.2 464,523.6 465.8,525 467,526 469,528 470,529 472.2,531 473,531.7 476,533.9 476.1,534 479,535.8 481.6,537 482,537.2 485,538.8 488,540 488.1,540 491,541.1 494,542.1 496.6,543 497,543.2 500,544.2 503,545 505.7,546 506,546.1 509,547.2 512,548.1 514.5,549 515,549.2 518,550.3 521,551.4 522.5,552 524,552.7 527,553.9 530,554.7 530.8,555 533,555.8 536,556.9 539,557.7 539.9,558 542,558.7 545,559.8 548,560.6 550.6,561 551,561.1 552,561 554,560.9 557,560.4 560,560.1 563,560.7 564,561 566,561.9 569,563.1 572,563.8 573.3,564 575,564.2 578,564.2 579.2,564 581,563.8 584,563.4 587,563.2 590,563.3 593,563.4 596,563.8 597.5,564 599,564.2 602,564.7 605,565.3 608,565.8 611,566.4 613.9,567 614,567 617,567.3 620,568.2 623,569.2 625,570 626,570.6 629,573 629,573 629.9,576 630.6,579 630.4,582 629.9,585 629.4,588 629,591 629,591.2 628.7,594 628.5,597 628.4,600 628.4,603 628.7,606 629,607.6 629.2,609 629.9,612 630.7,615 631.9,618 632,618.1 633.3,621 634.7,624 635,624.5 636.8,627 638,628.7 638.9,630 641,632.9 641.1,633 643.3,636 644,636.9 645.8,639 647,640.4 648.8,642 650,643.1 653,644.7 656,644.9 659,643.4 660.1,642 662,639.1 662,639 663.4,636 664.6,633 665,632.1 665.7,630 666.7,627 667.8,624 668,623.6 669,621 670.2,618 671,616.4 671.7,615 673.3,612 674,610.9 675.3,609 677,606.8 677.8,606 680,603.8 681.3,603 683,601.6 686,600.1 686.1,600 687.6,597 687,594 686,592 685.4,591 683,588.1 682.9,588 680,585.3 679.7,585 677,582.8 676.1,582 674,580.5 671.9,579 671,578.4 668,576.5 666.9,576 665,575 662,573.8 659.6,573 659,572.8 656,571.6 653,570.1 652.7,570 650,567 650,564.6 650,564 650,564 651.4,561 653,559.2 654.2,558 656,556.9 659,555.6 660.6,555 662,554.6 665,553.6 668,552.6 669.4,552 671,551.4 674,550.3 677,549.2 678.1,549 680,548.6 683,548.5 686,548.9 686.4,549 689,549.8 692,551.3 693.2,552 695,553.1 697.8,555 698,555.2 701,557.3 702.1,558 704,559.3 706.8,561 707,561.2 710,563 711.7,564 713,564.9 715.7,567 716,567.3 718,570 719,571.6 719.6,573 720.9,576 721.9,579 722,579.4 722.6,582 723.3,585 723.8,588 724.3,591 724.6,594 724.7,597 724.6,600 724.2,603 723.5,606 722.6,609 722,610.6 721.4,612 719.8,615 719,616.7 718.2,618 716.6,621 716,622.1 715,624 713.6,627 713,628.4 712.4,630 711.5,633 711,636 710.6,639 710.4,642 710.4,645 710.7,648 711.1,651 711.6,654 712.2,657 712.8,660 713,660.8 713.6,663 714.1,666 715,669 715.9,672 716,672.4 717.4,675 719,677.3 722,677.9 725,676.3 726.4,675 728,673.7 729.8,672 731,671 732.8,669 734,667.6 735.4,666 737,664.6 738.6,663 740,661.8 741.9,660 743,659 745.3,657 746,656.4 749,654.3 749.4,654 752,652.3 753.9,651 755,650.3 758,648.2 758.3,648 761,646.1 762.4,645 764,643.8 766.2,642 767,641.3 769.8,639 770,638.8 773,636.3 773.4,636 776,633.9 777,633 779,631.5 781,630 782,629.3 785,627.3 785.5,627 788,625.3 790.1,624 791,623.4 794,621.3 794.5,621 797,619 798.2,618 800,616.4 801.5,615 803,613.5 804.4,612 806,610.3 807.1,609 809,606.8 809.7,606 812,603.5 812.4,603 815,600.5 815.7,600 818,598.5 820.8,597 821,596.9 824,595.5 827,594.1 827.3,594 830,592.8 833,591.4 833.9,591 836,590 839,588.4 839.7,588 842,586.8 845,585.1 845,588 845,591 845,594 845,597 845,600 845,603 845,606 845,609 845,612 845,615 845,616.1 842,617.9 841.8,618 839,619.8 837.3,621 836,622 833,623.8 832.7,624 830,626.9 829.9,627 827.7,630 827,631.1 826,633 824.5,636 824,637.1 823.3,639 822.3,642 821.5,645 821,647.8 821,648 820.7,651 820.7,654 820.9,657 821,658.2 821.2,660 821.6,663 822,666 822.6,669 823.4,672 824,674.1 824.3,675 825.8,678 827,679.7 828.2,681 830,682.6 832.3,684 833,684.4 836,685.6 839,686.3 842,686.6 845,686.7 845,687 845,690 845,693 845,696 845,699 845,702 845,705 845,708 845,711 845,714 845,717 845,720 845,723 845,726 845,729 845,732 845,735 845,738 845,741 845,741.9 842,742.3 839,742.3 836,742 833,741.3 832.2,741 830,740.1 827,738.4 826.5,738 824,735.8 823.3,735 821,732 821,732 819.3,729 818,726.1 817.9,726 816.7,723 815.6,720 815,718.5 814.3,717 812.6,714 812,712.8 811.2,711 810.1,708 809.6,705 809.3,702 809.3,699 809.4,696 809.6,693 809.5,690 809.2,687 809,685.9 808.6,684 807.8,681 806.7,678 806,676.2 805.6,675 804.7,672 804,669 803.5,666 803.2,663 803,661.8 802.8,660 802.2,657 801.4,654 800,651.3 799.8,651 797,648.4 796.3,648 794,647.1 791,646.9 788,647.5 787.1,648 785,649.1 782.7,651 782,651.6 780,654 779,655.5 778.1,657 776.6,660 776,662.1 775.6,663 774.9,666 774.6,669 774.7,672 775.4,675 773,675.9 770,675.4 767,675.2 764,675.2 761,675.4 758,676 755,677.1 753.5,678 752,679.1 750.6,681 749,683.7 748.8,684 747.6,687 746.2,690 746,690.6 745.2,693 744.2,696 743.5,699 743,699.9 742,702 741.1,705 740.2,708 740,708.8 739.5,711 738.8,714 738.1,717 737.6,720 737,722.2 736.8,723 736.3,726 735.8,729 734.8,732 734,734.3 733.7,735 732.4,738 731,740.5 730.5,741 728,742.4 725,743.3 722,743.3 719,742.8 716,741.9 713.2,741 713,740.9 710,739.6 707,738.2 706.5,738 704,736.2 702.7,735 701,732.4 700.8,732 699.8,729 699.3,726 699.1,723 698.7,720 698.2,717 698,716.2 697.5,714 696.4,711 695.1,708 695,707.9 693.2,705 692,703.2 691.1,702 689,699 689,699 686.8,696 686,694.4 685.1,693 683.5,690 683,688.3 682.3,687 682.6,684 683,683.8 685.9,681 686,680.9 689,678.1 689.1,678 691.6,675 692,674.5 693.3,672 694.7,669 695,667.9 695.4,666 695.9,663 696,660 695.8,657 695.3,654 695,652.6 694.6,651 693.5,648 692,645 692,644.8 690.6,642 690,639 691.1,636 692,634.6 692.6,633 693.5,630 694.2,627 694.3,624 693.6,621 692,618.8 691.1,618 689,617 686,616.7 683,617.8 682.8,618 680.9,621 680.1,624 680,625.3 679.9,627 680,628.5 680.1,630 680.7,633 681.3,636 681.6,639 681,642 680,644 679.7,645 678.5,648 677.3,651 677,651.7 676.3,654 675.6,657 675.1,660 674.9,663 675,666 675.4,669 675.9,672 676.5,675 677,677.8 677.1,678 677.6,681 677,681.9 674,683.3 671,683.4 668,682.9 665,682 662.7,681 662,680.8 659,679.3 657.1,678 656,677.1 654.2,675 653,673.5 651.9,672 650,669.7 649.4,669 647,666.2 646.8,666 644.1,663 644,662.9 641.4,660 641,659.6 638.7,657 638,656.2 636,654 635,652.7 633.6,651 632,648.8 631.4,648 629.3,645 629,644.5 626.8,642 626,641.1 623.3,639 623,638.8 620,637.8 617,637.9 614.5,639 614,639.2 611,642 611,642 608.6,645 608,645.7 606.4,648 605,649.9 604.2,651 602,653.8 601.9,654 599.5,657 599,657.6 596.9,660 596,660.9 593.6,663 593,663.6 590.2,666 590,666.2 587,668.6 586.3,669 584,670.5 581,672 581,672 578,673 575,673.7 572,674 569,673.9 566,673.6 563,672.9 560,672.2 559.1,672 557,671.4 554,670.6 551,669.8 548.4,669 548,668.9 545,668.1 542,667.3 539,666.8 536,666.5 533,666.5 530,666.9 527,667.9 524.9,669 524,669.4 521,671.6 520.5,672 518,674.5 517.6,675 515.3,678 515,678.4 513.4,681 512,683.6 511.8,684 510.4,687 509.2,690 509,690.4 508.1,693 507.2,696 506.3,699 506,700.3 505.6,702 504.8,705 504.1,708 503.3,711 503,712 502.4,714 501.2,717 500,719.4 499.6,720 497.3,723 497,723.4 494.1,726 494,726.1 491,728.2 489.8,729 488,730.1 485,731.8 484.5,732 482,733.3 479,734.6 477.8,735 476,735.6 473,736.4 470,736.9 467,737.1 464,737 461,736.5 458,735.7 456.1,735 455,734.6 452,733.3 449.5,732 449,731.7 446,730 444.2,729 443,728.3 440,726.6 438.9,726 437,725 434,723.6 432.3,723 431,722.5 428,721.6 425,721.1 422,720.8 419,720.8 416,721.1 413,721.8 410,722.9 409.6,723 407,723.8 404,724.9 401.9,726 401,726.5 398,728.3 397,729 395,730.6 393.4,732 392,733.2 390.4,735 389,736.4 387.2,738 386,739.2 384.4,741 383,742.4 381.6,744 380,745.8 379,747 377,749.3 376.4,750 374,753 374,753 372.1,756 371,758.9 371,759 370.7,762 370.6,765 370.4,768 369.8,771 368.5,774 368,774.9 365.5,777 365,777.3 362,777.1 361.9,777 359,775 358.3,774 356,771 356,770.9 354.5,768 353,765.6 352.8,765 351.8,762 351.1,759 350.4,756 350,754.5 349.7,753 349.1,750 348.6,747 348,744 347.4,741 347,739.4 346.7,738 346.3,735 345.8,732 345.2,729 344.7,726 344.2,723 344,721.5 343.8,720 343.3,717 342.5,714 341.4,711 341,709.6 340.6,708 339.8,705 339.1,702 338.8,699 339.3,696 340.5,693 341,692 342.3,690 344,687.1 344.1,687 346.2,684 347,682.8 348.8,681 350,679.7 352.4,678 353,677.5 356,675.9 358.1,675 359,674.6 362,673.4 365,672.1 365.3,672 368,670.3 369.4,669 371,667 371.7,666 373.3,663 374,661.5 374.6,660 375.8,657 376.9,654 377,653.7 378,651 379.1,648 380,646.2 380.7,645 382.5,642 383,641.4 385.2,639 386,638.2 389,636 389,636 392,634.2 394.3,633 395,632.7 398,631.6 401,630.8 404,630.2 405.7,630 407,629.8 410,629.7 413,629.7 416,629.6 419,629.5 422,629 425,628.7 428,627.8 429.6,627 431,626.1 433.6,624 434,623.6 435.9,621 437,619.3 437.7,618 439.1,615 440,613.1 440.5,612 441.5,609 442.1,606 442.8,603 443,601.8 443.3,600 444.1,597 444.7,594 446,591 446,591 447.4,588 449,585.7 449.7,585 452,583.5 455,582.6 457,582 458,581.8 461,581.5 464,580.9 467,581.1 470,581.5 471.5,582 473,582.5 476,583.6 478.8,585 479,585.1 482,586.7 483.9,588 485,588.8 487,591 488,592.2 489.9,594 491,595 493.5,597 494,597.4 497,599.5 498.2,600 500,600.7 503,601.6 506,602 508.7,603 509,603.1 512,603.2 515,603.2 515.6,603 518,602.3 521,602.1 524,601.6 527,600.6 530,600.3 533,600 533.2,600 536,599.5 539,598.6 542,597.7 544.7,597 545,596.9 548,596.3 551,594.5 554,594.3 556.9,594 557,594 560,594 560.3,594 563,594.3 566,595.3 569,597 569,597 572,598.6 574.4,600 575,600.4 578,602.1 579.8,603 581,603.7 584,605.1 586.4,606 587,606.2 590,606.5 593,607 596,607.1 599,606.1 599.1,606 602,603.9 602.7,603 604.4,600 605,598.7 605.6,597 606.2,594 606.3,591 605.8,588 605,585.7 604.7,585 603.3,582 602,580.4 601,579 599,577.1 597.7,576 596,574.9 593,573.2 592.6,573 590,572.1 587,571.5 584,571.2 581,571.3 578,571.2 575,571 572,570.3 571.3,570 569,569.2 566,567.6 564.9,567 563,566.1 560,565.5 557,566.1 554,566.9 553.6,567 551,567.7 548,567.8 545,567.7 543.7,567 542,566.3 539,565.8 536,564.6 534.1,564 533,563.7 530,563 527,562.1 524.4,561 524,560.9 521,559.7 518,558.6 516.1,558 515,557.6 512,556.9 509,556.5 506,556.4 503,555.9 500,556.4 497,556.4 495.5,555 494,554.3 491.2,552 491,551.9 488,550.2 486.3,549 485,548.5 482,547.2 479,546.1 478.9,546 476.3,543 476,542.7 473,540.8 472,540 470,538.4 468.5,537 467,535.5 465.2,534 464,533 461.1,531 461,530.9 458,530.4 455,530.2 452,529.1 449,528.1 448.9,528 446.4,525 446,524.6 443,523.3 440,522.2 439.4,522 437,521.2 434,520.6 431,519.5 429.1,519 428,518.7 427.1,516 425,514.5 423.3,513 422,510.6 419,512.4 418.3,513 416.7,516 416.3,519 416.3,522 416,522.5 414.9,525 414.8,528 415.3,531 416,532.8 416.4,534 417.1,537 417.7,540 418.7,543 419,543.6 421,546 421.6,549 422,549.4 424.5,552 425,552.7 427.1,555 428,556 429.7,558 431,559.8 432.3,561 433,564 431,565.9 428,566 425,566.7 422,566.3 419,566.4 416.8,567 416,567.2 413,568.2 411.3,570 410,571.1 407,572.3 405.5,573 404,573.6 401,574.9 399.6,576 398,577.4 395.8,579 395,579.5 392,582 392,582 389,584.3 388.2,585 386,586.9 384.8,588 383,589.6 381,591 380,591.7 377,593.9 376.9,594 374,596.6 373.6,597 371.1,600 371,600.1 369.6,603 368.3,606 368,606.9 367.3,609 365.9,612 365,613.5 364,615 362,617.3 361.2,618 359,619.7 356.5,621 356,621.2 353,622.3 350,623.2 347,623.8 345.8,624 344,624.3 341,624.9 338,625.5 335,626.3 332.6,627 332,627.2 329,628.4 326,629.5 324.8,630 323,630.9 320,632.2 318,633 317,633.6 314,635 311,635.9 310.9,636 309,639 310.9,642 311,642.1 314,644 315.3,645 317,646.1 319.1,648 320,648.7 321.9,651 323,652.4 324,654 325.7,657 326,657.8 326.8,660 327.2,663 327,666 326,669 326,669 324.2,672 323,673.4 321.5,675 320,676.4 318,678 317,678.8 314,680.8 313.5,681 311,682.1 308,682.5 305,681.7 303.7,681 302,680.1 299,678.1 298.8,678 296,675.8 295,675 293,673.2 291.7,672 290,670.3 288.7,669 287,667.2 286,666 284,663.4 283.7,663 281.6,660 281,659.2 279.5,657 278,654.9 277.4,654 275.5,651 275,650.2 273.7,648 272.1,645 272,644.7 270.8,642 269.7,639 269,636.7 268.7,636 267.8,633 266.7,630 266,628.6 265.1,627 263.1,624 263,623.9 260.4,621 260,620.6 257,618.1 256.8,618 254,615.9 253,615 251,612.8 250.4,612 249.4,609 249.3,606 249.4,603 249.2,600 248.3,597 248,596.4 246.4,594 245,592.7 242.9,591 242,590.4 239.9,588 239,586.4 238.4,585 237,582 236,580.5 233.8,579 233,578.5 230,577.8 227,578 224,578.6 222.5,579 221,579.4 218,580 215,580.4 212,580.6 209,580.7 206,580.8 203,580.8 200,580.6 197,580.5 194,580.5 191,580.6 188,580.7 185,581.1 182,581.8 181.6,582 179,582.7 176,583.4 173,583.9 170,584.3 167,584.7 164,585 161,585 158,584.9 155,584.8 152,584.4 149,583.9 146,583.4 143,582.9 140,582.3 138.7,582 137,581.6 134,581 131,580.6 128,580.1 125,579.5 122,579.1 120.8,579 119,578.8 116,578.5 113,578 110,577.6 107,577.1 104,576.2 103.6,576 101,573.8 100.4,573 99.2,570 98.9,567 99.2,564 99.7,561 100.5,558 100.2,555 99.8,552 98,549.8 97.3,549 95,547.7 92,546.3 91.2,546 89,545.5 86,545 83,544.8 80,545 77,545.5 74.8,546 74,546.2 71,547.1 68,548.2 65.7,549 65,549.3 62,550.4 59,551.3 56,552 56,552 53,552.4 53,552 53,549 53,546 53,543 53,540 53,537 53,535.6 56,535.7 59,535.5 62,535 65,534.4 66.9,534 68,533.7 71,533 74,532.3 77,531.7 80,531.2 81.5,531 83,530.8 86,530.7 89,530.6 92,530.5 95,530 98,529 99.9,528 101,527.4 103.8,525 104,524.8 106.3,522 107,521.1 108.5,519 110,516.8 110.6,516 112.7,513 113,512.6 115,510 116,508.3 117.2,507 119,504.2 119.2,504 120.9,501 121.8,498 122,495.7 122.1,495 122,492.3 122,492 122,489 121.8,486 121.9,483 122,482.2 122.3,480 123.1,477 124.5,474 125,473.1 126.4,471 128,468.9 128.7,468 131,465.6 131.6,465 134,463.2 135.9,462 137,461.3 140,459.9 142.2,459ZM114.1,552 114.9,555 116,556.5 116.7,555 116.5,552 116,551.3ZM560,627 557,628 554.8,630 555.5,633 557,636 557,636 560,638.2 563,638.5 566,636.7 566.6,636 567.5,633 566.9,630 566,629.3 563,627.5 560,627 560,627ZM464.3,693 464,693.2 461,695.6 460.6,696 458.7,699 458,701.2 457.8,702 457.8,705 458,706.3 458.3,708 459.5,711 461,713.4 461.5,714 464,716.3 465.8,717 467,717.3 468.4,717 470,716.5 473,714.8 474,714 476,712 476.9,711 478.8,708 479,707.6 479.9,705 480.4,702 480.2,699 479.5,696 479,694.7 477.7,693 476,691.6 473,690.8 470,691 467,691.8ZM350.9,702 350,703.9 349.8,705 349.8,708 350,709.1 350.4,711 351.3,714 352.1,717 352.8,720 353,721.1 353.8,723 355,726 356,728.6 356.5,729 359,731.2 362,729.6 362.4,729 363.7,726 364.4,723 365,720.7 365.1,720 365.5,717 365.8,714 365.9,711 365.5,708 365,706.5 364.4,705 362.2,702 362,701.8 359,700.1 356,699.4 353,700.1ZM845,483.3 845,486 845,489 845,492 845,495 845,498 845,501 845,504 845,507 845,510 845,513 845,516 845,519 845,522 845,525 845,527.6 844,525 843.2,522 842.6,519 842.2,516 842.1,513 842.1,510 842.2,507 842.3,504 842.5,501 842.8,498 843.1,495 843.4,492 843.8,489 844.4,486ZM275,522.9 277.6,525 278,525.7 278.6,528 279.1,531 279.1,534 279.1,537 278.8,540 279,543 278.8,546 278.5,549 278.3,552 278.2,555 278,555.4 276.4,558 275,559.8 272,560.6 269,559.1 267.9,558 266.4,555 266,552.8 265.8,552 265.7,549 266,546 266,546 266.5,543 267.3,540 267.9,537 268.4,534 269,531.9 269.4,531 270.6,528 272,525 272,525ZM62,598.9 64.7,600 65,600.2 66.7,603 67.8,606 68,606.6 68.8,609 70.2,612 71,613 72.6,615 74,616.5 75.3,618 77,619.9 78.1,621 80,623.1 80.9,624 83,626 84.5,627 86,627.9 89,628.8 92,629.1 95,629.4 98,629.9 98.9,630 101,630.5 104,631.4 107,632.8 107.3,633 110,635.4 110.5,636 112.9,639 113,639.2 114.3,642 115.2,645 115.8,648 116,651 116,651 116,651 115.4,654 113.5,657 113,657.5 110,659.1 107,658.6 105.9,657 104,654.7 103.6,654 101.3,651 101,650.7 98,648.2 97.3,648 95,647.2 92,647.2 90.4,648 89,649 87.8,651 86.7,654 86,656.8 86,657 85.4,660 84.8,663 84.1,666 83.4,669 83,670.4 82.6,672 81.8,675 81.2,678 80.8,681 80.4,684 80,686 79.8,687 78.9,690 77.6,693 77,694 76,696 74.4,699 74,699.8 73,702 71.5,705 71,705.8 69.5,708 68,709.8 66.7,711 65,712.3 62,713.7 60.6,714 59,714.3 56,714.3 53,714.1 53,714 53,711 53,708 53,705 53,704 56,704.8 59,703.7 61,702 62,700.8 63.1,699 64.8,696 65,695.5 66.1,693 67.3,690 68,688.4 68.5,687 69.5,684 70.4,681 71,679 71.2,678 71.9,675 72.5,672 73.1,669 73.6,666 74,663.3 74,663 74.3,660 74.4,657 74.2,654 74,652 73.9,651 73.5,648 73.1,645 72.6,642 72.1,639 71.6,636 71,633.7 70.8,633 69.8,630 68.6,627 68,625.8 67,624 65,621 65,621 62,618.3 60.8,618 59,617.5 57.9,618 56,618.9 53.8,621 53,622.2 53,621 53,618 53,615 53,612 53,609 53,608.3 55.3,606 56,605.1 57.4,603 59,600.5 59.8,600Z"/>
<path fill="#ffc03c" fill-rule="evenodd" d="M419,512.4 422,510.6 423.3,513 425,514.5 427.1,516 428,518.7 429.1,519 431,519.5 434,520.6 437,521.2 439.4,522 440,522.2 443,523.3 446,524.6 446.4,525 448.9,528 449,528.1 452,529.1 455,530.2 458,530.4 461,530.9 461.1,531 464,533 465.2,534 467,535.5 468.5,537 470,538.4 472,540 473,540.8 476,542.7 476.3,543 478.9,546 479,546.1 482,547.2 485,548.5 486.3,549 488,550.2 491,551.9 491.2,552 494,554.3 495.5,555 497,556.4 500,556.4 503,555.9 506,556.4 509,556.5 512,556.9 515,557.6 516.1,558 518,558.6 521,559.7 524,560.9 524.4,561 527,562.1 530,563 533,563.7 534.1,564 536,564.6 539,565.8 542,566.3 543.7,567 545,567.7 548,567.8 551,567.7 553.6,567 554,566.9 557,566.1 560,565.5 563,566.1 564.9,567 566,567.6 569,569.2 571.3,570 572,570.3 575,571 578,571.2 581,571.3 584,571.2 587,571.5 590,572.1 592.6,573 593,573.2 596,574.9 597.7,576 599,577.1 601,579 602,580.4 603.3,582 604.7,585 605,585.7 605.8,588 606.3,591 606.2,594 605.6,597 605,598.7 604.4,600 602.7,603 602,603.9 599.1,606 599,606.1 596,607.1 593,607 590,606.5 587,606.2 586.4,606 584,605.1 581,603.7 579.8,603 578,602.1 575,600.4 574.4,600 572,598.6 569,597 569,597 566,595.3 563,594.3 560.3,594 560,594 557,594 556.9,594 554,594.3 551,594.5 548,596.3 545,596.9 544.7,597 542,597.7 539,598.6 536,599.5 533.2,600 533,600 530,600.3 527,600.6 524,601.6 521,602.1 518,602.3 515.6,603 515,603.2 512,603.2 509,603.1 508.7,603 506,602 503,601.6 500,600.7 498.2,600 497,599.5 494,597.4 493.5,597 491,595 489.9,594 488,592.2 487,591 485,588.8 483.9,588 482,586.7 479,585.1 478.8,585 476,583.6 473,582.5 471.5,582 470,581.5 467,581.1 464,580.9 461,581.5 458,581.8 457,582 455,582.6 452,583.5 449.7,585 449,585.7 447.4,588 446,591 446,591 444.7,594 444.1,597 443.3,600 443,601.8 442.8,603 442.1,606 441.5,609 440.5,612 440,613.1 439.1,615 437.7,618 437,619.3 435.9,621 434,623.6 433.6,624 431,626.1 429.6,627 428,627.8 425,628.7 422,629 419,629.5 416,629.6 413,629.7 410,629.7 407,629.8 405.7,630 404,630.2 401,630.8 398,631.6 395,632.7 394.3,633 392,634.2 389,636 389,636 386,638.2 385.2,639 383,641.4 382.5,642 380.7,645 380,646.2 379.1,648 378,651 377,653.7 376.9,654 375.8,657 374.6,660 374,661.5 373.3,663 371.7,666 371,667 369.4,669 368,670.3 365.3,672 365,672.1 362,673.4 359,674.6 358.1,675 356,675.9 353,677.5 352.4,678 350,679.7 348.8,681 347,682.8 346.2,684 344.1,687 344,687.1 342.3,690 341,692 340.5,693 339.3,696 338.8,699 339.1,702 339.8,705 340.6,708 341,709.6 341.4,711 342.5,714 343.3,717 343.8,720 344,721.5 344.2,723 344.7,726 345.2,729 345.8,732 346.3,735 346.7,738 347,739.4 347.4,741 348,744 348.6,747 349.1,750 349.7,753 350,754.5 350.4,756 351.1,759 351.8,762 352.8,765 353,765.6 354.5,768 356,770.9 356,771 358.3,774 359,775 361.9,777 362,777.1 365,777.3 365.5,777 368,774.9 368.5,774 369.8,771 370.4,768 370.6,765 370.7,762 371,759 371,758.9 372.1,756 374,753 374,753 376.4,750 377,749.3 379,747 380,745.8 381.6,744 383,742.4 384.4,741 386,739.2 387.2,738 389,736.4 390.4,735 392,733.2 393.4,732 395,730.6 397,729 398,728.3 401,726.5 401.9,726 404,724.9 407,723.8 409.6,723 410,722.9 413,721.8 416,721.1 419,720.8 422,720.8 425,721.1 428,721.6 431,722.5 432.3,723 434,723.6 437,725 438.9,726 440,726.6 443,728.3 444.2,729 446,730 449,731.7 449.5,732 452,733.3 455,734.6 456.1,735 458,735.7 461,736.5 464,737 467,737.1 470,736.9 473,736.4 476,735.6 477.8,735 479,734.6 482,733.3 484.5,732 485,731.8 488,730.1 489.8,729 491,728.2 494,726.1 494.1,726 497,723.4 497.3,723 499.6,720 500,719.4 501.2,717 502.4,714 503,712 503.3,711 504.1,708 504.8,705 505.6,702 506,700.3 506.3,699 507.2,696 508.1,693 509,690.4 509.2,690 510.4,687 511.8,684 512,683.6 513.4,681 515,678.4 515.3,678 517.6,675 518,674.5 520.5,672 521,671.6 524,669.4 524.9,669 527,667.9 530,666.9 533,666.5 536,666.5 539,666.8 542,667.3 545,668.1 548,668.9 548.4,669 551,669.8 554,670.6 557,671.4 559.1,672 560,672.2 563,672.9 566,673.6 569,673.9 572,674 575,673.7 578,673 581,672 581,672 584,670.5 586.3,669 587,668.6 590,666.2 590.2,666 593,663.6 593.6,663 596,660.9 596.9,660 599,657.6 599.5,657 601.9,654 602,653.8 604.2,651 605,649.9 606.4,648 608,645.7 608.6,645 611,642 611,642 614,639.2 614.5,639 617,637.9 620,637.8 623,638.8 623.3,639 626,641.1 626.8,642 629,644.5 629.3,645 631.4,648 632,648.8 633.6,651 635,652.7 636,654 638,656.2 638.7,657 641,659.6 641.4,660 644,662.9 644.1,663 646.8,666 647,666.2 649.4,669 650,669.7 651.9,672 653,673.5 654.2,675 656,677.1 657.1,678 659,679.3 662,680.8 662.7,681 665,682 668,682.9 671,683.4 674,683.3 677,681.9 677.6,681 677.1,678 677,677.8 676.5,675 675.9,672 675.4,669 675,666 674.9,663 675.1,660 675.6,657 676.3,654 677,651.7 677.3,651 678.5,648 679.7,645 680,644 681,642 681.6,639 681.3,636 680.7,633 680.1,630 680,628.5 679.9,627 680,625.3 680.1,624 680.9,621 682.8,618 683,617.8 686,616.7 689,617 691.1,618 692,618.8 693.6,621 694.3,624 694.2,627 693.5,630 692.6,633 692,634.6 691.1,636 690,639 690.6,642 692,644.8 692,645 693.5,648 694.6,651 695,652.6 695.3,654 695.8,657 696,660 695.9,663 695.4,666 695,667.9 694.7,669 693.3,672 692,674.5 691.6,675 689.1,678 689,678.1 686,680.9 685.9,681 683,683.8 682.6,684 682.3,687 683,688.3 683.5,690 685.1,693 686,694.4 686.8,696 689,699 689,699 691.1,702 692,703.2 693.2,705 695,707.9 695.1,708 696.4,711 697.5,714 698,716.2 698.2,717 698.7,720 699.1,723 699.3,726 699.8,729 700.8,732 701,732.4 702.7,735 704,736.2 706.5,738 707,738.2 710,739.6 713,740.9 713.2,741 716,741.9 719,742.8 722,743.3 725,743.3 728,742.4 730.5,741 731,740.5 732.4,738 733.7,735 734,734.3 734.8,732 735.8,729 736.3,726 736.8,723 737,722.2 737.6,720 738.1,717 738.8,714 739.5,711 740,708.8 740.2,708 741.1,705 742,702 743,699.9 743.5,699 744.2,696 745.2,693 746,690.6 746.2,690 747.6,687 748.8,684 749,683.7 750.6,681 752,679.1 753.5,678 755,677.1 758,676 761,675.4 764,675.2 767,675.2 770,675.4 773,675.9 775.4,675 774.7,672 774.6,669 774.9,666 775.6,663 776,662.1 776.6,660 778.1,657 779,655.5 780,654 782,651.6 782.7,651 785,649.1 787.1,648 788,647.5 791,646.9 794,647.1 796.3,648 797,648.4 799.8,651 800,651.3 801.4,654 802.2,657 802.8,660 803,661.8 803.2,663 803.5,666 804,669 804.7,672 805.6,675 806,676.2 806.7,678 807.8,681 808.6,684 809,685.9 809.2,687 809.5,690 809.6,693 809.4,696 809.3,699 809.3,702 809.6,705 810.1,708 811.2,711 812,712.8 812.6,714 814.3,717 815,718.5 815.6,720 816.7,723 817.9,726 818,726.1 819.3,729 821,732 821,732 823.3,735 824,735.8 826.5,738 827,738.4 830,740.1 832.2,741 833,741.3 836,742 839,742.3 842,742.3 845,741.9 845,744 845,747 845,750 845,753 845,756 845,759 845,762 845,765 845,768 845,771 845,774 845,777 845,780 845,783 845,784.8 842,785.7 841.2,786 839,786.8 836,787.8 833,788.9 832.6,789 830,790.1 827,791.3 824.9,792 824,792.3 821,793.6 818.1,795 818,795.1 815,797.2 814.2,798 812.1,801 812,801.2 810.9,804 810.3,807 810.2,810 810.1,813 810.3,816 809.9,819 809,822 809,822 806,824 804.4,825 803,825.5 800,826.8 797.9,828 797,828.3 794,829.9 792.3,831 791,831.6 788,833.1 786.2,834 785,834.4 782,834.1 781.7,834 779,832.7 776,832 773,832.4 770.6,834 770,834.4 767.9,837 767,838.5 766.3,840 765.1,843 764,846 764,846.1 762.7,849 761,852 761,852 758,854.8 757.6,855 755,855.8 752,855.2 751.8,855 749.6,852 749,850.4 748.6,849 748,846 747.5,843 747,840 746.5,837 746,835.1 745.8,834 745.1,831 744.3,828 743.6,825 743,822.7 742.8,822 742.1,819 741.4,816 740.7,813 740,810.3 739.9,810 739.2,807 738.5,804 737.9,801 737.1,798 737,797.7 736.3,795 735.6,792 734.9,789 734.1,786 734,785.7 733.4,783 732.7,780 732.1,777 731.3,774 731,773.2 730.2,771 728.8,768 728,766.7 726.6,765 725,763.5 722.3,762 722,761.9 719,760.8 716,760.1 713,759.6 710,759.5 707,759.7 704,760.2 701,760.9 698,761.7 696.1,762 695,762.2 692,762.2 690.9,762 689,761.6 686,759.7 685.4,759 683.5,756 683,755 682.2,753 681.3,750 680.6,747 680,744.4 679.9,744 679.4,741 678.8,738 678.3,735 677.6,732 677,729.1 677,729 676.2,726 675.3,723 674.3,720 674,719.4 673.1,717 671.8,714 671,712.3 670.3,711 668.7,708 668,707 666.5,705 665,703.2 663.9,702 662,700.1 660.9,699 659,696.9 658.2,696 656,693.5 655.6,693 653,690.1 652.9,690 650,687.2 649.8,687 647,684.7 646.1,684 644,682.4 641.9,681 641,680.3 638,678.4 637.3,678 635,676.5 632.3,675 632,674.8 629,673.4 626,672.6 623,672.8 620,673.9 618.3,675 617,676.2 615.4,678 614,680 613.4,681 612,684 611,686.8 610.9,687 610.1,690 609.6,693 609.3,696 609.2,699 609.2,702 609.3,705 609.6,708 610.1,711 609.7,714 608.7,717 608,718.2 606.9,720 605,722.1 604.1,723 602,724.6 600,726 599,726.6 596,728.2 594.5,729 593,729.7 590,731.1 588,732 587,732.4 584,733.6 581,734.9 580.6,735 578,736 575,737 572,737.8 570.3,738 569,738.2 567.1,738 566,737.9 563,736.6 561.4,735 560,733.5 559.1,732 557.5,729 557,727.9 556.4,726 555.4,723 554.6,720 554,717.7 553.8,717 553.1,714 552.1,711 551,708.1 551,708 549.4,705 548,702.9 547.3,702 545,699.5 544.4,699 542,697.4 539,696.1 538.4,696 536,695.6 533,695.8 532.3,696 530,696.8 527,698.7 526.7,699 524,701.8 523.8,702 521.8,705 521,706.2 520.1,708 518.7,711 518,712.8 517.6,714 516.6,717 515.6,720 515,721.9 514.6,723 513.6,726 512.4,729 512,729.7 510.8,732 509,734.5 508.5,735 506,737.5 505.4,738 503,739.6 500.7,741 500,741.4 497,743.1 495.3,744 494,744.7 491,746.5 490.1,747 488,748.4 485.5,750 485,750.3 482,752.2 480.5,753 479,753.9 476,755.4 474.1,756 473,756.4 470,757.1 467,757.4 464,757.4 461,757.1 458,756.5 456.5,756 455,755.6 452,754.4 449.2,753 449,752.9 446,751.5 443.1,750 443,750 440,748.7 437,747.6 434.5,747 434,746.9 431,746.6 428,746.7 426.3,747 425,747.3 422,748.3 419,749.8 418.7,750 416,751.7 414.7,753 413,754.8 411.8,756 410,757.8 408.8,759 407,761 406.2,762 404,764.7 403.8,765 401.7,768 401,769.2 399.9,771 398.5,774 398,775.2 397.3,777 396.5,780 395.9,783 395.6,786 395.6,789 395.8,792 396.4,795 397.2,798 398,800.1 398.4,801 399.8,804 401,806.3 401.4,807 403.1,810 404,811.8 404.6,813 406.2,816 407,817.7 407.7,819 408.9,822 410,825 410,825.1 411.5,828 413,831 413,831 414,834 414.3,837 413.7,840 413,841.7 412.5,843 411.4,846 410,847.8 409.2,849 407,851.4 406.4,852 404,854.2 403.1,855 401,856.6 399,858 398,858.6 395,859.6 392,859.3 390.2,858 389,857.4 386.3,855 386,854.8 383.2,852 383,851.8 380.9,849 380,847.5 379.5,846 378.8,843 377.9,840 377,837.6 376.8,837 375.2,834 374,832.5 372.7,831 371,829.5 369.6,828 368,825.9 367.5,825 366.2,822 365.1,819 365,818.7 364.2,816 363.4,813 362.6,810 362,808.1 361.7,807 360.8,804 360,801 359.1,798 359,797.6 358.3,795 357.3,792 356.1,789 356,788.7 354.9,786 353.6,783 353,781.7 352.3,780 351.1,777 350,774.2 349.9,774 348.8,771 347.7,768 347,765.8 346.7,765 345.7,762 344.8,759 344,756.3 343.9,756 343.2,753 342.7,750 342.3,747 342,744 341.6,741 341.2,738 341,736.5 340.8,735 340.3,732 339.9,729 339.5,726 339.2,723 338.8,720 338.2,717 338,716.3 337.2,714 336.2,711 335.4,708 335,706.6 334.6,705 333.9,702 333.5,699 333.2,696 333.2,693 333.6,690 334.4,687 334.3,684 332,682 329,683 327.8,684 326,685.4 324.3,687 323,688.1 321.1,690 320,691.1 317.4,693 317,693.2 314,694.1 311,694.5 308,694.6 305,694.2 302,693.3 301.1,693 299,692.2 296,690.8 294.6,690 293,689.1 290,687.1 289.8,687 287,685 285.4,684 284,683.1 281,681.5 279.9,681 278,679.7 276.3,678 275,675.2 274.9,675 273.7,672 272.1,669 272,668.9 270,666 269,664.4 268.1,663 266.3,660 266,659.4 264.7,657 263.4,654 263,652.9 262.2,651 261.1,648 260,645.1 260,645 258.6,642 257.3,639 257,638.4 255.6,636 254,633.3 253.8,633 251.3,630 251,629.7 248,627 248,627 245,625 243.6,624 242,622.7 240.2,621 239,619.8 237,618 236,616.9 234.2,615 233,612.8 232.7,612 231.9,609 231.8,606 232.5,603 233,602.1 234.7,600 236,598.5 236.6,597 236,595.9 233.2,594 233,593.9 230,593.9 227,593.6 224,593.5 221,593.6 218,593.9 217.3,594 215,594.3 212,594.6 209,594.7 206,594.6 203,594.6 200,594.5 197,594.4 194,594.2 191,594.4 188,595.3 185,596.7 184.3,597 182,598.5 179,599.7 176,599.9 173,599.8 170,599.6 167,599.3 164,599.2 161,599.2 158,599.2 155,599.2 152,599.3 149,599.5 146,599.1 143,598.1 140.1,597 140,597 137,596.1 134,595.4 131,594.7 128,594.3 125,594.5 122,595.3 119,596.1 116,594.9 115.3,594 113,592.7 110,591.7 107,591.1 106.4,591 104,590.6 101,589.8 98,589 95.8,588 95,587.6 92,585.2 91.8,585 89.1,582 89,581.9 86.1,579 86,578.7 84,576 83,573.9 82.1,573 80.6,570 80,569.4 77,569.4 76,570 74,572.1 73.5,573 73.5,576 73.9,579 74,579.4 74.5,582 75.5,585 76.9,588 77,588.3 78.2,591 79.8,594 80,594.5 81.8,597 83,598.7 84,600 85.6,603 86,603.9 87,606 88.7,609 89,609.4 91.1,612 92,612.9 94.6,615 95,615.2 98,616.5 101,617.1 104,617.5 106.5,618 107,618.1 110,619.2 112.8,621 113,621.1 116,623.4 116.7,624 119,626.3 119.6,627 121.8,630 122,630.2 124.1,633 125,634.6 126,636 127.7,639 128,639.5 129.5,642 130.9,645 131,645.2 132.3,648 133,651 133.3,654 133.2,657 132.6,660 131,662.9 131,663 128,666 128,666 125,668.1 123.6,669 122,669.9 119,671.4 117.8,672 116,672.9 113,674.8 112.7,675 110,677.7 109.7,678 107.9,681 107,682.8 106.2,684 104.2,687 104,687.3 101.7,690 101,691.1 99.7,693 98.4,696 98,697.5 97.6,699 97.2,702 97.1,705 97.2,708 97.3,711 97.1,714 95.8,717 95,717.9 92,719.3 89,719.2 86,718.9 83.5,720 83,720.4 81.4,723 80,725.7 79.9,726 78.5,729 77,731.4 76.6,732 74.2,735 74,735.2 71,737.7 70.5,738 68,739.3 65,740.5 64,741 62,742.1 59.9,744 59,745.1 57.7,747 56.3,750 56,750.8 55,753 53.7,756 53,757.5 53,756 53,753 53,750 53,747 53,744 53,741 53,738 53,735 53,732 53,729 53,726 53,723 53,720 53,717 53,714.1 56,714.3 59,714.3 60.6,714 62,713.7 65,712.3 66.7,711 68,709.8 69.5,708 71,705.8 71.5,705 73,702 74,699.8 74.4,699 76,696 77,694 77.6,693 78.9,690 79.8,687 80,686 80.4,684 80.8,681 81.2,678 81.8,675 82.6,672 83,670.4 83.4,669 84.1,666 84.8,663 85.4,660 86,657 86,656.8 86.7,654 87.8,651 89,649 90.4,648 92,647.2 95,647.2 97.3,648 98,648.2 101,650.7 101.3,651 103.6,654 104,654.7 105.9,657 107,658.6 110,659.1 113,657.5 113.5,657 115.4,654 116,651 116,651 116,651 115.8,648 115.2,645 114.3,642 113,639.2 112.9,639 110.5,636 110,635.4 107.3,633 107,632.8 104,631.4 101,630.5 98.9,630 98,629.9 95,629.4 92,629.1 89,628.8 86,627.9 84.5,627 83,626 80.9,624 80,623.1 78.1,621 77,619.9 75.3,618 74,616.5 72.6,615 71,613 70.2,612 68.8,609 68,606.6 67.8,606 66.7,603 65,600.2 64.7,600 62,598.9 59.8,600 59,600.5 57.4,603 56,605.1 55.3,606 53,608.3 53,606 53,603 53,600 53,597 53,594 53,591 53,588 53,585 53,582 53,579 53,576 53,573 53,570 53,567 53,564 53,561 53,558 53,555 53,552.4 56,552 56,552 59,551.3 62,550.4 65,549.3 65.7,549 68,548.2 71,547.1 74,546.2 74.8,546 77,545.5 80,545 83,544.8 86,545 89,545.5 91.2,546 92,546.3 95,547.7 97.3,549 98,549.8 99.8,552 100.2,555 100.5,558 99.7,561 99.2,564 98.9,567 99.2,570 100.4,573 101,573.8 103.6,576 104,576.2 107,577.1 110,577.6 113,578 116,578.5 119,578.8 120.8,579 122,579.1 125,579.5 128,580.1 131,580.6 134,581 137,581.6 138.7,582 140,582.3 143,582.9 146,583.4 149,583.9 152,584.4 155,584.8 158,584.9 161,585 164,585 167,584.7 170,584.3 173,583.9 176,583.4 179,582.7 181.6,582 182,581.8 185,581.1 188,580.7 191,580.6 194,580.5 197,580.5 200,580.6 203,580.8 206,580.8 209,580.7 212,580.6 215,580.4 218,580 221,579.4 222.5,579 224,578.6 227,578 230,577.8 233,578.5 233.8,579 236,580.5 237,582 238.4,585 239,586.4 239.9,588 242,590.4 242.9,591 245,592.7 246.4,594 248,596.4 248.3,597 249.2,600 249.4,603 249.3,606 249.4,609 250.4,612 251,612.8 253,615 254,615.9 256.8,618 257,618.1 260,620.6 260.4,621 263,623.9 263.1,624 265.1,627 266,628.6 266.7,630 267.8,633 268.7,636 269,636.7 269.7,639 270.8,642 272,644.7 272.1,645 273.7,648 275,650.2 275.5,651 277.4,654 278,654.9 279.5,657 281,659.2 281.6,660 283.7,663 284,663.4 286,666 287,667.2 288.7,669 290,670.3 291.7,672 293,673.2 295,675 296,675.8 298.8,678 299,678.1 302,680.1 303.7,681 305,681.7 308,682.5 311,682.1 313.5,681 314,680.8 317,678.8 318,678 320,676.4 321.5,675 323,673.4 324.2,672 326,669 326,669 327,666 327.2,663 326.8,660 326,657.8 325.7,657 324,654 323,652.4 321.9,651 320,648.7 319.1,648 317,646.1 315.3,645 314,644 311,642.1 310.9,642 309,639 310.9,636 311,635.9 314,635 317,633.6 318,633 320,632.2 323,630.9 324.8,630 326,629.5 329,628.4 332,627.2 332.6,627 335,626.3 338,625.5 341,624.9 344,624.3 345.8,624 347,623.8 350,623.2 353,622.3 356,621.2 356.5,621 359,619.7 361.2,618 362,617.3 364,615 365,613.5 365.9,612 367.3,609 368,606.9 368.3,606 369.6,603 371,600.1 371.1,600 373.6,597 374,596.6 376.9,594 377,593.9 380,591.7 381,591 383,589.6 384.8,588 386,586.9 388.2,585 389,584.3 392,582 392,582 395,579.5 395.8,579 398,577.4 399.6,576 401,574.9 404,573.6 405.5,573 407,572.3 410,571.1 411.3,570 413,568.2 416,567.2 416.8,567 419,566.4 422,566.3 425,566.7 428,566 431,565.9 433,564 432.3,561 431,559.8 429.7,558 428,556 427.1,555 425,552.7 424.5,552 422,549.4 421.6,549 421,546 419,543.6 418.7,543 417.7,540 417.1,537 416.4,534 416,532.8 415.3,531 414.8,528 414.9,525 416,522.5 416.3,522 416.3,519 416.7,516 418.3,513ZM116,551.3 116.5,552 116.7,555 116,556.5 114.9,555 114.1,552ZM842,617.9 845,616.1 845,618 845,621 845,624 845,627 845,630 845,633 845,636 845,639 845,642 845,645 845,648 845,651 845,654 845,657 845,660 845,663 845,666 845,669 845,672 845,675 845,678 845,681 845,684 845,686.7 842,686.6 839,686.3 836,685.6 833,684.4 832.3,684 830,682.6 828.2,681 827,679.7 825.8,678 824.3,675 824,674.1 823.4,672 822.6,669 822,666 821.6,663 821.2,660 821,658.2 820.9,657 820.7,654 820.7,651 821,648 821,647.8 821.5,645 822.3,642 823.3,639 824,637.1 824.5,636 826,633 827,631.1 827.7,630 829.9,627 830,626.9 832.7,624 833,623.8 836,622 837.3,621 839,619.8 841.8,618ZM218,620.5 221,620.5 221.8,621 224,623.1 224.5,624 225.2,627 225.2,630 224.7,633 224,635.3 223.7,636 222.2,639 221,641.7 220.8,642 220,645 218.6,648 218.1,651 218,651.3 217.2,654 216.6,657 215.4,660 215,660.6 213,663 212,663.9 209,665.1 206,665.4 203,664.8 200,663.5 199.3,663 197,661.1 195.7,660 194,658.1 192.9,657 191,654.9 189.9,654 188,652 187,651 185,648.9 183.9,648 182,645.7 181.5,645 180.4,642 182,640.2 185,639.2 187.4,639 188,639 189.7,639 191,639 191.2,639 194,638.8 197,638.4 200,638.1 203,637.7 205.6,636 206,635.6 208.6,633 209,632.4 209.8,630 211,627 212,625.6 213,624 215,622 216.7,621ZM818,825.8 821,826 824,826.8 825.5,828 827,829 828.7,831 830,832.5 830.8,834 832.4,837 833,838.4 833.5,840 834.3,843 834.6,846 834.4,849 833.6,852 833,853.2 831.7,855 830,856.4 827,857.4 824,857.2 821,855.7 820.3,855 818,852.4 817.7,852 816.3,849 815.3,846 815,844 814.8,843 814.6,840 814.7,837 814.8,834 814.9,831 815,830.2 815.4,828Z"/>
<path fill="#ffa000" fill-rule="evenodd" d="M77,569.4 80,569.4 80.6,570 82.1,573 83,573.9 84,576 86,578.7 86.1,579 89,581.9 89.1,582 91.8,585 92,585.2 95,587.6 95.8,588 98,589 101,589.8 104,590.6 106.4,591 107,591.1 110,591.7 113,592.7 115.3,594 116,594.9 119,596.1 122,595.3 125,594.5 128,594.3 131,594.7 134,595.4 137,596.1 140,597 140.1,597 143,598.1 146,599.1 149,599.5 152,599.3 155,599.2 158,599.2 161,599.2 164,599.2 167,599.3 170,599.6 173,599.8 176,599.9 179,599.7 182,598.5 184.3,597 185,596.7 188,595.3 191,594.4 194,594.2 197,594.4 200,594.5 203,594.6 206,594.6 209,594.7 212,594.6 215,594.3 217.3,594 218,593.9 221,593.6 224,593.5 227,593.6 230,593.9 233,593.9 233.2,594 236,595.9 236.6,597 236,598.5 234.7,600 233,602.1 232.5,603 231.8,606 231.9,609 232.7,612 233,612.8 234.2,615 236,616.9 237,618 239,619.8 240.2,621 242,622.7 243.6,624 245,625 248,627 248,627 251,629.7 251.3,630 253.8,633 254,633.3 255.6,636 257,638.4 257.3,639 258.6,642 260,645 260,645.1 261.1,648 262.2,651 263,652.9 263.4,654 264.7,657 266,659.4 266.3,660 268.1,663 269,664.4 270,666 272,668.9 272.1,669 273.7,672 274.9,675 275,675.2 276.3,678 278,679.7 279.9,681 281,681.5 284,683.1 285.4,684 287,685 289.8,687 290,687.1 293,689.1 294.6,690 296,690.8 299,692.2 301.1,693 302,693.3 305,694.2 308,694.6 311,694.5 314,694.1 317,693.2 317.4,693 320,691.1 321.1,690 323,688.1 324.3,687 326,685.4 327.8,684 329,683 332,682 334.3,684 334.4,687 333.6,690 333.2,693 333.2,696 333.5,699 333.9,702 334.6,705 335,706.6 335.4,708 336.2,711 337.2,714 338,716.3 338.2,717 338.8,720 339.2,723 339.5,726 339.9,729 340.3,732 340.8,735 341,736.5 341.2,738 341.6,741 342,744 342.3,747 342.7,750 343.2,753 343.9,756 344,756.3 344.8,759 345.7,762 346.7,765 347,765.8 347.7,768 348.8,771 349.9,774 350,774.2 351.1,777 352.3,780 353,781.7 353.6,783 354.9,786 356,788.7 356.1,789 357.3,792 358.3,795 359,797.6 359.1,798 360,801 360.8,804 361.7,807 362,808.1 362.6,810 363.4,813 364.2,816 365,818.7 365.1,819 366.2,822 367.5,825 368,825.9 369.6,828 371,829.5 372.7,831 374,832.5 375.2,834 376.8,837 377,837.6 377.9,840 378.8,843 379.5,846 380,847.5 380.9,849 383,851.8 383.2,852 386,854.8 386.3,855 389,857.4 390.2,858 392,859.3 395,859.6 398,858.6 399,858 401,856.6 403.1,855 404,854.2 406.4,852 407,851.4 409.2,849 410,847.8 411.4,846 412.5,843 413,841.7 413.7,840 414.3,837 414,834 413,831 413,831 411.5,828 410,825.1 410,825 408.9,822 407.7,819 407,817.7 406.2,816 404.6,813 404,811.8 403.1,810 401.4,807 401,806.3 399.8,804 398.4,801 398,800.1 397.2,798 396.4,795 395.8,792 395.6,789 395.6,786 395.9,783 396.5,780 397.3,777 398,775.2 398.5,774 399.9,771 401,769.2 401.7,768 403.8,765 404,764.7 406.2,762 407,761 408.8,759 410,757.8 411.8,756 413,754.8 414.7,753 416,751.7 418.7,750 419,749.8 422,748.3 425,747.3 426.3,747 428,746.7 431,746.6 434,746.9 434.5,747 437,747.6 440,748.7 443,750 443.1,750 446,751.5 449,752.9 449.2,753 452,754.4 455,755.6 456.5,756 458,756.5 461,757.1 464,757.4 467,757.4 470,757.1 473,756.4 474.1,756 476,755.4 479,753.9 480.5,753 482,752.2 485,750.3 485.5,750 488,748.4 490.1,747 491,746.5 494,744.7 495.3,744 497,743.1 500,741.4 500.7,741 503,739.6 505.4,738 506,737.5 508.5,735 509,734.5 510.8,732 512,729.7 512.4,729 513.6,726 514.6,723 515,721.9 515.6,720 516.6,717 517.6,714 518,712.8 518.7,711 520.1,708 521,706.2 521.8,705 523.8,702 524,701.8 526.7,699 527,698.7 530,696.8 532.3,696 533,695.8 536,695.6 538.4,696 539,696.1 542,697.4 544.4,699 545,699.5 547.3,702 548,702.9 549.4,705 551,708 551,708.1 552.1,711 553.1,714 553.8,717 554,717.7 554.6,720 555.4,723 556.4,726 557,727.9 557.5,729 559.1,732 560,733.5 561.4,735 563,736.6 566,737.9 567.1,738 569,738.2 570.3,738 572,737.8 575,737 578,736 580.6,735 581,734.9 584,733.6 587,732.4 588,732 590,731.1 593,729.7 594.5,729 596,728.2 599,726.6 600,726 602,724.6 604.1,723 605,722.1 606.9,720 608,718.2 608.7,717 609.7,714 610.1,711 609.6,708 609.3,705 609.2,702 609.2,699 609.3,696 609.6,693 610.1,690 610.9,687 611,686.8 612,684 613.4,681 614,680 615.4,678 617,676.2 618.3,675 620,673.9 623,672.8 626,672.6 629,673.4 632,674.8 632.3,675 635,676.5 637.3,678 638,678.4 641,680.3 641.9,681 644,682.4 646.1,684 647,684.7 649.8,687 650,687.2 652.9,690 653,690.1 655.6,693 656,693.5 658.2,696 659,696.9 660.9,699 662,700.1 663.9,702 665,703.2 666.5,705 668,707 668.7,708 670.3,711 671,712.3 671.8,714 673.1,717 674,719.4 674.3,720 675.3,723 676.2,726 677,729 677,729.1 677.6,732 678.3,735 678.8,738 679.4,741 679.9,744 680,744.4 680.6,747 681.3,750 682.2,753 683,755 683.5,756 685.4,759 686,759.7 689,761.6 690.9,762 692,762.2 695,762.2 696.1,762 698,761.7 701,760.9 704,760.2 707,759.7 710,759.5 713,759.6 716,760.1 719,760.8 722,761.9 722.3,762 725,763.5 726.6,765 728,766.7 728.8,768 730.2,771 731,773.2 731.3,774 732.1,777 732.7,780 733.4,783 734,785.7 734.1,786 734.9,789 735.6,792 736.3,795 737,797.7 737.1,798 737.9,801 738.5,804 739.2,807 739.9,810 740,810.3 740.7,813 741.4,816 742.1,819 742.8,822 743,822.7 743.6,825 744.3,828 745.1,831 745.8,834 746,835.1 746.5,837 747,840 747.5,843 748,846 748.6,849 749,850.4 749.6,852 751.8,855 752,855.2 755,855.8 757.6,855 758,854.8 761,852 761,852 762.7,849 764,846.1 764,846 765.1,843 766.3,840 767,838.5 767.9,837 770,834.4 770.6,834 773,832.4 776,832 779,832.7 781.7,834 782,834.1 785,834.4 786.2,834 788,833.1 791,831.6 792.3,831 794,829.9 797,828.3 797.9,828 800,826.8 803,825.5 804.4,825 806,824 809,822 809,822 809.9,819 810.3,816 810.1,813 810.2,810 810.3,807 810.9,804 812,801.2 812.1,801 814.2,798 815,797.2 818,795.1 818.1,795 821,793.6 824,792.3 824.9,792 827,791.3 830,790.1 832.6,789 833,788.9 836,787.8 839,786.8 841.2,786 842,785.7 845,784.8 845,786 845,789 845,792 845,795 845,798 845,801 845,804 845,807 845,810 845,813 845,816 845,819 845,822 845,825 845,828 845,831 845,834 845,837 845,840 845,843 845,846 845,849 845,852 845,855 845,858 845,861 845,864 845,867 845,870 845,873 845,876 845,879 845,882 845,885 845,888 845,891 845,894 845,897 845,899.5 842,900 841.2,900 839,900.1 836,900 836,900 833,899.5 830,898.7 827,897.4 826.3,897 824,895.5 822.2,894 821,893.1 818.8,891 818,890.2 816,888 815,886.9 813.2,885 812,883.7 810.4,882 809,880.5 807.6,879 806,877.3 804.9,876 803,873.6 802.5,873 800.6,870 800,869 798.8,867 797.2,864 797,863.7 795.2,861 794,859.5 792.6,858 791,856.8 788,855.5 785,855.3 782,856.3 779.5,858 779,858.6 777.5,861 776.4,864 776,867 776.6,870 778.3,873 779,874 781.8,876 782,876.3 783.4,879 783.2,882 782.6,885 782,887.9 782,888 780.9,891 779.8,894 779,896.1 778.7,897 777.7,900 776.9,903 776,906 776,906 775.3,909 775,912 774.9,915 775.2,918 775.8,921 776,921.8 776.5,924 777.4,927 778.3,930 779,932.3 779.2,933 780.1,936 780.8,939 781.4,942 781.9,945 782,945.3 782.5,948 783.4,951 785,954 785,954 788,955.8 790.7,957 791,957.1 794,958.1 797,959.2 799.1,960 800,960.3 803,961.8 804.8,963 806,963.8 808.6,966 809,966.4 811.3,969 812,969.9 813.5,972 815,974.3 815.4,975 817.1,978 818,979.7 818.7,981 820.4,984 821,985.2 822.1,987 824,989.7 824.2,990 826.7,993 824,993 821,993 818,993 815,993 812,993 809,993 806,993 803,993 800,993 797,993 794,993 791,993 788,993 785,993 782,993 779,993 776,993 773,993 771.6,993 772.6,990 773,987.4 773.1,987 773,984 773,984 772.4,981 771.4,978 770.3,975 770,974.4 769,972 767.7,969 767,967.6 766.3,966 764.9,963 764,961.3 763.3,960 761.5,957 761,956.2 759.5,954 758,951.9 757.3,951 755.3,948 755,947.6 753.4,945 752,942.9 751.3,942 749,939.3 748.8,939 746.1,936 746,935.9 743.7,933 743,932 741.6,930 740.2,927 740,926.5 739.2,924 738.8,921 738.7,918 738.8,915 739.1,912 739.6,909 740,907.2 740.2,906 740.9,903 741.5,900 742.1,897 742.8,894 743,893.1 743.4,891 744,888 744.4,885 744.6,882 744.9,879 745.2,876 745.7,873 746,870.8 746.1,870 746.1,867 746,866.7 745.4,864 744.2,861 743,858.5 742.7,858 741.1,855 740.1,852 740,851.5 739.3,849 738.8,846 738.4,843 737.7,840 737.1,837 737,836.6 736.3,834 735.6,831 734.8,828 734.1,825 734,824.4 733.4,822 732.6,819 731.9,816 731.2,813 731,812 730.4,810 729.5,807 728.6,804 728,801.7 727.5,801 726.5,798 725.8,795 725,792.3 724.4,792 724,789 724.1,786 723.9,783 723.5,780 722.9,777 722,774.3 721.9,774 719,771 716,771 713,772.4 710.8,774 710,774.9 708.3,777 707,779.9 706.9,780 706.5,783 707,784.5 707.6,786 710,788.5 710.8,789 713,790.1 716,790.9 719,791.4 720.6,792 722,793.2 723.2,795 723.1,798 722,800.5 721.8,801 720.1,804 719,805.9 718.4,807 717.1,810 716.3,813 716,815 715.9,816 715.8,819 716,821.4 716.1,822 716.4,825 717.1,828 718,831 719,833.9 719.1,834 720,837 721,840 722,843 722,843.1 723,846 724,849 724.9,852 725,853 725.3,855 725.3,858 725,859.6 724.8,861 723.5,864 722,866.2 721.3,867 719,869.2 718.2,870 716.1,873 716,873.3 715.4,876 716,878.7 716.1,879 719,882 719,882 722,883 725,883.8 726.8,885 728,886.1 729.1,888 729.4,891 728.4,894 728,894.8 726.1,897 725,898.2 722.5,900 722,900.4 719,901.9 716,902.8 713,902.8 710,901.5 708.4,900 707,898.3 706.2,897 704.6,894 704,892.8 703.2,891 702.1,888 701,885 701,885 699.9,882 698.7,879 698,877.6 697.2,876 695,873 695,873 692,870.6 690.9,870 689,869.1 686,868.4 683,868.2 680,867.9 677.3,867 677,866.9 674,865.1 672.8,864 671,861.9 670.4,861 668.8,858 668,856.1 667.6,855 666.7,852 666.3,849 666.3,846 666.6,843 667.2,840 667.8,837 668,835.6 668.2,834 668.2,831 668,829.4 667.8,828 667.1,825 666.3,822 665.6,819 665.2,816 665.1,813 665.2,810 665.7,807 666.6,804 667.9,801 668,800.7 669.6,798 671,795.8 671.7,795 673.6,792 673.8,789 672.6,786 671,783.6 670.7,783 668.9,780 668,778.3 667.3,777 665.7,774 665,772.6 664.2,771 662.8,768 662,765.9 661.5,765 660,762 659,759.8 658.4,759 656,757 653,756.3 650,756.8 647,758 645.1,759 644,759.6 641,761.5 640.1,762 638,763.3 635.1,765 635,765.1 632,767 630.4,768 629,768.9 626,770.9 625.8,771 623,772.8 621.1,774 620,774.7 617,776.5 616.1,777 614,778.5 611.5,780 611,780.3 608,782.6 607.4,783 605,785.1 603.9,786 602,787.6 600.6,789 599,790.5 597.5,792 596,793.5 594.5,795 593,796.5 591.4,798 590,799.4 588.3,801 587,802.1 584.6,804 584,804.5 581,806.4 579.6,807 578,807.8 575,809.2 572.9,810 572,810.3 569,811.5 566,812.6 565,813 563,813.7 560,814.9 557.5,816 557,816.2 554,817.7 551.4,819 551,819.2 548,820.9 545.9,822 545,822.5 542,824.8 541.7,825 539,826.9 537.6,828 536,829.3 534.1,831 533,832 531.1,834 530,835.2 528.5,837 527,839 526.3,840 524.4,843 524,843.6 522.6,846 521,848.8 520.9,849 519.4,852 518,854.8 517.9,855 516.6,858 515.3,861 515,861.9 514.2,864 512.9,867 512,869.1 511.6,870 510.2,873 509,875.4 508.6,876 506.6,879 506,879.7 503.7,882 503,882.6 500,884.3 497.7,885 497,885.2 494,885.3 491.1,885 491,885 488,884.3 485,883.4 482,882.7 479,882.1 476.1,882 476,882 473,881.9 470,881.7 467,881.7 464,881.2 461,880.2 458.9,879 458,878.5 455,876.9 452,876.2 449,876.4 446,876.9 443,878.8 442.7,879 440,881.4 439.4,882 437,884.6 436.6,885 434.3,888 434,888.5 432.8,891 431.9,894 431.5,897 431.6,900 432,903 432.6,906 433.2,909 433.6,912 433.6,915 433,918 432.4,921 431.7,924 431,926.9 431,927 430.2,930 429.2,933 428,936 428,936.1 426.5,939 425,941.6 424.5,942 422,943.8 419,944.9 416,944.2 413.4,942 413,941.7 411.1,939 410,937.6 409.2,936 407.1,933 407,932.9 404.6,930 404,929.3 401.9,927 401,925.8 399.6,924 398,921.5 397.7,921 396,918 395,915.6 394.7,915 393.6,912 392.5,909 392,907.5 391.4,906 390.4,903 389.5,900 389,898.6 388.5,897 387.4,894 386.4,891 386,889.7 385.4,888 384.4,885 383.3,882 383,881 382.2,879 381.1,876 380,873.3 379.9,873 378.3,870 377.1,867 377,866.7 375.9,864 374.7,861 374,859.2 373.5,858 372.4,855 371.3,852 371,851 370.3,849 369.2,846 368.2,843 368,842.4 366.9,840 365.3,837 365,836.6 363.4,834 362,831.3 361.9,831 360.5,828 359.3,825 359,824 358.3,822 357.4,819 356.6,816 356,813.9 355.7,813 354.7,810 353.9,807 353.1,804 353,803.7 352.1,801 351.1,798 350.3,795 350,793.9 349.4,792 348.4,789 347.4,786 347,784.5 346.5,783 345.6,780 344.7,777 344,774.6 343.8,774 342.8,771 342,768 341,765.1 341,765 339.4,762 338.1,759 338,758.7 337.1,756 336.5,753 336.2,750 336.1,747 336.1,744 336,741 335.7,738 335.2,735 335,733.6 334.7,732 334.1,729 333.7,726 333.2,723 332.7,720 332,717 332,717 331.1,714 330.2,711 329.5,708 329,705.7 328.8,705 327.3,702 326,700.6 323,701.5 322.2,702 320,703.5 317.5,705 317,705.4 314,707.2 312.6,708 311,709.2 308.3,711 308,711.3 305,713.5 304.1,714 302,715.6 299.9,717 299,717.7 296,719.6 295.2,720 293,721.7 290.6,723 290,723.4 287,725.6 286.4,726 284,727.7 281.9,729 281,729.6 278,730.9 275,731.9 274.8,732 272,733.1 269,734.4 267.2,735 266,735.3 263,736.1 260,736.9 257.8,738 257,738.4 254,739.1 251,739.8 248,740.3 245.2,741 245,741.1 242,742 239,743.1 237.2,744 236,744.7 233,746.8 232.8,747 230.1,750 230,750.1 228.3,753 227,756 227,756.1 226.2,759 225.7,762 225.6,765 225.7,768 226.1,771 226.8,774 227,774.8 227.7,777 228.9,780 230,782.4 230.3,783 232.2,786 233,787.2 234.4,789 236,790.9 237.1,792 239,793.7 241,795 242,795.6 245,796.8 248,797.5 251,797.8 254,797.9 257,797.7 258.1,798 260,798.5 263,798.4 266,798.1 267.1,798 269,797.8 272,797.4 275,797 278,797.7 278.5,798 280.8,801 281,801.5 281.9,804 282.8,807 282.6,810 282.3,813 281.7,816 281,818.4 280.8,819 280.1,822 279.2,825 278.2,828 278,828.6 277.2,831 276.1,834 275,836.5 274.8,837 273.5,840 272.1,843 272,843.2 270.6,846 269,848.7 268.9,849 267.2,852 266,853.8 265.2,855 263.2,858 263,858.3 261.1,861 260,862.5 258.9,864 257,866.4 256.5,867 254,869.5 253.4,870 251,872 249.3,873 248,873.7 245,874.6 242,874.4 239,873.3 238.5,873 236,871.4 234.2,870 233,869 231,867 230,866 228.2,864 227,862.4 226,861 224,858 224,858 222.2,855 221,852.8 220.6,852 219,849 218,847 217.5,846 216,843 215,841.1 214.3,840 212.4,837 212,836.4 209.7,834 209,833.4 206,831.3 205.4,831 203,829.8 200,828.6 197.7,828 197,827.8 194,827.4 191,827.5 189.2,828 188,828.3 185,830 184,831 182,833 181.4,834 179.6,837 179,838.3 178.4,840 177.3,843 176.4,846 176,847.1 175.5,849 174.7,852 173.8,855 173,857.8 172.9,858 172.2,861 171.4,864 170.7,867 170,869.6 169.9,870 169.2,873 168.5,876 167.7,879 167,881.5 166.9,882 165.9,885 164.9,888 164,890.3 163.7,891 162.4,894 161,896.7 160.9,897 159.2,900 158,902 157.3,903 155.3,906 155,906.4 153,909 152,910.2 150.4,912 149,913.5 147.4,915 146,916.2 143.6,918 143,918.4 140,920.4 139.1,921 137,922.3 134.2,924 134,924.1 131,926 129.4,927 128,927.9 125,929.9 124.8,930 122,931.9 120.5,933 119,934.1 116.4,936 116,936.3 113,938.5 112.3,939 110,940.6 108,942 107,942.7 104,944.7 103.5,945 101,946.5 98.3,948 98,948.2 95,949.7 92.2,951 92,951.1 89,952.3 86,953.3 83.7,954 83,954.2 80,954.9 77,955.3 74,955.6 71,955.6 68,955.6 65,955.5 62,955.2 59,954.8 56,954.2 55.3,954 53,952.5 53,951 53,948 53,945 53,942 53,939 53,936 53,935.5 53.7,933 54.4,930 54.9,927 55.1,924 54.9,921 54.1,918 53,915.9 53,915 53,912 53,909 53,906 53,903 53,900 53,897 53,894 53,891 53,888 53,885 53,882 53,879 53,876 53,873 53,870 53,867 53,864 53,861 53,858 53,855 53,852 53,849 53,846 53,843 53,840 53,837 53,834 53,831 53,828 53,825 53,822 53,819 53,816 53,813 53,810 53,807 53,804 53,801 53,798 53,795 53,792 53,789 53,786 53,783 53,780 53,777 53,774 53,771 53,768 53,765 53,762 53,759 53,757.5 53.7,756 55,753 56,750.8 56.3,750 57.7,747 59,745.1 59.9,744 62,742.1 64,741 65,740.5 68,739.3 70.5,738 71,737.7 74,735.2 74.2,735 76.6,732 77,731.4 78.5,729 79.9,726 80,725.7 81.4,723 83,720.4 83.5,720 86,718.9 89,719.2 92,719.3 95,717.9 95.8,717 97.1,714 97.3,711 97.2,708 97.1,705 97.2,702 97.6,699 98,697.5 98.4,696 99.7,693 101,691.1 101.7,690 104,687.3 104.2,687 106.2,684 107,682.8 107.9,681 109.7,678 110,677.7 112.7,675 113,674.8 116,672.9 117.8,672 119,671.4 122,669.9 123.6,669 125,668.1 128,666 128,666 131,663 131,662.9 132.6,660 133.2,657 133.3,654 133,651 132.3,648 131,645.2 130.9,645 129.5,642 128,639.5 127.7,639 126,636 125,634.6 124.1,633 122,630.2 121.8,630 119.6,627 119,626.3 116.7,624 116,623.4 113,621.1 112.8,621 110,619.2 107,618.1 106.5,618 104,617.5 101,617.1 98,616.5 95,615.2 94.6,615 92,612.9 91.1,612 89,609.4 88.7,609 87,606 86,603.9 85.6,603 84,600 83,598.7 81.8,597 80,594.5 79.8,594 78.2,591 77,588.3 76.9,588 75.5,585 74.5,582 74,579.4 73.9,579 73.5,576 73.5,573 74,572.1 76,570ZM216.7,621 215,622 213,624 212,625.6 211,627 209.8,630 209,632.4 208.6,633 206,635.6 205.6,636 203,637.7 200,638.1 197,638.4 194,638.8 191.2,639 191,639 189.7,639 188,639 187.4,639 185,639.2 182,640.2 180.4,642 181.5,645 182,645.7 183.9,648 185,648.9 187,651 188,652 189.9,654 191,654.9 192.9,657 194,658.1 195.7,660 197,661.1 199.3,663 200,663.5 203,664.8 206,665.4 209,665.1 212,663.9 213,663 215,660.6 215.4,660 216.6,657 217.2,654 218,651.3 218.1,651 218.6,648 220,645 220.8,642 221,641.7 222.2,639 223.7,636 224,635.3 224.7,633 225.2,630 225.2,627 224.5,624 224,623.1 221.8,621 221,620.5 218,620.5ZM815.4,828 815,830.2 814.9,831 814.8,834 814.7,837 814.6,840 814.8,843 815,844 815.3,846 816.3,849 817.7,852 818,852.4 820.3,855 821,855.7 824,857.2 827,857.4 830,856.4 831.7,855 833,853.2 833.6,852 834.4,849 834.6,846 834.3,843 833.5,840 833,838.4 832.4,837 830.8,834 830,832.5 828.7,831 827,829 825.5,828 824,826.8 821,826 818,825.8ZM455,893.7 457.1,894 458,894.2 460.3,897 461,898.6 461.6,900 462.7,903 463.7,906 464,907.1 464.7,909 465.9,912 467,914.1 467.8,915 470,917.1 470.9,918 473,920.6 473.3,921 475.2,924 476,925.6 476.6,927 477.8,930 478.8,933 479,933.6 479.7,936 480.4,939 480.9,942 481.2,945 481.4,948 481.4,951 481.1,954 480.4,957 479.3,960 479,960.7 478,963 476.1,966 476,966.2 473.5,969 473,969.5 470,972 469.9,972 467,974.1 465.3,975 464,975.8 461,976.5 458,976 456.1,975 455,974.4 452.2,972 452,971.8 449.8,969 449,967.6 448.2,966 447.1,963 446.3,960 446,958.6 445.6,957 444.9,954 444.4,951 444.2,948 444.1,945 444.2,942 444.2,939 444.4,936 444.7,933 445.1,930 445.8,927 446,925.9 446.3,924 446.8,921 447,918 446.7,915 446,913.7 444.9,912 443,909.8 442.1,909 441.2,906 442.1,903 443,901.5 444,900 446,897.8 447.4,897 449,896.2 452,894.9 454.5,894ZM713,968.6 716,967.1 719,967 722,967.9 723.8,969 725,969.7 727.6,972 728,972.3 730.3,975 731,975.9 732.5,978 734,980.6 734.2,981 735.6,984 736.9,987 737,987.3 738,990 739.1,993 737,993 734,993 731,993 728,993 725,993 722,993 719,993 716,993 713,993 710,993 707,993 704.7,993 705,990 705.4,987 705.9,984 706.6,981 707,979 707.3,978 708.5,975 710,972 710,972 712.6,969Z"/>
<path fill="#ff6000" fill-rule="evenodd" d="M323,701.5 326,700.6 327.3,702 328.8,705 329,705.7 329.5,708 330.2,711 331.1,714 332,717 332,717 332.7,720 333.2,723 333.7,726 334.1,729 334.7,732 335,733.6 335.2,735 335.7,738 336,741 336.1,744 336.1,747 336.2,750 336.5,753 337.1,756 338,758.7 338.1,759 339.4,762 341,765 341,765.1 342,768 342.8,771 343.8,774 344,774.6 344.7,777 345.6,780 346.5,783 347,784.5 347.4,786 348.4,789 349.4,792 350,793.9 350.3,795 351.1,798 352.1,801 353,803.7 353.1,804 353.9,807 354.7,810 355.7,813 356,813.9 356.6,816 357.4,819 358.3,822 359,824 359.3,825 360.5,828 361.9,831 362,831.3 363.4,834 365,836.6 365.3,837 366.9,840 368,842.4 368.2,843 369.2,846 370.3,849 371,851 371.3,852 372.4,855 373.5,858 374,859.2 374.7,861 375.9,864 377,866.7 377.1,867 378.3,870 379.9,873 380,873.3 381.1,876 382.2,879 383,881 383.3,882 384.4,885 385.4,888 386,889.7 386.4,891 387.4,894 388.5,897 389,898.6 389.5,900 390.4,903 391.4,906 392,907.5 392.5,909 393.6,912 394.7,915 395,915.6 396,918 397.7,921 398,921.5 399.6,924 401,925.8 401.9,927 404,929.3 404.6,930 407,932.9 407.1,933 409.2,936 410,937.6 411.1,939 413,941.7 413.4,942 416,944.2 419,944.9 422,943.8 424.5,942 425,941.6 426.5,939 428,936.1 428,936 429.2,933 430.2,930 431,927 431,926.9 431.7,924 432.4,921 433,918 433.6,915 433.6,912 433.2,909 432.6,906 432,903 431.6,900 431.5,897 431.9,894 432.8,891 434,888.5 434.3,888 436.6,885 437,884.6 439.4,882 440,881.4 442.7,879 443,878.8 446,876.9 449,876.4 452,876.2 455,876.9 458,878.5 458.9,879 461,880.2 464,881.2 467,881.7 470,881.7 473,881.9 476,882 476.1,882 479,882.1 482,882.7 485,883.4 488,884.3 491,885 491.1,885 494,885.3 497,885.2 497.7,885 500,884.3 503,882.6 503.7,882 506,879.7 506.6,879 508.6,876 509,875.4 510.2,873 511.6,870 512,869.1 512.9,867 514.2,864 515,861.9 515.3,861 516.6,858 517.9,855 518,854.8 519.4,852 520.9,849 521,848.8 522.6,846 524,843.6 524.4,843 526.3,840 527,839 528.5,837 530,835.2 531.1,834 533,832 534.1,831 536,829.3 537.6,828 539,826.9 541.7,825 542,824.8 545,822.5 545.9,822 548,820.9 551,819.2 551.4,819 554,817.7 557,816.2 557.5,816 560,814.9 563,813.7 565,813 566,812.6 569,811.5 572,810.3 572.9,810 575,809.2 578,807.8 579.6,807 581,806.4 584,804.5 584.6,804 587,802.1 588.3,801 590,799.4 591.4,798 593,796.5 594.5,795 596,793.5 597.5,792 599,790.5 600.6,789 602,787.6 603.9,786 605,785.1 607.4,783 608,782.6 611,780.3 611.5,780 614,778.5 616.1,777 617,776.5 620,774.7 621.1,774 623,772.8 625.8,771 626,770.9 629,768.9 630.4,768 632,767 635,765.1 635.1,765 638,763.3 640.1,762 641,761.5 644,759.6 645.1,759 647,758 650,756.8 653,756.3 656,757 658.4,759 659,759.8 660,762 661.5,765 662,765.9 662.8,768 664.2,771 665,772.6 665.7,774 667.3,777 668,778.3 668.9,780 670.7,783 671,783.6 672.6,786 673.8,789 673.6,792 671.7,795 671,795.8 669.6,798 668,800.7 667.9,801 666.6,804 665.7,807 665.2,810 665.1,813 665.2,816 665.6,819 666.3,822 667.1,825 667.8,828 668,829.4 668.2,831 668.2,834 668,835.6 667.8,837 667.2,840 666.6,843 666.3,846 666.3,849 666.7,852 667.6,855 668,856.1 668.8,858 670.4,861 671,861.9 672.8,864 674,865.1 677,866.9 677.3,867 680,867.9 683,868.2 686,868.4 689,869.1 690.9,870 692,870.6 695,873 695,873 697.2,876 698,877.6 698.7,879 699.9,882 701,885 701,885 702.1,888 703.2,891 704,892.8 704.6,894 706.2,897 707,898.3 708.4,900 710,901.5 713,902.8 716,902.8 719,901.9 722,900.4 722.5,900 725,898.2 726.1,897 728,894.8 728.4,894 729.4,891 729.1,888 728,886.1 726.8,885 725,883.8 722,883 719,882 719,882 716.1,879 716,878.7 715.4,876 716,873.3 716.1,873 718.2,870 719,869.2 721.3,867 722,866.2 723.5,864 724.8,861 725,859.6 725.3,858 725.3,855 725,853 724.9,852 724,849 723,846 722,843.1 722,843 721,840 720,837 719.1,834 719,833.9 718,831 717.1,828 716.4,825 716.1,822 716,821.4 715.8,819 715.9,816 716,815 716.3,813 717.1,810 718.4,807 719,805.9 720.1,804 721.8,801 722,800.5 723.1,798 723.2,795 722,793.2 720.6,792 719,791.4 716,790.9 713,790.1 710.8,789 710,788.5 707.6,786 707,784.5 706.5,783 706.9,780 707,779.9 708.3,777 710,774.9 710.8,774 713,772.4 716,771 719,771 721.9,774 722,774.3 722.9,777 723.5,780 723.9,783 724.1,786 724,789 724.4,792 725,792.3 725.8,795 726.5,798 727.5,801 728,801.7 728.6,804 729.5,807 730.4,810 731,812 731.2,813 731.9,816 732.6,819 733.4,822 734,824.4 734.1,825 734.8,828 735.6,831 736.3,834 737,836.6 737.1,837 737.7,840 738.4,843 738.8,846 739.3,849 740,851.5 740.1,852 741.1,855 742.7,858 743,858.5 744.2,861 745.4,864 746,866.7 746.1,867 746.1,870 746,870.8 745.7,873 745.2,876 744.9,879 744.6,882 744.4,885 744,888 743.4,891 743,893.1 742.8,894 742.1,897 741.5,900 740.9,903 740.2,906 740,907.2 739.6,909 739.1,912 738.8,915 738.7,918 738.8,921 739.2,924 740,926.5 740.2,927 741.6,930 743,932 743.7,933 746,935.9 746.1,936 748.8,939 749,939.3 751.3,942 752,942.9 753.4,945 755,947.6 755.3,948 757.3,951 758,951.9 759.5,954 761,956.2 761.5,957 763.3,960 764,961.3 764.9,963 766.3,966 767,967.6 767.7,969 769,972 770,974.4 770.3,975 771.4,978 772.4,981 773,984 773,984 773.1,987 773,987.4 772.6,990 771.6,993 770,993 767,993 764,993 761,993 758,993 755,993 752,993 749,993 746,993 743,993 740,993 739.1,993 738,990 737,987.3 736.9,987 735.6,984 734.2,981 734,980.6 732.5,978 731,975.9 730.3,975 728,972.3 727.6,972 725,969.7 723.8,969 722,967.9 719,967 716,967.1 713,968.6 712.6,969 710,972 710,972 708.5,975 707.3,978 707,979 706.6,981 705.9,984 705.4,987 705,990 704.7,993 704,993 701,993 698,993 695,993 692,993 689,993 686,993 683,993 680,993 677,993 674,993 671,993 668,993 665,993 662,993 659,993 656,993 653,993 650,993 647,993 644,993 641,993 638,993 635,993 632,993 629,993 626,993 623,993 620,993 617,993 614,993 611,993 608,993 605,993 602,993 599,993 596,993 593,993 590,993 587,993 584,993 581,993 578,993 575,993 572,993 569,993 566,993 563,993 560,993 557,993 554,993 551,993 548,993 545,993 542,993 539,993 536,993 533,993 530,993 527,993 524,993 521,993 518,993 515,993 512,993 509,993 506,993 503,993 500,993 497,993 494,993 491,993 488,993 485,993 482,993 479,993 476,993 473,993 470,993 467,993 464,993 461,993 458,993 455,993 452,993 449,993 446,993 443,993 440,993 437,993 434,993 431,993 428,993 425,993 422,993 419,993 416,993 413,993 410,993 407,993 404,993 401,993 398,993 395,993 392,993 389,993 386,993 383,993 380,993 377,993 374,993 371,993 368,993 365,993 362,993 359,993 356,993 353,993 350,993 347,993 344,993 341,993 338,993 335,993 332,993 329,993 326,993 323,993 320,993 317,993 314,993 311,993 308,993 305,993 302,993 299,993 296,993 293,993 290,993 287,993 284,993 281,993 278,993 275,993 272,993 269,993 266,993 263,993 260,993 257,993 254,993 251,993 248,993 245,993 242,993 239,993 236,993 233,993 230,993 227,993 224,993 221,993 218,993 215,993 212,993 209,993 206,993 203,993 200,993 197,993 194,993 191,993 188,993 185,993 182,993 179,993 176,993 173,993 170,993 167,993 164,993 161,993 158,993 155,993 152,993 149,993 146,993 143,993 140,993 137,993 134,993 131,993 128,993 125,993 122,993 119,993 116,993 113,993 110,993 107,993 104,993 101,993 98,993 95,993 92,993 89,993 86,993 83,993 80,993 77,993 74,993 71,993 68,993 65,993 62,993 59,993 56,993 53,993 53,990 53,987 53,984 53,981 53,978 53,975 53,972 53,969 53,966 53,963 53,960 53,957 53,954 53,952.5 55.3,954 56,954.2 59,954.8 62,955.2 65,955.5 68,955.6 71,955.6 74,955.6 77,955.3 80,954.9 83,954.2 83.7,954 86,953.3 89,952.3 92,951.1 92.2,951 95,949.7 98,948.2 98.3,948 101,946.5 103.5,945 104,944.7 107,942.7 108,942 110,940.6 112.3,939 113,938.5 116,936.3 116.4,936 119,934.1 120.5,933 122,931.9 124.8,930 125,929.9 128,927.9 129.4,927 131,926 134,924.1 134.2,924 137,922.3 139.1,921 140,920.4 143,918.4 143.6,918 146,916.2 147.4,915 149,913.5 150.4,912 152,910.2 153,909 155,906.4 155.3,906 157.3,903 158,902 159.2,900 160.9,897 161,896.7 162.4,894 163.7,891 164,890.3 164.9,888 165.9,885 166.9,882 167,881.5 167.7,879 168.5,876 169.2,873 169.9,870 170,869.6 170.7,867 171.4,864 172.2,861 172.9,858 173,857.8 173.8,855 174.7,852 175.5,849 176,847.1 176.4,846 177.3,843 178.4,840 179,838.3 179.6,837 181.4,834 182,833 184,831 185,830 188,828.3 189.2,828 191,827.5 194,827.4 197,827.8 197.7,828 200,828.6 203,829.8 205.4,831 206,831.3 209,833.4 209.7,834 212,836.4 212.4,837 214.3,840 215,841.1 216,843 217.5,846 218,847 219,849 220.6,852 221,852.8 222.2,855 224,858 224,858 226,861 227,862.4 228.2,864 230,866 231,867 233,869 234.2,870 236,871.4 238.5,873 239,873.3 242,874.4 245,874.6 248,873.7 249.3,873 251,872 253.4,870 254,869.5 256.5,867 257,866.4 258.9,864 260,862.5 261.1,861 263,858.3 263.2,858 265.2,855 266,853.8 267.2,852 268.9,849 269,848.7 270.6,846 272,843.2 272.1,843 273.5,840 274.8,837 275,836.5 276.1,834 277.2,831 278,828.6 278.2,828 279.2,825 280.1,822 280.8,819 281,818.4 281.7,816 282.3,813 282.6,810 282.8,807 281.9,804 281,801.5 280.8,801 278.5,798 278,797.7 275,797 272,797.4 269,797.8 267.1,798 266,798.1 263,798.4 260,798.5 258.1,798 257,797.7 254,797.9 251,797.8 248,797.5 245,796.8 242,795.6 241,795 239,793.7 237.1,792 236,790.9 234.4,789 233,787.2 232.2,786 230.3,783 230,782.4 228.9,780 227.7,777 227,774.8 226.8,774 226.1,771 225.7,768 225.6,765 225.7,762 226.2,759 227,756.1 227,756 228.3,753 230,750.1 230.1,750 232.8,747 233,746.8 236,744.7 237.2,744 239,743.1 242,742 245,741.1 245.2,741 248,740.3 251,739.8 254,739.1 257,738.4 257.8,738 260,736.9 263,736.1 266,735.3 267.2,735 269,734.4 272,733.1 274.8,732 275,731.9 278,730.9 281,729.6 281.9,729 284,727.7 286.4,726 287,725.6 290,723.4 290.6,723 293,721.7 295.2,720 296,719.6 299,717.7 299.9,717 302,715.6 304.1,714 305,713.5 308,711.3 308.3,711 311,709.2 312.6,708 314,707.2 317,705.4 317.5,705 320,703.5 322.2,702ZM454.5,894 452,894.9 449,896.2 447.4,897 446,897.8 444,900 443,901.5 442.1,903 441.2,906 442.1,909 443,909.8 444.9,912 446,913.7 446.7,915 447,918 446.8,921 446.3,924 446,925.9 445.8,927 445.1,930 444.7,933 444.4,936 444.2,939 444.2,942 444.1,945 444.2,948 444.4,951 444.9,954 445.6,957 446,958.6 446.3,960 447.1,963 448.2,966 449,967.6 449.8,969 452,971.8 452.2,972 455,974.4 456.1,975 458,976 461,976.5 464,975.8 465.3,975 467,974.1 469.9,972 470,972 473,969.5 473.5,969 476,966.2 476.1,966 478,963 479,960.7 479.3,960 480.4,957 481.1,954 481.4,951 481.4,948 481.2,945 480.9,942 480.4,939 479.7,936 479,933.6 478.8,933 477.8,930 476.6,927 476,925.6 475.2,924 473.3,921 473,920.6 470.9,918 470,917.1 467.8,915 467,914.1 465.9,912 464.7,909 464,907.1 463.7,906 462.7,903 461.6,900 461,898.6 460.3,897 458,894.2 457.1,894 455,893.7ZM782,856.3 785,855.3 788,855.5 791,856.8 792.6,858 794,859.5 795.2,861 797,863.7 797.2,864 798.8,867 800,869 800.6,870 802.5,873 803,873.6 804.9,876 806,877.3 807.6,879 809,880.5 810.4,882 812,883.7 813.2,885 815,886.9 816,888 818,890.2 818.8,891 821,893.1 822.2,894 824,895.5 826.3,897 827,897.4 830,898.7 833,899.5 836,900 836,900 839,900.1 841.2,900 842,900 845,899.5 845,900 845,903 845,906 845,909 845,912 845,915 845,918 845,921 845,924 845,927 845,930 845,933 845,936 845,939 845,942 845,945 845,948 845,951 845,954 845,957 845,960 845,963 845,966 845,969 845,972 845,975 845,978 845,981 845,984 845,987 845,990 845,993 842,993 839,993 836,993 833,993 830,993 827,993 826.7,993 824.2,990 824,989.7 822.1,987 821,985.2 820.4,984 818.7,981 818,979.7 817.1,978 815.4,975 815,974.3 813.5,972 812,969.9 811.3,969 809,966.4 808.6,966 806,963.8 804.8,963 803,961.8 800,960.3 799.1,960 797,959.2 794,958.1 791,957.1 790.7,957 788,955.8 785,954 785,954 783.4,951 782.5,948 782,945.3 781.9,945 781.4,942 780.8,939 780.1,936 779.2,933 779,932.3 778.3,930 777.4,927 776.5,924 776,921.8 775.8,921 775.2,918 774.9,915 775,912 775.3,909 776,906 776,906 776.9,903 777.7,900 778.7,897 779,896.1 779.8,894 780.9,891 782,888 782,887.9 782.6,885 783.2,882 783.4,879 782,876.3 781.8,876 779,874 778.3,873 776.6,870 776,867 776.4,864 777.5,861 779,858.6 779.5,858ZM54.1,918 54.9,921 55.1,924 54.9,927 54.4,930 53.7,933 53,935.5 53,933 53,930 53,927 53,924 53,921 53,918 53,915.9Z"/>
</g>
<path d="M132.5,207 V993 M211.5,207 V993 M291.5,207 V993 M370.5,207 V993 M450.5,207 V993 M529.5,207 V993 M608.5,207 V993 M688.5,207 V993 M767.5,207 V993 M53,894.5 H847 M53,796.5 H847 M53,698.5 H847 M53,600.5 H847 M53,501.5 H847 M53,403.5 H847 M53,305.5 H847" stroke="#a4a4a8" stroke-width="1.25" stroke-dasharray="2.4,7.43" stroke-dashoffset="1.83" fill="none"/>
<g fill="none" stroke="#2442ee" stroke-width="1.7" stroke-linejoin="round" stroke-linecap="round">
<path fill="#fff" stroke="none" d="M763.3,363.3 768.3,360.0 775.0,363.3 779.0,369.0 775.0,371.7 768.3,370.7 765.0,367.7Z"/>
<path fill="#fff" stroke="none" d="M390.5,256.8 396.3,254.5 405.7,253.3 415.0,252.2 422.0,251.5 418.5,255.2 413.8,259.2 406.8,261.5 398.7,262.2 392.8,260.3Z"/>
<path d="M103.3,207.0 103.3,215.0 105.3,223.3 108.3,230.0 106.7,234.3 105.3,237.7 108.3,239.7 111.0,237.0 109.0,234.3 114.0,231.0 120.0,228.3 127.3,236.7 136.7,235.0 148.3,232.3 149.3,228.3 146.0,225.7 148.3,220.0 153.3,213.3 158.3,209.0 162.7,207.3 M258.3,281.7 261.7,280.3 266.7,283.7 264.0,285.7 260.0,284.3Z M289.3,300.0 293.3,297.7 297.3,297.7 295.0,300.3 290.0,301.7Z M53.3,346.7 63.3,342.7 73.3,340.0 81.7,339.3 89.3,340.7 91.7,345.0 101.7,349.3 111.7,352.7 121.7,353.3 127.3,360.0 135.0,366.7 140.0,370.7 151.7,371.0 151.7,380.0 153.3,389.3 157.3,392.7 165.0,395.0 170.0,400.0 175.0,396.7 181.7,394.0 182.7,387.3 188.3,385.0 196.7,381.7 203.3,377.3 208.3,366.7 213.3,361.7 220.0,359.3 224.0,353.3 231.7,357.3 240.0,358.3 248.3,356.7 255.0,360.0 260.0,365.0 266.7,361.7 273.3,359.3 280.0,355.0 288.3,353.3 295.0,352.7 296.0,346.7 300.0,339.3 305.0,336.0 310.7,337.3 314.0,343.3 316.7,350.0 315.3,361.7 318.3,368.3 323.3,366.7 333.3,363.3 340.0,361.7 M153.3,389.3 150.0,396.7 147.3,403.3 148.3,410.0 143.3,415.0 140.7,423.3 141.7,431.7 146.0,436.7 145.0,446.7 146.7,456.7 147.3,466.7 146.7,473.3 160.0,474.0 161.7,481.7 156.7,491.7 150.0,500.0 146.0,503.3 M146.0,503.3 160.0,508.3 173.3,513.3 186.7,510.7 196.7,512.7 210.0,510.0 223.3,506.7 232.7,502.7 233.3,491.7 233.3,483.3 240.0,478.3 250.0,475.0 256.7,470.0 263.3,466.0 270.0,466.7 276.7,460.0 281.7,454.0 286.7,443.3 295.0,436.7 296.0,431.7 290.0,426.7 290.0,421.7 296.7,423.3 305.0,420.0 308.3,413.3 306.7,406.7 310.0,400.0 315.0,390.0 316.7,383.3 318.3,371.7 323.3,366.7 M300.0,336.7 305.6,336.7 311.1,341.1 315.6,347.8 316.7,354.4 314.4,362.2 320.0,366.7 328.9,365.6 337.8,362.7 346.7,359.6 355.6,357.3 363.3,356.7 366.7,353.3 360.0,344.4 353.3,337.8 352.2,328.9 355.6,320.0 353.3,311.1 355.6,300.0 M363.3,356.7 371.1,363.3 380.0,368.9 388.9,374.4 397.8,381.1 404.4,386.7 411.1,391.1 417.8,392.2 424.4,388.9 433.3,385.6 442.2,384.0 448.9,387.8 455.6,394.4 453.3,401.1 447.8,408.9 445.6,416.7 442.2,422.2 435.6,425.6 433.3,431.1 437.8,437.8 444.4,444.4 451.1,450.0 M314.4,362.2 312.2,371.1 311.1,380.0 313.3,388.9 310.0,397.8 308.9,406.7 310.0,415.6 306.7,422.2 302.2,424.4 300.0,425.6 M331.1,376.7 333.3,383.3 338.9,387.8 345.6,393.3 352.2,398.9 360.0,402.2 366.7,404.0 373.3,406.2 376.7,411.1 373.3,415.6 M346.7,412.2 345.6,420.0 347.8,428.9 352.2,436.7 357.8,443.3 363.3,447.8 366.7,452.2 371.1,455.6 376.7,457.3 373.3,461.1 368.9,464.4 364.4,468.9 363.3,475.6 364.4,481.1 361.1,486.7 356.7,491.1 353.3,495.6 352.9,500.0 347.8,502.2 343.3,506.7 340.0,513.3 336.7,520.0 333.3,526.7 328.9,533.3 323.3,540.0 317.8,544.4 311.1,546.7 304.4,544.4 300.0,542.2 M346.7,412.2 350.0,408.9 353.3,413.3 354.4,421.1 357.8,428.9 360.0,436.7 364.4,443.3 368.9,447.8 373.3,450.7 377.8,453.3 382.2,454.4 385.6,450.0 385.6,444.4 388.9,441.1 393.3,439.6 M353.3,413.3 356.7,410.0 362.2,408.9 368.9,406.7 373.3,404.4 M376.7,457.3 381.1,458.9 384.4,464.4 387.8,470.0 392.2,474.4 396.7,476.7 400.0,481.1 404.4,485.6 411.1,487.8 414.4,488.9 M393.3,439.6 398.9,444.4 404.4,451.1 411.1,455.6 417.8,460.0 424.4,464.4 430.0,468.9 431.1,475.6 437.8,480.0 444.4,484.4 451.1,487.8 457.8,493.3 464.4,497.8 470.0,500.0 473.3,497.8 M415.6,493.3 417.8,482.2 422.2,477.8 431.1,475.6 M414.4,488.9 415.6,495.6 414.4,501.1 417.8,505.6 424.4,507.8 430.0,512.2 433.3,515.6 438.9,517.8 444.4,521.1 451.1,525.6 M352.9,500.0 357.8,503.3 364.4,502.2 368.9,506.7 373.3,510.0 376.7,506.7 382.2,505.6 388.9,503.3 393.3,500.0 398.9,497.8 404.4,495.6 408.9,493.3 414.4,488.9 M364.4,511.1 368.9,514.4 373.3,515.6 377.8,521.1 378.9,528.9 383.3,535.6 387.8,541.1 388.9,545.6 393.3,542.2 397.8,537.8 401.1,542.2 400.0,547.8 M414.4,488.9 408.9,497.8 405.6,504.4 404.4,513.3 406.7,520.0 404.4,524.4 406.7,531.1 411.1,535.6 410.0,542.2 407.8,550.0 M407.8,550.0 410.0,554.4 412.2,560.0 408.9,564.4 414.4,563.3 421.1,562.2 426.7,564.4 433.3,568.9 435.6,574.4 434.4,582.2 431.1,587.8 424.4,590.0 425.6,595.6 428.9,600.0 433.3,605.6 433.3,613.3 430.0,615.6 425.6,612.2 422.2,607.8 421.1,602.2 424.4,595.6 M408.9,564.4 404.4,572.2 398.9,578.9 394.4,585.6 395.6,592.2 402.2,594.4 408.9,593.3 407.8,598.9 403.3,603.3 400.0,608.9 397.8,614.4 391.1,616.7 385.6,617.8 383.3,623.3 378.9,621.1 381.1,614.4 384.4,608.9 383.3,603.3 378.9,605.6 376.7,602.2 373.3,600.0 368.9,602.2 366.7,607.8 367.8,616.7 366.7,625.6 364.4,632.2 361.1,638.9 358.9,645.6 357.8,652.2 M300.0,612.2 304.4,610.0 310.0,606.7 317.8,605.6 325.6,606.7 333.3,608.9 340.0,610.0 342.2,614.4 345.6,618.9 350.0,624.4 354.4,630.0 358.9,635.6 361.1,638.9 M357.8,652.2 354.4,658.9 352.2,665.6 353.3,671.1 350.0,676.7 346.7,683.3 343.3,690.0 340.0,694.4 336.7,698.9 M357.8,652.2 361.1,660.0 366.7,665.6 373.3,667.8 380.0,670.0 386.7,673.3 391.1,676.7 395.6,673.3 400.0,667.8 404.4,664.4 410.0,665.6 413.3,670.0 420.0,668.9 426.7,667.8 433.3,666.7 440.0,665.6 446.7,667.8 453.3,671.1 458.9,670.0 M458.9,670.0 461.1,663.3 464.4,656.7 468.9,651.1 474.4,647.8 478.9,642.2 483.3,635.6 481.1,628.9 475.6,627.8 476.7,621.1 482.2,618.9 488.9,620.0 493.3,621.1 496.7,615.6 494.4,608.9 491.1,603.3 484.4,600.0 477.8,597.8 472.2,596.7 466.7,600.0 460.0,597.8 453.3,593.3 446.7,592.2 440.0,595.6 433.3,591.1 434.4,582.2 M458.9,670.0 460.0,678.9 458.9,687.8 460.0,700.0 M496.7,615.6 500.0,614.4 M486.7,700.0 487.8,692.2 488.9,683.3 492.2,678.9 496.7,676.7 500.0,675.6 M333.3,700.0 335.6,708.9 337.8,717.8 339.6,726.7 341.1,735.6 343.3,744.4 345.6,755.6 347.8,766.7 350.7,777.8 353.3,788.9 356.7,800.0 360.0,811.1 363.3,822.2 366.7,833.3 371.1,844.4 374.4,850.0 M358.9,793.3 360.0,785.6 361.1,777.8 358.9,771.1 360.0,765.6 364.4,762.2 370.0,760.0 375.6,758.2 380.0,755.6 381.1,750.0 385.6,747.8 391.1,750.0 394.4,744.4 398.9,741.1 403.3,736.7 406.7,733.3 410.0,730.0 M423.3,700.0 422.2,706.7 418.9,712.2 416.7,718.9 414.4,724.4 410.0,730.0 411.1,736.7 410.0,744.4 408.9,753.3 407.8,761.1 408.9,768.9 410.0,775.6 M410.0,775.6 417.8,772.2 425.6,768.9 433.3,766.7 438.9,763.3 444.4,760.0 451.1,756.7 455.6,754.4 458.9,758.9 455.6,760.0 460.0,753.3 464.4,748.9 467.8,744.4 465.6,741.1 462.2,736.7 460.0,731.1 455.6,726.7 453.3,721.1 448.9,717.8 446.7,711.1 442.2,706.7 433.3,704.4 423.3,702.2 M455.6,700.0 458.9,704.4 463.3,707.8 465.6,713.3 462.2,716.7 456.7,717.8 453.3,721.1 M465.6,741.1 471.1,740.0 475.6,736.7 480.0,733.3 484.4,728.9 488.9,724.4 493.3,721.1 496.7,715.6 498.9,708.9 500.0,706.7 M482.2,700.0 484.4,706.7 483.3,713.3 482.2,720.0 477.8,724.4 475.6,731.1 473.3,736.7 M410.0,775.6 404.4,778.9 402.2,786.7 403.3,793.3 398.9,796.7 401.1,802.2 402.2,808.9 406.7,811.1 408.9,815.6 404.4,818.9 407.8,821.1 414.4,820.0 418.9,824.4 423.3,827.8 425.6,833.3 427.8,838.9 430.0,842.2 M500.0,744.4 495.6,747.8 491.1,752.2 486.7,756.7 485.6,762.2 480.0,766.7 475.6,771.1 471.1,775.6 465.6,781.1 461.1,785.6 456.7,791.1 453.3,797.8 452.2,804.4 452.9,813.3 453.3,822.2 454.4,831.1 453.3,840.0 453.8,850.0 M430.0,842.2 433.3,836.7 438.9,833.3 444.4,830.0 448.9,827.8 453.3,824.4 M430.0,842.2 427.8,846.7 424.4,850.0 M385.6,793.3 388.9,791.1 391.1,790.7 390.0,792.9 386.7,794.4Z M372.2,850.0 376.7,858.9 381.1,868.9 385.6,878.9 388.9,888.9 392.2,898.9 395.6,908.9 398.9,916.7 402.2,923.3 405.6,927.8 410.0,931.1 414.4,930.0 418.9,925.6 421.1,920.0 423.3,914.4 427.8,911.1 435.6,908.2 441.1,909.6 436.7,905.6 433.3,903.3 435.6,897.8 441.1,893.3 446.7,890.0 447.8,883.3 447.1,874.4 447.8,865.6 446.7,856.7 448.9,850.0 M390.0,863.3 394.4,866.7 397.8,872.2 401.1,878.9 400.0,885.6 403.3,892.2 406.7,898.9 405.6,905.6 407.8,912.2 406.7,918.9 408.9,925.6 410.0,930.0 M377.8,850.0 383.3,855.6 390.0,862.2 397.8,860.7 404.4,859.3 411.1,856.7 414.4,853.3 413.3,850.0 M447.8,900.0 453.3,897.8 458.9,902.2 464.4,910.0 470.0,918.9 475.6,930.0 478.9,941.1 479.6,952.2 476.7,962.2 471.1,968.9 464.4,972.2 457.8,973.3 452.2,970.0 448.9,962.2 446.7,952.2 445.6,941.1 446.2,930.0 447.8,921.1 451.1,914.4 452.2,907.8 448.9,903.3Z M511.1,550.0 515.6,556.7 522.2,560.0 531.1,563.3 540.0,566.7 548.9,565.6 557.8,568.9 566.7,571.1 575.6,572.2 580.0,568.9 M577.8,550.0 578.9,558.9 580.0,568.9 584.4,571.1 588.9,568.9 591.1,563.3 588.9,556.7 590.0,550.0 M591.1,563.3 598.9,566.7 606.7,565.6 615.6,564.4 624.4,565.6 633.3,564.4 642.2,562.2 651.1,563.3 660.0,564.4 666.7,562.2 675.6,558.9 684.4,555.6 693.3,556.7 700.0,554.4 M511.1,550.0 513.3,558.9 516.7,565.6 515.6,572.2 520.0,578.9 522.2,584.4 517.8,587.8 512.2,590.0 507.8,594.4 504.4,601.1 505.6,608.9 M505.6,608.9 513.3,610.0 521.1,612.2 528.9,607.8 536.7,605.6 543.3,604.4 547.8,608.9 552.2,611.1 556.7,606.7 562.2,604.4 567.8,601.1 572.2,597.8 575.6,592.2 M575.6,592.2 574.4,585.6 576.7,578.9 580.0,574.4 580.0,568.9 M580.0,574.4 585.6,573.3 591.1,572.2 595.6,574.4 600.0,578.9 603.3,575.6 604.4,570.0 606.7,566.7 606.2,574.4 607.8,583.3 M607.8,583.3 614.4,581.1 621.1,582.9 627.8,583.3 633.3,582.2 636.0,578.9 641.1,580.7 645.6,583.8 650.0,587.3 652.2,591.8 648.9,595.6 642.2,596.7 635.6,595.6 628.9,597.1 622.2,595.6 615.6,594.4 610.0,593.3 606.7,590.0Z M648.9,595.6 646.7,601.1 645.6,607.8 642.2,613.3 637.8,615.6 633.3,617.8 630.0,622.2 628.9,627.8 630.0,634.4 633.3,637.8 636.7,634.4 637.8,627.8 641.1,624.4 644.4,626.7 645.6,633.3 644.4,641.1 646.7,647.8 648.9,654.4 651.1,661.1 650.0,667.8 646.7,671.1 645.6,675.6 M652.2,591.8 655.6,597.8 653.3,605.6 651.1,612.2 653.3,616.7 656.7,614.4 660.0,618.9 661.1,627.8 660.0,636.7 658.9,645.6 660.0,653.3 655.6,656.7 653.3,658.9 651.1,661.1 M700.0,554.4 695.6,561.1 691.1,568.9 690.0,576.7 688.9,584.4 685.6,592.2 682.2,600.0 680.0,607.8 677.8,615.6 675.6,621.1 668.9,620.0 663.3,617.8 657.8,615.6 M663.3,590.0 666.7,585.6 671.1,578.9 676.7,572.2 682.2,566.7 687.8,562.2 693.3,558.9 M682.2,594.4 683.3,586.7 677.8,587.8 671.1,588.9 663.3,590.0 661.1,597.8 658.9,605.6 656.7,614.4 M575.6,592.2 577.8,598.9 580.0,605.6 585.6,610.0 587.8,616.7 586.7,623.3 587.8,630.0 588.9,636.7 592.2,643.3 594.4,650.0 595.6,656.7 594.4,661.1 M572.2,597.8 573.3,605.6 571.1,612.2 566.7,616.7 562.2,620.0 557.8,622.2 560.0,627.8 556.7,632.2 553.3,635.6 556.7,641.1 558.9,647.8 561.1,654.4 563.3,658.9 566.7,662.2 M553.3,635.6 552.2,636.7 546.7,633.3 541.1,630.0 544.4,638.9 543.3,645.6 547.8,648.9 553.3,651.1 558.9,653.3 563.3,658.9 M505.6,608.9 507.8,616.7 512.2,623.3 515.6,630.0 517.8,637.8 516.7,645.6 513.3,652.2 510.0,658.9 506.7,664.4 503.3,671.1 501.1,677.8 500.0,683.3 M516.7,645.6 522.2,647.8 528.9,651.1 533.3,654.4 538.9,652.2 543.3,647.8 M548.9,700.0 552.2,692.2 556.7,684.4 560.0,676.7 563.3,670.0 566.7,664.4 571.1,662.2 575.6,663.3 M597.8,661.1 603.3,658.9 610.0,660.0 615.6,656.7 621.1,653.3 624.4,647.8 627.8,645.6 631.1,648.9 633.3,654.4 636.7,660.0 638.9,665.6 642.2,671.1 645.6,675.6 648.9,683.3 653.3,692.2 655.6,700.0 M597.8,621.1 604.4,625.6 611.1,631.1 615.6,637.8 618.9,645.6 621.1,653.3 M628.9,627.8 631.1,636.7 633.3,643.3 632.2,650.0 M440.0,521.1 446.7,524.4 451.1,526.7 457.8,531.1 464.4,535.6 471.1,538.9 477.8,542.2 484.4,546.7 491.1,550.0 497.8,551.1 504.4,553.3 511.1,551.1 M451.1,526.7 453.3,518.9 455.6,511.1 458.9,505.6 463.3,501.1 466.7,497.8 473.3,494.4 M473.3,494.4 480.0,498.9 486.7,503.3 494.4,507.8 501.1,512.2 506.7,517.8 513.3,523.3 520.0,526.7 528.9,530.0 537.8,535.6 546.7,538.9 555.6,541.1 562.2,542.2 568.9,543.3 575.6,545.6 578.9,548.9 578.2,550.4 M578.9,548.9 584.4,543.3 590.0,546.7 592.9,550.4 597.8,543.3 604.4,538.9 613.3,535.6 622.2,535.6 630.0,537.8 635.6,542.2 640.0,546.7 M440.0,594.4 446.7,593.3 453.3,597.1 458.9,600.0 465.6,597.8 472.2,597.1 478.9,601.1 485.6,603.3 491.6,606.0 493.3,612.2 492.4,620.0 M640.0,544.7 647.0,540.0 654.0,535.3 661.0,529.5 668.0,524.8 675.0,520.2 682.0,515.5 689.0,516.7 696.0,514.3 704.2,512.5 708.8,517.8 710.0,524.8 707.7,529.5 712.3,533.0 718.2,531.8 722.8,536.5 727.5,531.8 732.2,531.8 736.8,535.3 739.2,542.3 743.8,547.0 747.3,551.7 748.5,561.0 747.3,570.3 746.2,577.3 742.7,584.3 738.0,589.0 734.5,593.7 731.0,599.5 729.8,607.7 732.2,614.7 735.7,618.2 742.7,619.3 749.7,617.0 748.5,621.7 749.7,627.0 M640.0,562.2 647.0,559.8 654.0,557.5 663.3,554.0 672.7,550.5 679.7,547.0 686.7,545.8 693.7,543.5 699.5,544.7 703.0,549.3 704.2,552.8 698.3,555.2 692.5,558.7 687.8,562.2 683.2,568.0 677.3,572.7 672.7,578.5 668.0,584.3 663.3,589.0 662.2,592.5 M704.2,552.8 712.3,554.0 718.2,551.7 720.5,547.0 722.8,540.0 722.8,536.5 M710.0,554.0 700.7,557.5 694.8,563.3 691.3,572.7 689.0,580.8 684.3,587.8 683.2,596.0 684.3,604.2 680.8,612.3 677.3,619.3 675.0,622.8 M662.2,592.5 670.3,589.0 677.3,587.8 684.3,587.8 M662.2,592.5 658.7,600.7 656.3,610.0 657.5,618.2 664.5,621.7 675.0,622.8 M640.0,576.2 647.0,579.7 651.7,586.7 650.5,593.7 647.0,597.2 642.3,600.7 640.0,603.0 M645.8,597.2 644.7,605.3 643.5,614.7 642.3,627.0 M656.3,610.0 649.3,612.3 644.7,614.7 M769.5,580.8 771.8,586.7 M809.9,600.7 811.5,605.3 M812.7,608.8 813.8,611.6 M749.7,620.0 748.5,627.0 752.0,634.0 759.0,637.5 760.2,643.3 755.5,648.0 756.7,655.0 763.7,657.3 767.2,663.2 770.7,667.8 777.7,669.0 783.5,664.3 785.8,670.2 780.0,674.8 775.3,679.5 771.8,684.2 768.3,688.8 M768.3,688.8 773.0,692.3 775.3,699.3 776.5,705.2 782.3,706.3 787.0,707.5 788.2,715.7 787.0,722.7 785.8,729.7 783.5,736.7 782.3,743.7 784.7,747.2 789.3,743.7 794.0,739.0 799.8,734.3 805.7,736.7 810.3,740.2 817.3,734.3 824.3,729.7 831.3,730.8 837.2,736.7 841.8,741.3 845.3,746.0 M785.8,670.2 791.7,662.0 795.2,652.7 799.8,648.0 805.7,643.3 812.7,645.7 819.7,646.8 826.7,644.5 833.7,643.3 840.7,642.2 845.3,641.0 M801.0,650.3 805.7,655.0 811.5,659.7 813.8,665.5 812.7,670.2 816.2,676.0 820.8,680.7 826.7,681.8 832.5,679.5 838.3,684.2 841.8,690.0 845.3,693.5 M845.3,699.3 840.7,701.7 834.8,705.2 831.3,711.0 834.8,713.3 840.7,712.2 845.3,715.7 M768.3,688.8 762.5,691.2 759.0,694.7 754.3,695.8 749.7,700.5 743.8,702.8 738.0,704.0 733.3,709.8 731.0,718.0 728.7,725.0 726.3,727.3 729.8,732.0 732.2,739.0 735.7,746.0 739.2,753.0 742.7,760.0 746.2,765.8 749.7,769.3 748.5,774.0 746.2,777.0 M640.0,674.8 644.7,680.7 650.5,687.7 656.3,694.7 662.2,700.5 668.0,706.3 671.5,713.3 675.0,720.3 677.3,728.5 679.7,736.7 680.8,746.0 682.0,755.3 680.8,764.7 678.5,771.7 677.3,777.0 M680.8,771.7 686.7,769.3 692.5,771.7 698.3,774.0 704.2,769.3 710.0,764.7 714.7,760.0 718.2,753.0 720.5,748.3 724.0,754.2 727.5,760.0 729.8,767.0 728.7,772.8 729.8,777.0 M640.0,620.0 643.5,624.7 649.3,631.7 654.0,637.5 657.5,645.7 656.3,653.8 654.0,659.7 650.5,662.0 648.2,669.0 644.7,674.8 M642.3,641.0 644.2,644.5 642.8,646.8 645.8,649.2 M665.7,709.8 668.0,708.2 669.9,712.2 668.0,715.7 666.1,713.3Z M665.2,720.3 667.5,719.9 668.0,722.7 665.7,723.8Z M805.7,760.0 808.5,761.2 807.5,764.2 M727.5,770.0 729.8,779.3 732.2,788.7 734.5,798.0 736.8,807.3 739.2,816.7 741.5,826.0 743.8,835.3 746.2,844.7 747.8,854.0 749.2,863.3 748.5,872.7 746.2,882.0 743.8,891.3 741.5,900.7 739.9,910.0 739.2,919.3 740.3,928.7 742.7,933.3 746.2,931.0 749.7,935.7 754.3,942.7 759.0,949.7 763.7,956.7 767.2,963.7 770.7,970.7 773.0,980.0 774.2,989.3 M746.2,770.0 743.8,779.3 740.3,788.7 739.2,795.7 742.7,802.7 747.3,809.7 752.0,816.7 754.3,826.0 755.5,835.3 757.8,844.7 760.2,854.0 761.3,862.2 759.0,868.0 755.5,875.0 752.0,884.3 748.5,891.3 746.2,897.2 743.8,905.3 M767.2,828.3 768.3,835.3 767.2,844.7 764.8,854.0 761.3,863.3 757.8,872.7 754.8,882.0 753.9,891.3 754.3,900.7 756.7,907.7 761.3,910.0 766.0,908.8 767.2,914.7 768.3,921.7 771.8,928.7 774.2,938.0 776.5,947.3 780.0,954.3 784.7,959.0 791.7,963.7 798.7,968.3 803.3,973.0 808.0,978.8 812.7,984.7 817.3,990.5 M767.2,828.3 770.7,826.0 776.5,824.8 781.2,827.2 782.3,834.2 781.2,840.0 785.8,842.3 791.7,840.0 797.5,842.3 802.2,847.0 805.7,851.7 809.2,857.5 813.8,863.3 817.3,869.2 822.0,873.8 825.5,879.7 827.8,885.5 830.2,890.2 832.5,886.7 838.3,884.3 843.0,886.7 846.5,891.3 M846.5,807.3 838.3,806.9 829.0,808.5 820.8,810.8 813.8,815.5 808.0,822.5 805.7,828.3 806.8,835.3 809.2,842.3 812.7,850.5 815.0,857.5 M826.7,831.8 830.2,830.2 833.7,834.2 837.2,840.0 840.7,845.8 838.3,847.0 834.8,843.5 830.2,838.8Z M770.7,960.2 775.3,963.7 780.0,968.3 783.5,973.0 785.8,978.8 790.5,976.5 794.0,973.0 798.7,968.3 M687.8,977.7 692.5,978.8 698.3,981.2 705.3,984.7 712.3,988.2 719.3,989.3 726.3,988.2 729.8,990.5 M655.2,822.5 657.5,827.2 656.8,835.3 658.2,842.3 656.3,850.5 654.5,858.7 652.1,864.5 649.8,868.0 648.9,862.2 651.2,854.0 651.7,844.7 652.8,835.3 653.5,828.3Z M647.0,878.5 649.8,877.3 649.3,882.0 647.0,883.9Z M664.5,942.7 668.0,945.0 670.3,950.8 669.9,956.7 667.5,955.5 665.7,949.7Z M658.2,925.9 660.5,928.7 663.3,931.0 664.5,934.5 662.2,935.2 659.8,932.2Z M761.3,959.0 764.8,963.7 763.7,967.2 761.8,963.7Z M769.5,938.0 773.0,941.5 774.2,947.3 771.8,945.0Z M735.0,843.3 736.4,844.7 735.2,846.1Z M738.5,849.1 739.9,850.5 738.7,851.9Z M742.0,845.6 743.4,847.0 742.2,848.4Z M739.6,857.3 741.0,858.7 739.9,860.1Z M737.3,864.3 738.7,865.7 737.5,867.1Z M738.5,875.9 739.9,877.3 738.7,878.7Z M735.0,874.8 736.4,876.2 735.2,877.6Z M733.8,884.1 735.2,885.5 734.0,886.9Z M738.5,882.9 739.9,884.3 738.7,885.7Z M736.1,895.8 737.5,897.2 736.4,898.6Z M739.6,910.9 741.0,912.3 739.9,913.7Z M651.0,908.6 652.4,910.0 651.2,911.4Z M766.5,901.6 767.9,903.0 766.7,904.4Z M770.0,982.1 771.4,983.5 770.2,984.9Z M644.0,861.9 645.4,863.3 644.2,864.7Z M661.5,811.8 662.9,813.2 661.7,814.6Z M667.3,796.6 668.7,798.0 667.5,799.4Z M843.5,854.9 844.9,856.3 843.7,857.7Z M844.6,917.9 846.0,919.3 844.9,920.7Z M54.0,565.5 59.8,562.0 66.8,558.5 73.8,556.9 80.8,558.5 84.3,563.2 86.7,571.3 89.0,579.5 93.7,584.2 100.7,587.7 110.0,589.5 119.3,591.2 128.7,592.3 138.0,594.2 147.3,595.8 156.7,597.5 166.0,597.0 175.3,595.8 184.7,594.2 194.0,592.3 203.3,594.2 212.7,593.5 222.0,592.3 230.2,590.0 234.8,588.8 238.3,593.5 240.7,600.5 243.0,607.5 246.5,613.3 250.0,618.0 M56.3,566.7 63.3,563.2 70.3,561.5 75.0,563.2 69.2,565.5 62.2,567.8 57.5,569.0Z M157.8,520.0 161.3,525.8 167.2,530.5 174.2,534.0 177.7,541.0 178.1,548.0 178.8,555.0 184.7,557.3 183.5,564.3 176.5,567.8 169.5,570.2 163.7,574.8 161.3,581.8 160.2,590.0 157.8,597.0 M54.0,600.5 58.7,594.7 63.3,590.0 68.0,584.2 70.3,577.2 72.7,574.1 76.2,574.1 75.0,579.5 73.8,585.3 74.5,594.7 77.3,602.8 82.0,609.8 87.8,615.7 94.8,620.3 101.8,623.8 108.8,626.2 114.7,632.0 120.5,639.0 125.2,644.8 129.8,648.3 128.7,655.3 126.3,662.3 122.8,669.3 119.3,677.0 M121.7,670.0 117.0,674.7 112.3,680.5 110.0,686.3 106.5,687.5 103.0,686.3 99.5,691.0 97.2,698.0 96.0,705.0 97.2,712.0 97.9,717.8 92.5,719.0 86.7,720.2 82.0,723.7 78.5,729.5 76.2,736.5 70.3,738.8 63.3,740.0 58.7,743.5 56.3,749.3 55.2,754.0 M111.2,692.2 113.5,687.5 115.8,685.2 115.1,689.8 112.8,694.5Z M68.5,746.1 69.9,746.1 69.9,747.2 68.5,747.2Z M299.7,541.5 295.0,540.3 290.3,543.8 286.8,549.7 284.5,556.7 283.3,563.7 288.0,568.3 292.7,573.0 293.8,580.0 297.3,585.8 302.0,591.7 304.3,597.0 M190.0,592.3 199.3,593.5 208.7,592.8 218.0,591.9 227.3,591.2 235.5,590.0 237.8,597.0 242.5,604.0 246.0,611.0 250.7,616.8 255.3,620.3 260.0,619.2 257.7,622.7 262.3,625.0 265.8,628.5 267.0,633.2 270.5,636.7 276.3,640.2 283.3,641.8 290.3,640.9 295.0,637.8 299.7,635.5 302.0,636.7 298.5,640.2 293.8,643.7 288.0,647.2 282.2,649.5 277.5,650.2 275.2,653.0 277.5,657.7 281.0,662.3 285.7,668.2 291.5,674.0 297.3,678.7 304.3,682.2 311.3,682.9 317.2,681.0 321.8,677.5 325.3,672.8 326.5,667.0 325.3,661.2 327.7,656.5 331.2,653.0 335.8,654.2 332.3,657.7 330.0,661.2 332.3,667.0 334.7,674.0 335.8,681.0 334.7,688.0 337.0,692.7 341.7,693.8 339.3,697.3 335.8,699.7 337.0,706.7 338.2,716.0 339.3,725.3 340.5,734.7 341.7,747.0 M302.0,590.0 305.5,597.0 307.8,604.0 306.7,609.8 302.0,613.3 295.0,614.5 288.0,615.7 281.0,614.5 274.0,613.3 270.5,616.8 268.2,620.3 264.7,622.7 260.0,619.2 M664.5,207.8 675.0,213.7 686.7,219.5 693.7,221.8 694.8,226.5 699.5,234.7 705.3,244.0 710.0,251.0 719.3,252.2 726.3,253.3 738.0,254.5 749.7,255.7 759.0,255.2 767.2,253.8 780.0,255.2 791.7,256.8 798.7,260.3 805.7,263.8 817.3,267.3 829.0,269.7 838.3,269.2 840.7,273.2 846.5,275.5 M556.7,263.8 561.3,262.7 567.2,266.2 567.9,269.2 561.3,268.5 557.4,269.7Z M609.9,290.7 612.7,288.8 614.5,295.3 616.2,301.2 613.8,301.9 612.2,296.5Z M449.3,209.0 456.3,211.3 457.5,220.7 459.8,230.0 461.0,239.3 457.5,245.2 454.0,251.0 452.8,256.8 454.0,262.7 449.3,265.0 442.3,269.7 433.0,273.2 421.3,276.7 409.7,282.5 398.0,287.2 386.3,293.0 379.3,297.7 372.3,304.7 M390.5,256.8 396.3,254.5 405.7,253.3 415.0,252.2 422.0,251.5 418.5,255.2 413.8,259.2 406.8,261.5 398.7,262.2 392.8,260.3Z M404.5,228.8 412.7,230.0 420.8,229.5 418.5,232.3 410.3,231.9Z M500.0,744.4 506.0,736.0 513.0,728.0 520.0,721.0 527.0,714.0 534.0,707.0 541.0,702.0 548.9,700.0 M763.3,363.3 768.3,360.0 775.0,363.3 779.0,369.0 775.0,371.7 768.3,370.7 765.0,367.7Z"/>
<path fill="#2442ee" d="M575.6,662.2 576.7,656.7 581.1,658.9 584.4,655.6 588.9,658.9 593.3,656.7 595.6,660.0 597.8,661.1 594.4,664.4 591.1,667.3 585.6,666.7 581.1,668.2 576.7,666.7Z"/>
<circle cx="326.7" cy="876.7" r="0.6" fill="#2442ee"/>
<circle cx="335.6" cy="871.1" r="0.6" fill="#2442ee"/>
<circle cx="333.3" cy="883.3" r="0.6" fill="#2442ee"/>
<circle cx="327.8" cy="892.2" r="0.6" fill="#2442ee"/>
<circle cx="348.9" cy="892.2" r="0.6" fill="#2442ee"/>
<circle cx="348.9" cy="878.9" r="0.6" fill="#2442ee"/>
<circle cx="339.6" cy="927.8" r="0.6" fill="#2442ee"/>
<circle cx="341.1" cy="957.8" r="0.6" fill="#2442ee"/>
<circle cx="334.4" cy="861.1" r="0.6" fill="#2442ee"/>
<circle cx="325.6" cy="863.3" r="0.6" fill="#2442ee"/>
<circle cx="445.6" cy="856.7" r="0.6" fill="#2442ee"/>
<circle cx="446.7" cy="875.6" r="0.6" fill="#2442ee"/>
<circle cx="473.3" cy="950.0" r="0.6" fill="#2442ee"/>
<circle cx="466.7" cy="935.6" r="0.6" fill="#2442ee"/>
</g>
<g font-size="9.6" font-weight="bold" text-anchor="middle" fill="#000" letter-spacing="0.35">
<text x="53.5" y="209.5"><tspan textLength="5.4" lengthAdjust="spacingAndGlyphs" dy="-0.6">-</tspan><tspan dx="0.5" dy="0.6">1</tspan></text>
<text x="85.3" y="209.5"><tspan textLength="5.4" lengthAdjust="spacingAndGlyphs" dy="-0.6">-</tspan><tspan dx="0.5" dy="0.6">4</tspan></text>
<text x="117.0" y="209.5"><tspan textLength="5.4" lengthAdjust="spacingAndGlyphs" dy="-0.6">-</tspan><tspan dx="0.5" dy="0.6">2</tspan></text>
<text x="148.8" y="209.5"><tspan textLength="5.4" lengthAdjust="spacingAndGlyphs" dy="-0.6">-</tspan><tspan dx="0.5" dy="0.6">2</tspan></text>
<text x="180.5" y="209.5">1</text>
<text x="212.3" y="209.5">1</text>
<text x="244.1" y="209.5">5</text>
<text x="275.8" y="209.5">5</text>
<text x="307.6" y="209.5">5</text>
<text x="339.3" y="209.5">5</text>
<text x="371.1" y="209.5"><tspan textLength="5.4" lengthAdjust="spacingAndGlyphs" dy="-0.6">-</tspan><tspan dx="0.5" dy="0.6">5</tspan></text>
<text x="402.9" y="209.5"><tspan textLength="5.4" lengthAdjust="spacingAndGlyphs" dy="-0.6">-</tspan><tspan dx="0.5" dy="0.6">8</tspan></text>
<text x="434.6" y="209.5"><tspan textLength="5.4" lengthAdjust="spacingAndGlyphs" dy="-0.6">-</tspan><tspan dx="0.5" dy="0.6">12</tspan></text>
<text x="466.4" y="209.5"><tspan textLength="5.4" lengthAdjust="spacingAndGlyphs" dy="-0.6">-</tspan><tspan dx="0.5" dy="0.6">13</tspan></text>
<text x="498.1" y="209.5"><tspan textLength="5.4" lengthAdjust="spacingAndGlyphs" dy="-0.6">-</tspan><tspan dx="0.5" dy="0.6">15</tspan></text>
<text x="529.9" y="209.5"><tspan textLength="5.4" lengthAdjust="spacingAndGlyphs" dy="-0.6">-</tspan><tspan dx="0.5" dy="0.6">17</tspan></text>
<text x="561.7" y="209.5"><tspan textLength="5.4" lengthAdjust="spacingAndGlyphs" dy="-0.6">-</tspan><tspan dx="0.5" dy="0.6">17</tspan></text>
<text x="593.4" y="209.5"><tspan textLength="5.4" lengthAdjust="spacingAndGlyphs" dy="-0.6">-</tspan><tspan dx="0.5" dy="0.6">18</tspan></text>
<text x="625.2" y="209.5"><tspan textLength="5.4" lengthAdjust="spacingAndGlyphs" dy="-0.6">-</tspan><tspan dx="0.5" dy="0.6">17</tspan></text>
<text x="656.9" y="209.5"><tspan textLength="5.4" lengthAdjust="spacingAndGlyphs" dy="-0.6">-</tspan><tspan dx="0.5" dy="0.6">14</tspan></text>
<text x="688.7" y="209.5"><tspan textLength="5.4" lengthAdjust="spacingAndGlyphs" dy="-0.6">-</tspan><tspan dx="0.5" dy="0.6">20</tspan></text>
<text x="720.5" y="209.5"><tspan textLength="5.4" lengthAdjust="spacingAndGlyphs" dy="-0.6">-</tspan><tspan dx="0.5" dy="0.6">18</tspan></text>
<text x="752.2" y="209.5"><tspan textLength="5.4" lengthAdjust="spacingAndGlyphs" dy="-0.6">-</tspan><tspan dx="0.5" dy="0.6">22</tspan></text>
<text x="784.0" y="209.5"><tspan textLength="5.4" lengthAdjust="spacingAndGlyphs" dy="-0.6">-</tspan><tspan dx="0.5" dy="0.6">19</tspan></text>
<text x="815.7" y="209.5"><tspan textLength="5.4" lengthAdjust="spacingAndGlyphs" dy="-0.6">-</tspan><tspan dx="0.5" dy="0.6">19</tspan></text>
<text x="847.5" y="209.5"><tspan textLength="5.4" lengthAdjust="spacingAndGlyphs" dy="-0.6">-</tspan><tspan dx="0.5" dy="0.6">19</tspan></text>
<text x="53.5" y="249.8"><tspan textLength="5.4" lengthAdjust="spacingAndGlyphs" dy="-0.6">-</tspan><tspan dx="0.5" dy="0.6">3</tspan></text>
<text x="85.3" y="249.8"><tspan textLength="5.4" lengthAdjust="spacingAndGlyphs" dy="-0.6">-</tspan><tspan dx="0.5" dy="0.6">3</tspan></text>
<text x="117.0" y="249.8"><tspan textLength="5.4" lengthAdjust="spacingAndGlyphs" dy="-0.6">-</tspan><tspan dx="0.5" dy="0.6">3</tspan></text>
<text x="148.8" y="249.8"><tspan textLength="5.4" lengthAdjust="spacingAndGlyphs" dy="-0.6">-</tspan><tspan dx="0.5" dy="0.6">3</tspan></text>
<text x="180.5" y="249.8"><tspan textLength="5.4" lengthAdjust="spacingAndGlyphs" dy="-0.6">-</tspan><tspan dx="0.5" dy="0.6">0</tspan></text>
<text x="212.3" y="249.8">0</text>
<text x="244.1" y="249.8">5</text>
<text x="275.8" y="249.8">6</text>
<text x="307.6" y="249.8">4</text>
<text x="339.3" y="249.8"><tspan textLength="5.4" lengthAdjust="spacingAndGlyphs" dy="-0.6">-</tspan><tspan dx="0.5" dy="0.6">3</tspan></text>
<text x="371.1" y="249.8"><tspan textLength="5.4" lengthAdjust="spacingAndGlyphs" dy="-0.6">-</tspan><tspan dx="0.5" dy="0.6">4</tspan></text>
<text x="402.9" y="249.8"><tspan textLength="5.4" lengthAdjust="spacingAndGlyphs" dy="-0.6">-</tspan><tspan dx="0.5" dy="0.6">18</tspan></text>
<text x="434.6" y="249.8"><tspan textLength="5.4" lengthAdjust="spacingAndGlyphs" dy="-0.6">-</tspan><tspan dx="0.5" dy="0.6">15</tspan></text>
<text x="466.4" y="249.8"><tspan textLength="5.4" lengthAdjust="spacingAndGlyphs" dy="-0.6">-</tspan><tspan dx="0.5" dy="0.6">19</tspan></text>
<text x="498.1" y="249.8"><tspan textLength="5.4" lengthAdjust="spacingAndGlyphs" dy="-0.6">-</tspan><tspan dx="0.5" dy="0.6">24</tspan></text>
<text x="529.9" y="249.8"><tspan textLength="5.4" lengthAdjust="spacingAndGlyphs" dy="-0.6">-</tspan><tspan dx="0.5" dy="0.6">25</tspan></text>
<text x="561.7" y="249.8"><tspan textLength="5.4" lengthAdjust="spacingAndGlyphs" dy="-0.6">-</tspan><tspan dx="0.5" dy="0.6">27</tspan></text>
<text x="593.4" y="249.8"><tspan textLength="5.4" lengthAdjust="spacingAndGlyphs" dy="-0.6">-</tspan><tspan dx="0.5" dy="0.6">8</tspan></text>
<text x="625.2" y="249.8"><tspan textLength="5.4" lengthAdjust="spacingAndGlyphs" dy="-0.6">-</tspan><tspan dx="0.5" dy="0.6">9</tspan></text>
<text x="656.9" y="249.8"><tspan textLength="5.4" lengthAdjust="spacingAndGlyphs" dy="-0.6">-</tspan><tspan dx="0.5" dy="0.6">13</tspan></text>
<text x="688.7" y="249.8"><tspan textLength="5.4" lengthAdjust="spacingAndGlyphs" dy="-0.6">-</tspan><tspan dx="0.5" dy="0.6">19</tspan></text>
<text x="720.5" y="249.8"><tspan textLength="5.4" lengthAdjust="spacingAndGlyphs" dy="-0.6">-</tspan><tspan dx="0.5" dy="0.6">13</tspan></text>
<text x="752.2" y="249.8"><tspan textLength="5.4" lengthAdjust="spacingAndGlyphs" dy="-0.6">-</tspan><tspan dx="0.5" dy="0.6">15</tspan></text>
<text x="784.0" y="249.8"><tspan textLength="5.4" lengthAdjust="spacingAndGlyphs" dy="-0.6">-</tspan><tspan dx="0.5" dy="0.6">16</tspan></text>
<text x="815.7" y="249.8"><tspan textLength="5.4" lengthAdjust="spacingAndGlyphs" dy="-0.6">-</tspan><tspan dx="0.5" dy="0.6">17</tspan></text>
<text x="847.5" y="249.8"><tspan textLength="5.4" lengthAdjust="spacingAndGlyphs" dy="-0.6">-</tspan><tspan dx="0.5" dy="0.6">17</tspan></text>
<text x="53.5" y="289.1"><tspan textLength="5.4" lengthAdjust="spacingAndGlyphs" dy="-0.6">-</tspan><tspan dx="0.5" dy="0.6">0</tspan></text>
<text x="85.3" y="289.1"><tspan textLength="5.4" lengthAdjust="spacingAndGlyphs" dy="-0.6">-</tspan><tspan dx="0.5" dy="0.6">1</tspan></text>
<text x="117.0" y="289.1"><tspan textLength="5.4" lengthAdjust="spacingAndGlyphs" dy="-0.6">-</tspan><tspan dx="0.5" dy="0.6">2</tspan></text>
<text x="148.8" y="289.1"><tspan textLength="5.4" lengthAdjust="spacingAndGlyphs" dy="-0.6">-</tspan><tspan dx="0.5" dy="0.6">1</tspan></text>
<text x="180.5" y="289.1">0</text>
<text x="212.3" y="289.1">2</text>
<text x="244.1" y="289.1">6</text>
<text x="275.8" y="289.1">6</text>
<text x="307.6" y="289.1"><tspan textLength="5.4" lengthAdjust="spacingAndGlyphs" dy="-0.6">-</tspan><tspan dx="0.5" dy="0.6">4</tspan></text>
<text x="339.3" y="289.1"><tspan textLength="5.4" lengthAdjust="spacingAndGlyphs" dy="-0.6">-</tspan><tspan dx="0.5" dy="0.6">6</tspan></text>
<text x="371.1" y="289.1"><tspan textLength="5.4" lengthAdjust="spacingAndGlyphs" dy="-0.6">-</tspan><tspan dx="0.5" dy="0.6">22</tspan></text>
<text x="402.9" y="289.1"><tspan textLength="5.4" lengthAdjust="spacingAndGlyphs" dy="-0.6">-</tspan><tspan dx="0.5" dy="0.6">27</tspan></text>
<text x="434.6" y="289.1"><tspan textLength="5.4" lengthAdjust="spacingAndGlyphs" dy="-0.6">-</tspan><tspan dx="0.5" dy="0.6">13</tspan></text>
<text x="466.4" y="289.1"><tspan textLength="5.4" lengthAdjust="spacingAndGlyphs" dy="-0.6">-</tspan><tspan dx="0.5" dy="0.6">10</tspan></text>
<text x="498.1" y="289.1"><tspan textLength="5.4" lengthAdjust="spacingAndGlyphs" dy="-0.6">-</tspan><tspan dx="0.5" dy="0.6">10</tspan></text>
<text x="529.9" y="289.1"><tspan textLength="5.4" lengthAdjust="spacingAndGlyphs" dy="-0.6">-</tspan><tspan dx="0.5" dy="0.6">10</tspan></text>
<text x="561.7" y="289.1"><tspan textLength="5.4" lengthAdjust="spacingAndGlyphs" dy="-0.6">-</tspan><tspan dx="0.5" dy="0.6">9</tspan></text>
<text x="593.4" y="289.1"><tspan textLength="5.4" lengthAdjust="spacingAndGlyphs" dy="-0.6">-</tspan><tspan dx="0.5" dy="0.6">9</tspan></text>
<text x="625.2" y="289.1"><tspan textLength="5.4" lengthAdjust="spacingAndGlyphs" dy="-0.6">-</tspan><tspan dx="0.5" dy="0.6">10</tspan></text>
<text x="656.9" y="289.1"><tspan textLength="5.4" lengthAdjust="spacingAndGlyphs" dy="-0.6">-</tspan><tspan dx="0.5" dy="0.6">12</tspan></text>
<text x="688.7" y="289.1"><tspan textLength="5.4" lengthAdjust="spacingAndGlyphs" dy="-0.6">-</tspan><tspan dx="0.5" dy="0.6">14</tspan></text>
<text x="720.5" y="289.1"><tspan textLength="5.4" lengthAdjust="spacingAndGlyphs" dy="-0.6">-</tspan><tspan dx="0.5" dy="0.6">13</tspan></text>
<text x="752.2" y="289.1"><tspan textLength="5.4" lengthAdjust="spacingAndGlyphs" dy="-0.6">-</tspan><tspan dx="0.5" dy="0.6">12</tspan></text>
<text x="784.0" y="289.1"><tspan textLength="5.4" lengthAdjust="spacingAndGlyphs" dy="-0.6">-</tspan><tspan dx="0.5" dy="0.6">13</tspan></text>
<text x="815.7" y="289.1"><tspan textLength="5.4" lengthAdjust="spacingAndGlyphs" dy="-0.6">-</tspan><tspan dx="0.5" dy="0.6">20</tspan></text>
<text x="847.5" y="289.1"><tspan textLength="5.4" lengthAdjust="spacingAndGlyphs" dy="-0.6">-</tspan><tspan dx="0.5" dy="0.6">20</tspan></text>
<text x="53.5" y="328.4">2</text>
<text x="85.3" y="328.4">1</text>
<text x="117.0" y="328.4"><tspan textLength="5.4" lengthAdjust="spacingAndGlyphs" dy="-0.6">-</tspan><tspan dx="0.5" dy="0.6">1</tspan></text>
<text x="148.8" y="328.4"><tspan textLength="5.4" lengthAdjust="spacingAndGlyphs" dy="-0.6">-</tspan><tspan dx="0.5" dy="0.6">2</tspan></text>
<text x="180.5" y="328.4">3</text>
<text x="212.3" y="328.4">4</text>
<text x="244.1" y="328.4">2</text>
<text x="275.8" y="328.4"><tspan textLength="5.4" lengthAdjust="spacingAndGlyphs" dy="-0.6">-</tspan><tspan dx="0.5" dy="0.6">9</tspan></text>
<text x="307.6" y="328.4"><tspan textLength="5.4" lengthAdjust="spacingAndGlyphs" dy="-0.6">-</tspan><tspan dx="0.5" dy="0.6">11</tspan></text>
<text x="339.3" y="328.4"><tspan textLength="5.4" lengthAdjust="spacingAndGlyphs" dy="-0.6">-</tspan><tspan dx="0.5" dy="0.6">32</tspan></text>
<text x="371.1" y="328.4"><tspan textLength="5.4" lengthAdjust="spacingAndGlyphs" dy="-0.6">-</tspan><tspan dx="0.5" dy="0.6">24</tspan></text>
<text x="402.9" y="328.4"><tspan textLength="5.4" lengthAdjust="spacingAndGlyphs" dy="-0.6">-</tspan><tspan dx="0.5" dy="0.6">11</tspan></text>
<text x="434.6" y="328.4"><tspan textLength="5.4" lengthAdjust="spacingAndGlyphs" dy="-0.6">-</tspan><tspan dx="0.5" dy="0.6">11</tspan></text>
<text x="466.4" y="328.4"><tspan textLength="5.4" lengthAdjust="spacingAndGlyphs" dy="-0.6">-</tspan><tspan dx="0.5" dy="0.6">12</tspan></text>
<text x="498.1" y="328.4"><tspan textLength="5.4" lengthAdjust="spacingAndGlyphs" dy="-0.6">-</tspan><tspan dx="0.5" dy="0.6">12</tspan></text>
<text x="529.9" y="328.4"><tspan textLength="5.4" lengthAdjust="spacingAndGlyphs" dy="-0.6">-</tspan><tspan dx="0.5" dy="0.6">11</tspan></text>
<text x="561.7" y="328.4"><tspan textLength="5.4" lengthAdjust="spacingAndGlyphs" dy="-0.6">-</tspan><tspan dx="0.5" dy="0.6">10</tspan></text>
<text x="593.4" y="328.4"><tspan textLength="5.4" lengthAdjust="spacingAndGlyphs" dy="-0.6">-</tspan><tspan dx="0.5" dy="0.6">15</tspan></text>
<text x="625.2" y="328.4"><tspan textLength="5.4" lengthAdjust="spacingAndGlyphs" dy="-0.6">-</tspan><tspan dx="0.5" dy="0.6">26</tspan></text>
<text x="656.9" y="328.4"><tspan textLength="5.4" lengthAdjust="spacingAndGlyphs" dy="-0.6">-</tspan><tspan dx="0.5" dy="0.6">22</tspan></text>
<text x="688.7" y="328.4"><tspan textLength="5.4" lengthAdjust="spacingAndGlyphs" dy="-0.6">-</tspan><tspan dx="0.5" dy="0.6">21</tspan></text>
<text x="720.5" y="328.4"><tspan textLength="5.4" lengthAdjust="spacingAndGlyphs" dy="-0.6">-</tspan><tspan dx="0.5" dy="0.6">23</tspan></text>
<text x="752.2" y="328.4"><tspan textLength="5.4" lengthAdjust="spacingAndGlyphs" dy="-0.6">-</tspan><tspan dx="0.5" dy="0.6">20</tspan></text>
<text x="784.0" y="328.4"><tspan textLength="5.4" lengthAdjust="spacingAndGlyphs" dy="-0.6">-</tspan><tspan dx="0.5" dy="0.6">15</tspan></text>
<text x="815.7" y="328.4"><tspan textLength="5.4" lengthAdjust="spacingAndGlyphs" dy="-0.6">-</tspan><tspan dx="0.5" dy="0.6">12</tspan></text>
<text x="847.5" y="328.4"><tspan textLength="5.4" lengthAdjust="spacingAndGlyphs" dy="-0.6">-</tspan><tspan dx="0.5" dy="0.6">11</tspan></text>
<text x="53.5" y="367.7">1</text>
<text x="85.3" y="367.7">1</text>
<text x="117.0" y="367.7"><tspan textLength="5.4" lengthAdjust="spacingAndGlyphs" dy="-0.6">-</tspan><tspan dx="0.5" dy="0.6">5</tspan></text>
<text x="148.8" y="367.7">3</text>
<text x="180.5" y="367.7">3</text>
<text x="212.3" y="367.7">6</text>
<text x="244.1" y="367.7">6</text>
<text x="275.8" y="367.7">5</text>
<text x="307.6" y="367.7"><tspan textLength="5.4" lengthAdjust="spacingAndGlyphs" dy="-0.6">-</tspan><tspan dx="0.5" dy="0.6">14</tspan></text>
<text x="339.3" y="367.7"><tspan textLength="5.4" lengthAdjust="spacingAndGlyphs" dy="-0.6">-</tspan><tspan dx="0.5" dy="0.6">27</tspan></text>
<text x="371.1" y="367.7"><tspan textLength="5.4" lengthAdjust="spacingAndGlyphs" dy="-0.6">-</tspan><tspan dx="0.5" dy="0.6">21</tspan></text>
<text x="402.9" y="367.7"><tspan textLength="5.4" lengthAdjust="spacingAndGlyphs" dy="-0.6">-</tspan><tspan dx="0.5" dy="0.6">23</tspan></text>
<text x="434.6" y="367.7"><tspan textLength="5.4" lengthAdjust="spacingAndGlyphs" dy="-0.6">-</tspan><tspan dx="0.5" dy="0.6">12</tspan></text>
<text x="466.4" y="367.7"><tspan textLength="5.4" lengthAdjust="spacingAndGlyphs" dy="-0.6">-</tspan><tspan dx="0.5" dy="0.6">11</tspan></text>
<text x="498.1" y="367.7"><tspan textLength="5.4" lengthAdjust="spacingAndGlyphs" dy="-0.6">-</tspan><tspan dx="0.5" dy="0.6">11</tspan></text>
<text x="529.9" y="367.7"><tspan textLength="5.4" lengthAdjust="spacingAndGlyphs" dy="-0.6">-</tspan><tspan dx="0.5" dy="0.6">23</tspan></text>
<text x="561.7" y="367.7"><tspan textLength="5.4" lengthAdjust="spacingAndGlyphs" dy="-0.6">-</tspan><tspan dx="0.5" dy="0.6">23</tspan></text>
<text x="593.4" y="367.7"><tspan textLength="5.4" lengthAdjust="spacingAndGlyphs" dy="-0.6">-</tspan><tspan dx="0.5" dy="0.6">21</tspan></text>
<text x="625.2" y="367.7"><tspan textLength="5.4" lengthAdjust="spacingAndGlyphs" dy="-0.6">-</tspan><tspan dx="0.5" dy="0.6">22</tspan></text>
<text x="656.9" y="367.7"><tspan textLength="5.4" lengthAdjust="spacingAndGlyphs" dy="-0.6">-</tspan><tspan dx="0.5" dy="0.6">18</tspan></text>
<text x="688.7" y="367.7"><tspan textLength="5.4" lengthAdjust="spacingAndGlyphs" dy="-0.6">-</tspan><tspan dx="0.5" dy="0.6">15</tspan></text>
<text x="720.5" y="367.7"><tspan textLength="5.4" lengthAdjust="spacingAndGlyphs" dy="-0.6">-</tspan><tspan dx="0.5" dy="0.6">17</tspan></text>
<text x="752.2" y="367.7"><tspan textLength="5.4" lengthAdjust="spacingAndGlyphs" dy="-0.6">-</tspan><tspan dx="0.5" dy="0.6">24</tspan></text>
<text x="784.0" y="367.7"><tspan textLength="5.4" lengthAdjust="spacingAndGlyphs" dy="-0.6">-</tspan><tspan dx="0.5" dy="0.6">21</tspan></text>
<text x="815.7" y="367.7"><tspan textLength="5.4" lengthAdjust="spacingAndGlyphs" dy="-0.6">-</tspan><tspan dx="0.5" dy="0.6">16</tspan></text>
<text x="847.5" y="367.7"><tspan textLength="5.4" lengthAdjust="spacingAndGlyphs" dy="-0.6">-</tspan><tspan dx="0.5" dy="0.6">12</tspan></text>
<text x="53.5" y="407.0">1</text>
<text x="85.3" y="407.0">1</text>
<text x="117.0" y="407.0">2</text>
<text x="148.8" y="407.0">4</text>
<text x="180.5" y="407.0">1</text>
<text x="212.3" y="407.0"><tspan textLength="5.4" lengthAdjust="spacingAndGlyphs" dy="-0.6">-</tspan><tspan dx="0.5" dy="0.6">9</tspan></text>
<text x="244.1" y="407.0"><tspan textLength="5.4" lengthAdjust="spacingAndGlyphs" dy="-0.6">-</tspan><tspan dx="0.5" dy="0.6">17</tspan></text>
<text x="275.8" y="407.0"><tspan textLength="5.4" lengthAdjust="spacingAndGlyphs" dy="-0.6">-</tspan><tspan dx="0.5" dy="0.6">14</tspan></text>
<text x="307.6" y="407.0"><tspan textLength="5.4" lengthAdjust="spacingAndGlyphs" dy="-0.6">-</tspan><tspan dx="0.5" dy="0.6">10</tspan></text>
<text x="339.3" y="407.0"><tspan textLength="5.4" lengthAdjust="spacingAndGlyphs" dy="-0.6">-</tspan><tspan dx="0.5" dy="0.6">7</tspan></text>
<text x="371.1" y="407.0"><tspan textLength="5.4" lengthAdjust="spacingAndGlyphs" dy="-0.6">-</tspan><tspan dx="0.5" dy="0.6">10</tspan></text>
<text x="402.9" y="407.0"><tspan textLength="5.4" lengthAdjust="spacingAndGlyphs" dy="-0.6">-</tspan><tspan dx="0.5" dy="0.6">24</tspan></text>
<text x="434.6" y="407.0"><tspan textLength="5.4" lengthAdjust="spacingAndGlyphs" dy="-0.6">-</tspan><tspan dx="0.5" dy="0.6">32</tspan></text>
<text x="466.4" y="407.0"><tspan textLength="5.4" lengthAdjust="spacingAndGlyphs" dy="-0.6">-</tspan><tspan dx="0.5" dy="0.6">26</tspan></text>
<text x="498.1" y="407.0"><tspan textLength="5.4" lengthAdjust="spacingAndGlyphs" dy="-0.6">-</tspan><tspan dx="0.5" dy="0.6">26</tspan></text>
<text x="529.9" y="407.0"><tspan textLength="5.4" lengthAdjust="spacingAndGlyphs" dy="-0.6">-</tspan><tspan dx="0.5" dy="0.6">26</tspan></text>
<text x="561.7" y="407.0"><tspan textLength="5.4" lengthAdjust="spacingAndGlyphs" dy="-0.6">-</tspan><tspan dx="0.5" dy="0.6">24</tspan></text>
<text x="593.4" y="407.0"><tspan textLength="5.4" lengthAdjust="spacingAndGlyphs" dy="-0.6">-</tspan><tspan dx="0.5" dy="0.6">25</tspan></text>
<text x="625.2" y="407.0"><tspan textLength="5.4" lengthAdjust="spacingAndGlyphs" dy="-0.6">-</tspan><tspan dx="0.5" dy="0.6">27</tspan></text>
<text x="656.9" y="407.0"><tspan textLength="5.4" lengthAdjust="spacingAndGlyphs" dy="-0.6">-</tspan><tspan dx="0.5" dy="0.6">28</tspan></text>
<text x="688.7" y="407.0"><tspan textLength="5.4" lengthAdjust="spacingAndGlyphs" dy="-0.6">-</tspan><tspan dx="0.5" dy="0.6">28</tspan></text>
<text x="720.5" y="407.0"><tspan textLength="5.4" lengthAdjust="spacingAndGlyphs" dy="-0.6">-</tspan><tspan dx="0.5" dy="0.6">25</tspan></text>
<text x="752.2" y="407.0"><tspan textLength="5.4" lengthAdjust="spacingAndGlyphs" dy="-0.6">-</tspan><tspan dx="0.5" dy="0.6">18</tspan></text>
<text x="784.0" y="407.0"><tspan textLength="5.4" lengthAdjust="spacingAndGlyphs" dy="-0.6">-</tspan><tspan dx="0.5" dy="0.6">22</tspan></text>
<text x="815.7" y="407.0"><tspan textLength="5.4" lengthAdjust="spacingAndGlyphs" dy="-0.6">-</tspan><tspan dx="0.5" dy="0.6">12</tspan></text>
<text x="847.5" y="407.0"><tspan textLength="5.4" lengthAdjust="spacingAndGlyphs" dy="-0.6">-</tspan><tspan dx="0.5" dy="0.6">5</tspan></text>
<text x="53.5" y="446.3">2</text>
<text x="85.3" y="446.3">3</text>
<text x="117.0" y="446.3">0</text>
<text x="148.8" y="446.3">3</text>
<text x="180.5" y="446.3">1</text>
<text x="212.3" y="446.3"><tspan textLength="5.4" lengthAdjust="spacingAndGlyphs" dy="-0.6">-</tspan><tspan dx="0.5" dy="0.6">3</tspan></text>
<text x="244.1" y="446.3"><tspan textLength="5.4" lengthAdjust="spacingAndGlyphs" dy="-0.6">-</tspan><tspan dx="0.5" dy="0.6">10</tspan></text>
<text x="275.8" y="446.3"><tspan textLength="5.4" lengthAdjust="spacingAndGlyphs" dy="-0.6">-</tspan><tspan dx="0.5" dy="0.6">8</tspan></text>
<text x="307.6" y="446.3">1</text>
<text x="339.3" y="446.3"><tspan textLength="5.4" lengthAdjust="spacingAndGlyphs" dy="-0.6">-</tspan><tspan dx="0.5" dy="0.6">1</tspan></text>
<text x="371.1" y="446.3">1</text>
<text x="402.9" y="446.3"><tspan textLength="5.4" lengthAdjust="spacingAndGlyphs" dy="-0.6">-</tspan><tspan dx="0.5" dy="0.6">23</tspan></text>
<text x="434.6" y="446.3"><tspan textLength="5.4" lengthAdjust="spacingAndGlyphs" dy="-0.6">-</tspan><tspan dx="0.5" dy="0.6">22</tspan></text>
<text x="466.4" y="446.3"><tspan textLength="5.4" lengthAdjust="spacingAndGlyphs" dy="-0.6">-</tspan><tspan dx="0.5" dy="0.6">23</tspan></text>
<text x="498.1" y="446.3"><tspan textLength="5.4" lengthAdjust="spacingAndGlyphs" dy="-0.6">-</tspan><tspan dx="0.5" dy="0.6">24</tspan></text>
<text x="529.9" y="446.3"><tspan textLength="5.4" lengthAdjust="spacingAndGlyphs" dy="-0.6">-</tspan><tspan dx="0.5" dy="0.6">25</tspan></text>
<text x="561.7" y="446.3"><tspan textLength="5.4" lengthAdjust="spacingAndGlyphs" dy="-0.6">-</tspan><tspan dx="0.5" dy="0.6">27</tspan></text>
<text x="593.4" y="446.3"><tspan textLength="5.4" lengthAdjust="spacingAndGlyphs" dy="-0.6">-</tspan><tspan dx="0.5" dy="0.6">28</tspan></text>
<text x="625.2" y="446.3"><tspan textLength="5.4" lengthAdjust="spacingAndGlyphs" dy="-0.6">-</tspan><tspan dx="0.5" dy="0.6">29</tspan></text>
<text x="656.9" y="446.3"><tspan textLength="5.4" lengthAdjust="spacingAndGlyphs" dy="-0.6">-</tspan><tspan dx="0.5" dy="0.6">32</tspan></text>
<text x="688.7" y="446.3"><tspan textLength="5.4" lengthAdjust="spacingAndGlyphs" dy="-0.6">-</tspan><tspan dx="0.5" dy="0.6">27</tspan></text>
<text x="720.5" y="446.3"><tspan textLength="5.4" lengthAdjust="spacingAndGlyphs" dy="-0.6">-</tspan><tspan dx="0.5" dy="0.6">24</tspan></text>
<text x="752.2" y="446.3"><tspan textLength="5.4" lengthAdjust="spacingAndGlyphs" dy="-0.6">-</tspan><tspan dx="0.5" dy="0.6">26</tspan></text>
<text x="784.0" y="446.3"><tspan textLength="5.4" lengthAdjust="spacingAndGlyphs" dy="-0.6">-</tspan><tspan dx="0.5" dy="0.6">20</tspan></text>
<text x="815.7" y="446.3"><tspan textLength="5.4" lengthAdjust="spacingAndGlyphs" dy="-0.6">-</tspan><tspan dx="0.5" dy="0.6">13</tspan></text>
<text x="847.5" y="446.3"><tspan textLength="5.4" lengthAdjust="spacingAndGlyphs" dy="-0.6">-</tspan><tspan dx="0.5" dy="0.6">6</tspan></text>
<text x="53.5" y="485.6">2</text>
<text x="85.3" y="485.6"><tspan textLength="5.4" lengthAdjust="spacingAndGlyphs" dy="-0.6">-</tspan><tspan dx="0.5" dy="0.6">4</tspan></text>
<text x="117.0" y="485.6">4</text>
<text x="148.8" y="485.6">7</text>
<text x="180.5" y="485.6">3</text>
<text x="212.3" y="485.6">1</text>
<text x="244.1" y="485.6"><tspan textLength="5.4" lengthAdjust="spacingAndGlyphs" dy="-0.6">-</tspan><tspan dx="0.5" dy="0.6">2</tspan></text>
<text x="275.8" y="485.6"><tspan textLength="5.4" lengthAdjust="spacingAndGlyphs" dy="-0.6">-</tspan><tspan dx="0.5" dy="0.6">2</tspan></text>
<text x="307.6" y="485.6">2</text>
<text x="339.3" y="485.6">2</text>
<text x="371.1" y="485.6"><tspan textLength="5.4" lengthAdjust="spacingAndGlyphs" dy="-0.6">-</tspan><tspan dx="0.5" dy="0.6">0</tspan></text>
<text x="402.9" y="485.6">2</text>
<text x="434.6" y="485.6"><tspan textLength="5.4" lengthAdjust="spacingAndGlyphs" dy="-0.6">-</tspan><tspan dx="0.5" dy="0.6">19</tspan></text>
<text x="466.4" y="485.6"><tspan textLength="5.4" lengthAdjust="spacingAndGlyphs" dy="-0.6">-</tspan><tspan dx="0.5" dy="0.6">22</tspan></text>
<text x="498.1" y="485.6"><tspan textLength="5.4" lengthAdjust="spacingAndGlyphs" dy="-0.6">-</tspan><tspan dx="0.5" dy="0.6">25</tspan></text>
<text x="529.9" y="485.6"><tspan textLength="5.4" lengthAdjust="spacingAndGlyphs" dy="-0.6">-</tspan><tspan dx="0.5" dy="0.6">25</tspan></text>
<text x="561.7" y="485.6"><tspan textLength="5.4" lengthAdjust="spacingAndGlyphs" dy="-0.6">-</tspan><tspan dx="0.5" dy="0.6">23</tspan></text>
<text x="593.4" y="485.6"><tspan textLength="5.4" lengthAdjust="spacingAndGlyphs" dy="-0.6">-</tspan><tspan dx="0.5" dy="0.6">29</tspan></text>
<text x="625.2" y="485.6"><tspan textLength="5.4" lengthAdjust="spacingAndGlyphs" dy="-0.6">-</tspan><tspan dx="0.5" dy="0.6">22</tspan></text>
<text x="656.9" y="485.6"><tspan textLength="5.4" lengthAdjust="spacingAndGlyphs" dy="-0.6">-</tspan><tspan dx="0.5" dy="0.6">18</tspan></text>
<text x="688.7" y="485.6"><tspan textLength="5.4" lengthAdjust="spacingAndGlyphs" dy="-0.6">-</tspan><tspan dx="0.5" dy="0.6">17</tspan></text>
<text x="720.5" y="485.6"><tspan textLength="5.4" lengthAdjust="spacingAndGlyphs" dy="-0.6">-</tspan><tspan dx="0.5" dy="0.6">14</tspan></text>
<text x="752.2" y="485.6"><tspan textLength="5.4" lengthAdjust="spacingAndGlyphs" dy="-0.6">-</tspan><tspan dx="0.5" dy="0.6">15</tspan></text>
<text x="784.0" y="485.6"><tspan textLength="5.4" lengthAdjust="spacingAndGlyphs" dy="-0.6">-</tspan><tspan dx="0.5" dy="0.6">15</tspan></text>
<text x="815.7" y="485.6"><tspan textLength="5.4" lengthAdjust="spacingAndGlyphs" dy="-0.6">-</tspan><tspan dx="0.5" dy="0.6">15</tspan></text>
<text x="847.5" y="485.6">6</text>
<text x="53.5" y="524.9">1</text>
<text x="85.3" y="524.9">1</text>
<text x="117.0" y="524.9">8</text>
<text x="148.8" y="524.9"><tspan textLength="5.4" lengthAdjust="spacingAndGlyphs" dy="-0.6">-</tspan><tspan dx="0.5" dy="0.6">1</tspan></text>
<text x="180.5" y="524.9">4</text>
<text x="212.3" y="524.9">6</text>
<text x="244.1" y="524.9">1</text>
<text x="275.8" y="524.9">5</text>
<text x="307.6" y="524.9">0</text>
<text x="339.3" y="524.9">2</text>
<text x="371.1" y="524.9">6</text>
<text x="402.9" y="524.9">8</text>
<text x="434.6" y="524.9">10</text>
<text x="466.4" y="524.9">3</text>
<text x="498.1" y="524.9"><tspan textLength="5.4" lengthAdjust="spacingAndGlyphs" dy="-0.6">-</tspan><tspan dx="0.5" dy="0.6">18</tspan></text>
<text x="529.9" y="524.9"><tspan textLength="5.4" lengthAdjust="spacingAndGlyphs" dy="-0.6">-</tspan><tspan dx="0.5" dy="0.6">29</tspan></text>
<text x="561.7" y="524.9"><tspan textLength="5.4" lengthAdjust="spacingAndGlyphs" dy="-0.6">-</tspan><tspan dx="0.5" dy="0.6">27</tspan></text>
<text x="593.4" y="524.9"><tspan textLength="5.4" lengthAdjust="spacingAndGlyphs" dy="-0.6">-</tspan><tspan dx="0.5" dy="0.6">16</tspan></text>
<text x="625.2" y="524.9"><tspan textLength="5.4" lengthAdjust="spacingAndGlyphs" dy="-0.6">-</tspan><tspan dx="0.5" dy="0.6">13</tspan></text>
<text x="656.9" y="524.9"><tspan textLength="5.4" lengthAdjust="spacingAndGlyphs" dy="-0.6">-</tspan><tspan dx="0.5" dy="0.6">12</tspan></text>
<text x="688.7" y="524.9"><tspan textLength="5.4" lengthAdjust="spacingAndGlyphs" dy="-0.6">-</tspan><tspan dx="0.5" dy="0.6">5</tspan></text>
<text x="720.5" y="524.9"><tspan textLength="5.4" lengthAdjust="spacingAndGlyphs" dy="-0.6">-</tspan><tspan dx="0.5" dy="0.6">22</tspan></text>
<text x="752.2" y="524.9"><tspan textLength="5.4" lengthAdjust="spacingAndGlyphs" dy="-0.6">-</tspan><tspan dx="0.5" dy="0.6">12</tspan></text>
<text x="784.0" y="524.9"><tspan textLength="5.4" lengthAdjust="spacingAndGlyphs" dy="-0.6">-</tspan><tspan dx="0.5" dy="0.6">18</tspan></text>
<text x="815.7" y="524.9"><tspan textLength="5.4" lengthAdjust="spacingAndGlyphs" dy="-0.6">-</tspan><tspan dx="0.5" dy="0.6">3</tspan></text>
<text x="847.5" y="524.9">6</text>
<text x="53.5" y="564.2">12</text>
<text x="85.3" y="564.2">14</text>
<text x="117.0" y="564.2">10</text>
<text x="148.8" y="564.2">8</text>
<text x="180.5" y="564.2">9</text>
<text x="212.3" y="564.2">5</text>
<text x="244.1" y="564.2">5</text>
<text x="275.8" y="564.2">5</text>
<text x="307.6" y="564.2">2</text>
<text x="339.3" y="564.2">5</text>
<text x="371.1" y="564.2">5</text>
<text x="402.9" y="564.2">9</text>
<text x="434.6" y="564.2">10</text>
<text x="466.4" y="564.2">12</text>
<text x="498.1" y="564.2">10</text>
<text x="529.9" y="564.2">9</text>
<text x="561.7" y="564.2">7</text>
<text x="593.4" y="564.2">3</text>
<text x="625.2" y="564.2">3</text>
<text x="656.9" y="564.2">6</text>
<text x="688.7" y="564.2">8</text>
<text x="720.5" y="564.2">2</text>
<text x="752.2" y="564.2"><tspan textLength="5.4" lengthAdjust="spacingAndGlyphs" dy="-0.6">-</tspan><tspan dx="0.5" dy="0.6">10</tspan></text>
<text x="784.0" y="564.2"><tspan textLength="5.4" lengthAdjust="spacingAndGlyphs" dy="-0.6">-</tspan><tspan dx="0.5" dy="0.6">11</tspan></text>
<text x="815.7" y="564.2"><tspan textLength="5.4" lengthAdjust="spacingAndGlyphs" dy="-0.6">-</tspan><tspan dx="0.5" dy="0.6">3</tspan></text>
<text x="847.5" y="564.2">2</text>
<text x="53.5" y="603.5">14</text>
<text x="85.3" y="603.5">15</text>
<text x="117.0" y="603.5">15</text>
<text x="148.8" y="603.5">15</text>
<text x="180.5" y="603.5">15</text>
<text x="212.3" y="603.5">16</text>
<text x="244.1" y="603.5">14</text>
<text x="275.8" y="603.5">3</text>
<text x="307.6" y="603.5">1</text>
<text x="339.3" y="603.5">1</text>
<text x="371.1" y="603.5">10</text>
<text x="402.9" y="603.5">12</text>
<text x="434.6" y="603.5">11</text>
<text x="466.4" y="603.5">8</text>
<text x="498.1" y="603.5">10</text>
<text x="529.9" y="603.5">10</text>
<text x="561.7" y="603.5">8</text>
<text x="593.4" y="603.5">11</text>
<text x="625.2" y="603.5">6</text>
<text x="656.9" y="603.5"><tspan textLength="5.4" lengthAdjust="spacingAndGlyphs" dy="-0.6">-</tspan><tspan dx="0.5" dy="0.6">2</tspan></text>
<text x="688.7" y="603.5">5</text>
<text x="720.5" y="603.5">7</text>
<text x="752.2" y="603.5"><tspan textLength="5.4" lengthAdjust="spacingAndGlyphs" dy="-0.6">-</tspan><tspan dx="0.5" dy="0.6">8</tspan></text>
<text x="784.0" y="603.5"><tspan textLength="5.4" lengthAdjust="spacingAndGlyphs" dy="-0.6">-</tspan><tspan dx="0.5" dy="0.6">3</tspan></text>
<text x="815.7" y="603.5">5</text>
<text x="847.5" y="603.5">8</text>
<text x="53.5" y="642.8">4</text>
<text x="85.3" y="642.8">9</text>
<text x="117.0" y="642.8">11</text>
<text x="148.8" y="642.8">16</text>
<text x="180.5" y="642.8">15</text>
<text x="212.3" y="642.8">15</text>
<text x="244.1" y="642.8">16</text>
<text x="275.8" y="642.8">7</text>
<text x="307.6" y="642.8">10</text>
<text x="339.3" y="642.8">14</text>
<text x="371.1" y="642.8">11</text>
<text x="402.9" y="642.8">9</text>
<text x="434.6" y="642.8">9</text>
<text x="466.4" y="642.8">7</text>
<text x="498.1" y="642.8">6</text>
<text x="529.9" y="642.8">7</text>
<text x="561.7" y="642.8">5</text>
<text x="593.4" y="642.8">7</text>
<text x="625.2" y="642.8">10</text>
<text x="656.9" y="642.8">4</text>
<text x="688.7" y="642.8">10</text>
<text x="720.5" y="642.8">2</text>
<text x="752.2" y="642.8">2</text>
<text x="784.0" y="642.8">8</text>
<text x="815.7" y="642.8">9</text>
<text x="847.5" y="642.8">12</text>
<text x="53.5" y="682.1">4</text>
<text x="85.3" y="682.1">12</text>
<text x="117.0" y="682.1">17</text>
<text x="148.8" y="682.1">16</text>
<text x="180.5" y="682.1">17</text>
<text x="212.3" y="682.1">16</text>
<text x="244.1" y="682.1">17</text>
<text x="275.8" y="682.1">15</text>
<text x="307.6" y="682.1">8</text>
<text x="339.3" y="682.1">13</text>
<text x="371.1" y="682.1">9</text>
<text x="402.9" y="682.1">6</text>
<text x="434.6" y="682.1">7</text>
<text x="466.4" y="682.1">6</text>
<text x="498.1" y="682.1">7</text>
<text x="529.9" y="682.1">12</text>
<text x="561.7" y="682.1">11</text>
<text x="593.4" y="682.1">12</text>
<text x="625.2" y="682.1">16</text>
<text x="656.9" y="682.1">10</text>
<text x="688.7" y="682.1">10</text>
<text x="720.5" y="682.1">5</text>
<text x="752.2" y="682.1">10</text>
<text x="784.0" y="682.1">10</text>
<text x="815.7" y="682.1">9</text>
<text x="847.5" y="682.1">11</text>
<text x="53.5" y="721.4">12</text>
<text x="85.3" y="721.4">15</text>
<text x="117.0" y="721.4">17</text>
<text x="148.8" y="721.4">17</text>
<text x="180.5" y="721.4">17</text>
<text x="212.3" y="721.4">18</text>
<text x="244.1" y="721.4">18</text>
<text x="275.8" y="721.4">19</text>
<text x="307.6" y="721.4">21</text>
<text x="339.3" y="721.4">15</text>
<text x="371.1" y="721.4">6</text>
<text x="402.9" y="721.4">9</text>
<text x="434.6" y="721.4">9</text>
<text x="466.4" y="721.4">5</text>
<text x="498.1" y="721.4">9</text>
<text x="529.9" y="721.4">18</text>
<text x="561.7" y="721.4">14</text>
<text x="593.4" y="721.4">14</text>
<text x="625.2" y="721.4">16</text>
<text x="656.9" y="721.4">17</text>
<text x="688.7" y="721.4">12</text>
<text x="720.5" y="721.4">8</text>
<text x="752.2" y="721.4">12</text>
<text x="784.0" y="721.4">12</text>
<text x="815.7" y="721.4">10</text>
<text x="847.5" y="721.4">8</text>
<text x="53.5" y="760.7">15</text>
<text x="85.3" y="760.7">18</text>
<text x="117.0" y="760.7">17</text>
<text x="148.8" y="760.7">17</text>
<text x="180.5" y="760.7">17</text>
<text x="212.3" y="760.7">19</text>
<text x="244.1" y="760.7">21</text>
<text x="275.8" y="760.7">21</text>
<text x="307.6" y="760.7">21</text>
<text x="339.3" y="760.7">19</text>
<text x="371.1" y="760.7">10</text>
<text x="402.9" y="760.7">14</text>
<text x="434.6" y="760.7">17</text>
<text x="466.4" y="760.7">15</text>
<text x="498.1" y="760.7">18</text>
<text x="529.9" y="760.7">16</text>
<text x="561.7" y="760.7">16</text>
<text x="593.4" y="760.7">18</text>
<text x="625.2" y="760.7">19</text>
<text x="656.9" y="760.7">20</text>
<text x="688.7" y="760.7">14</text>
<text x="720.5" y="760.7">13</text>
<text x="752.2" y="760.7">12</text>
<text x="784.0" y="760.7">12</text>
<text x="815.7" y="760.7">12</text>
<text x="847.5" y="760.7">12</text>
<text x="53.5" y="800.0">17</text>
<text x="85.3" y="800.0">17</text>
<text x="117.0" y="800.0">17</text>
<text x="148.8" y="800.0">18</text>
<text x="180.5" y="800.0">19</text>
<text x="212.3" y="800.0">19</text>
<text x="244.1" y="800.0">20</text>
<text x="275.8" y="800.0">20</text>
<text x="307.6" y="800.0">21</text>
<text x="339.3" y="800.0">22</text>
<text x="371.1" y="800.0">13</text>
<text x="402.9" y="800.0">16</text>
<text x="434.6" y="800.0">18</text>
<text x="466.4" y="800.0">16</text>
<text x="498.1" y="800.0">17</text>
<text x="529.9" y="800.0">18</text>
<text x="561.7" y="800.0">19</text>
<text x="593.4" y="800.0">20</text>
<text x="625.2" y="800.0">21</text>
<text x="656.9" y="800.0">21</text>
<text x="688.7" y="800.0">20</text>
<text x="720.5" y="800.0">19</text>
<text x="752.2" y="800.0">12</text>
<text x="784.0" y="800.0">14</text>
<text x="815.7" y="800.0">15</text>
<text x="847.5" y="800.0">16</text>
<text x="53.5" y="839.3">17</text>
<text x="85.3" y="839.3">17</text>
<text x="117.0" y="839.3">17</text>
<text x="148.8" y="839.3">18</text>
<text x="180.5" y="839.3">20</text>
<text x="212.3" y="839.3">20</text>
<text x="244.1" y="839.3">19</text>
<text x="275.8" y="839.3">20</text>
<text x="307.6" y="839.3">21</text>
<text x="339.3" y="839.3">21</text>
<text x="371.1" y="839.3">18</text>
<text x="402.9" y="839.3">14</text>
<text x="434.6" y="839.3">16</text>
<text x="466.4" y="839.3">18</text>
<text x="498.1" y="839.3">18</text>
<text x="529.9" y="839.3">20</text>
<text x="561.7" y="839.3">21</text>
<text x="593.4" y="839.3">21</text>
<text x="625.2" y="839.3">22</text>
<text x="656.9" y="839.3">21</text>
<text x="688.7" y="839.3">20</text>
<text x="720.5" y="839.3">20</text>
<text x="752.2" y="839.3">13</text>
<text x="784.0" y="839.3">15</text>
<text x="815.7" y="839.3">15</text>
<text x="847.5" y="839.3">17</text>
<text x="53.5" y="878.6">17</text>
<text x="85.3" y="878.6">18</text>
<text x="117.0" y="878.6">18</text>
<text x="148.8" y="878.6">18</text>
<text x="180.5" y="878.6">21</text>
<text x="212.3" y="878.6">21</text>
<text x="244.1" y="878.6">20</text>
<text x="275.8" y="878.6">21</text>
<text x="307.6" y="878.6">21</text>
<text x="339.3" y="878.6">21</text>
<text x="371.1" y="878.6">21</text>
<text x="402.9" y="878.6">17</text>
<text x="434.6" y="878.6">18</text>
<text x="466.4" y="878.6">19</text>
<text x="498.1" y="878.6">19</text>
<text x="529.9" y="878.6">22</text>
<text x="561.7" y="878.6">22</text>
<text x="593.4" y="878.6">23</text>
<text x="625.2" y="878.6">22</text>
<text x="656.9" y="878.6">22</text>
<text x="688.7" y="878.6">21</text>
<text x="720.5" y="878.6">21</text>
<text x="752.2" y="878.6">18</text>
<text x="784.0" y="878.6">20</text>
<text x="815.7" y="878.6">19</text>
<text x="847.5" y="878.6">18</text>
<text x="53.5" y="917.9">20</text>
<text x="85.3" y="917.9">18</text>
<text x="117.0" y="917.9">19</text>
<text x="148.8" y="917.9">20</text>
<text x="180.5" y="917.9">22</text>
<text x="212.3" y="917.9">22</text>
<text x="244.1" y="917.9">22</text>
<text x="275.8" y="917.9">21</text>
<text x="307.6" y="917.9">22</text>
<text x="339.3" y="917.9">22</text>
<text x="371.1" y="917.9">21</text>
<text x="402.9" y="917.9">17</text>
<text x="434.6" y="917.9">20</text>
<text x="466.4" y="917.9">20</text>
<text x="498.1" y="917.9">22</text>
<text x="529.9" y="917.9">23</text>
<text x="561.7" y="917.9">22</text>
<text x="593.4" y="917.9">22</text>
<text x="625.2" y="917.9">22</text>
<text x="656.9" y="917.9">22</text>
<text x="688.7" y="917.9">22</text>
<text x="720.5" y="917.9">21</text>
<text x="752.2" y="917.9">19</text>
<text x="784.0" y="917.9">21</text>
<text x="815.7" y="917.9">21</text>
<text x="847.5" y="917.9">21</text>
<text x="53.5" y="957.2">20</text>
<text x="85.3" y="957.2">20</text>
<text x="117.0" y="957.2">21</text>
<text x="148.8" y="957.2">22</text>
<text x="180.5" y="957.2">23</text>
<text x="212.3" y="957.2">22</text>
<text x="244.1" y="957.2">22</text>
<text x="275.8" y="957.2">22</text>
<text x="307.6" y="957.2">22</text>
<text x="339.3" y="957.2">22</text>
<text x="371.1" y="957.2">22</text>
<text x="402.9" y="957.2">21</text>
<text x="434.6" y="957.2">21</text>
<text x="466.4" y="957.2">16</text>
<text x="498.1" y="957.2">22</text>
<text x="529.9" y="957.2">23</text>
<text x="561.7" y="957.2">23</text>
<text x="593.4" y="957.2">23</text>
<text x="625.2" y="957.2">23</text>
<text x="656.9" y="957.2">22</text>
<text x="688.7" y="957.2">22</text>
<text x="720.5" y="957.2">21</text>
<text x="752.2" y="957.2">21</text>
<text x="784.0" y="957.2">20</text>
<text x="815.7" y="957.2">21</text>
<text x="847.5" y="957.2">22</text>
<text x="53.5" y="996.5">22</text>
<text x="85.3" y="996.5">22</text>
<text x="117.0" y="996.5">23</text>
<text x="148.8" y="996.5">22</text>
<text x="180.5" y="996.5">22</text>
<text x="212.3" y="996.5">23</text>
<text x="244.1" y="996.5">22</text>
<text x="275.8" y="996.5">22</text>
<text x="307.6" y="996.5">22</text>
<text x="339.3" y="996.5">22</text>
<text x="371.1" y="996.5">23</text>
<text x="402.9" y="996.5">23</text>
<text x="434.6" y="996.5">22</text>
<text x="466.4" y="996.5">22</text>
<text x="498.1" y="996.5">23</text>
<text x="529.9" y="996.5">23</text>
<text x="561.7" y="996.5">23</text>
<text x="593.4" y="996.5">23</text>
<text x="625.2" y="996.5">22</text>
<text x="656.9" y="996.5">23</text>
<text x="688.7" y="996.5">24</text>
<text x="720.5" y="996.5">17</text>
<text x="752.2" y="996.5">22</text>
<text x="784.0" y="996.5">16</text>
<text x="815.7" y="996.5">19</text>
<text x="847.5" y="996.5">21</text>
</g>
<g font-size="10.2" fill="#000" text-anchor="middle" letter-spacing="-0.25">
<text x="376.7" y="423.3">SRN</text>
<text x="420.0" y="421.0">LEH</text>
<text x="377.2" y="450.0">JMU</text>
<text x="347.2" y="462.2">SRG</text>
<text x="370.0" y="472.2">LHR</text>
<text x="403.9" y="494.4">CNG</text>
<text x="362.2" y="514.4">STG</text>
<text x="415.6" y="535.0">NDLS</text>
<text x="350.6" y="540.0">NAL</text>
<text x="347.8" y="576.2">JDP</text>
<text x="467.8" y="572.2">LKN</text>
<text x="333.9" y="638.9">AHM</text>
<text x="418.9" y="634.4">BHP</text>
<text x="445.0" y="675.6">NGP</text>
<text x="485.0" y="674.0">RPR</text>
<text x="342.2" y="717.3">MUM</text>
<text x="432.2" y="752.2">HYD</text>
<text x="362.2" y="787.0">PJM</text>
<text x="418.3" y="844.0">BNG</text>
<text x="465.0" y="835.0">CHN</text>
<text x="404.4" y="928.2">TRV</text>
<text x="452.2" y="962.9">CLM</text>
<text x="542.5" y="552.5">KTM</text>
<text x="593.9" y="566.7">BGD</text>
<text x="644.4" y="574.9">GHT</text>
<text x="541.1" y="588.9">PTN</text>
<text x="521.1" y="607.3">RTH</text>
<text x="544.4" y="632.7">RNC</text>
<text x="591.1" y="651.8">KOL</text>
<text x="553.3" y="692.9">BWN</text>
<text x="510.5" y="750.0">VZG</text>
<text x="636.7" y="512.2">LSA</text>
<text x="702.2" y="549.8">CBA</text>
<text x="717.2" y="760.5">RNG</text>
<text x="288.0" y="413.3">KBL</text>
<text x="282.0" y="335.0">DHB</text>
<text x="396.3" y="316.7">KSH</text>
<text x="459.2" y="361.7">HTN</text>
<text x="275.8" y="536.1">JCB</text>
<text x="255.3" y="609.4">KRC</text>
<text x="66.8" y="596.5">DUB</text>
</g>
</g>
<rect x="53" y="207" width="794" height="786" fill="none" stroke="#000" stroke-width="2"/>
<path d="M53.0,993 v5 M132.4,993 v5 M211.8,993 v5 M291.2,993 v5 M370.6,993 v5 M450.0,993 v5 M529.4,993 v5 M608.8,993 v5 M688.2,993 v5 M767.6,993 v5 M847.0,993 v5 M53,993.0 h-5.5 M53,894.8 h-5.5 M53,796.5 h-5.5 M53,698.2 h-5.5 M53,600.0 h-5.5 M53,501.8 h-5.5 M53,403.5 h-5.5 M53,305.2 h-5.5 M53,207.0 h-5.5" stroke="#000" stroke-width="2" fill="none"/>
<g font-size="17.6" fill="#000">
<text x="53.5" y="1014" text-anchor="middle" textLength="25.5" lengthAdjust="spacingAndGlyphs">55E</text>
<text x="132.9" y="1014" text-anchor="middle" textLength="25.5" lengthAdjust="spacingAndGlyphs">60E</text>
<text x="212.3" y="1014" text-anchor="middle" textLength="25.5" lengthAdjust="spacingAndGlyphs">65E</text>
<text x="291.7" y="1014" text-anchor="middle" textLength="25.5" lengthAdjust="spacingAndGlyphs">70E</text>
<text x="371.1" y="1014" text-anchor="middle" textLength="25.5" lengthAdjust="spacingAndGlyphs">75E</text>
<text x="450.5" y="1014" text-anchor="middle" textLength="25.5" lengthAdjust="spacingAndGlyphs">80E</text>
<text x="529.9" y="1014" text-anchor="middle" textLength="25.5" lengthAdjust="spacingAndGlyphs">85E</text>
<text x="609.3" y="1014" text-anchor="middle" textLength="25.5" lengthAdjust="spacingAndGlyphs">90E</text>
<text x="688.7" y="1014" text-anchor="middle" textLength="25.5" lengthAdjust="spacingAndGlyphs">95E</text>
<text x="768.1" y="1014" text-anchor="middle" textLength="34.4" lengthAdjust="spacingAndGlyphs">100E</text>
<text x="847.5" y="1014" text-anchor="middle" textLength="34.4" lengthAdjust="spacingAndGlyphs">105E</text>
<text x="43.0" y="999.8" text-anchor="end" textLength="18.5" lengthAdjust="spacingAndGlyphs">5N</text>
<text x="43.0" y="901.5" text-anchor="end" textLength="27.3" lengthAdjust="spacingAndGlyphs">10N</text>
<text x="43.0" y="803.3" text-anchor="end" textLength="27.3" lengthAdjust="spacingAndGlyphs">15N</text>
<text x="43.0" y="705.0" text-anchor="end" textLength="27.3" lengthAdjust="spacingAndGlyphs">20N</text>
<text x="43.0" y="606.8" text-anchor="end" textLength="27.3" lengthAdjust="spacingAndGlyphs">25N</text>
<text x="43.0" y="508.6" text-anchor="end" textLength="27.3" lengthAdjust="spacingAndGlyphs">30N</text>
<text x="43.0" y="410.3" text-anchor="end" textLength="27.3" lengthAdjust="spacingAndGlyphs">35N</text>
<text x="43.0" y="312.1" text-anchor="end" textLength="27.3" lengthAdjust="spacingAndGlyphs">40N</text>
<text x="43.0" y="213.8" text-anchor="end" textLength="27.3" lengthAdjust="spacingAndGlyphs">45N</text>
</g>
<text y="141" font-size="27.5" fill="#9010e0"><tspan x="338.7" textLength="66.5" lengthAdjust="spacingAndGlyphs">NCEP</tspan> <tspan x="423.6" textLength="48.2" lengthAdjust="spacingAndGlyphs">GFS</tspan> <tspan x="489.2" textLength="125.6" lengthAdjust="spacingAndGlyphs">GUIDANCE</tspan></text>
<text y="168" font-size="27.5" fill="#f0148c"><tspan x="230.2" textLength="45.5" lengthAdjust="spacingAndGlyphs">DEW</tspan> <tspan x="291.4" textLength="65.2" lengthAdjust="spacingAndGlyphs">POINT</tspan> <tspan x="375.2" textLength="155.8" lengthAdjust="spacingAndGlyphs">TEMPERATURE</tspan> <tspan x="543.0" textLength="33.4" lengthAdjust="spacingAndGlyphs">AT</tspan> <tspan x="583.4" textLength="29.9" lengthAdjust="spacingAndGlyphs">2M</tspan> <tspan x="629.6" textLength="55.1" lengthAdjust="spacingAndGlyphs">(DEG</tspan> <tspan x="697.5" textLength="24.6" lengthAdjust="spacingAndGlyphs">C)</tspan></text>
<text y="195.5" font-size="27.5" fill="#000"><tspan x="152.5" textLength="70.5" lengthAdjust="spacingAndGlyphs">VALID</tspan> <tspan x="238.0" textLength="52.1" lengthAdjust="spacingAndGlyphs">For:</tspan> <tspan x="305.9" textLength="148.3" lengthAdjust="spacingAndGlyphs">03FEB2026</tspan> <tspan x="472.9" textLength="24.0" lengthAdjust="spacingAndGlyphs">at</tspan> <tspan x="512.6" textLength="66.6" lengthAdjust="spacingAndGlyphs">0530</tspan> <tspan x="597.3" textLength="31.1" lengthAdjust="spacingAndGlyphs">IST</tspan> <tspan x="650.2" textLength="12.6" lengthAdjust="spacingAndGlyphs">/</tspan><tspan x="667.1" textLength="66.6" lengthAdjust="spacingAndGlyphs">0000</tspan> <tspan x="750.9" textLength="47.8" lengthAdjust="spacingAndGlyphs">UTC</tspan></text>
<rect x="11" y="1020" width="95" height="21.7" fill="#2846ff"/>
<circle cx="20.7" cy="1030.8" r="7.2" fill="none" stroke="#eef1ff" stroke-width="2.2"/>
<path d="M23.6,1028.6 A3.6,3.6 0 1 0 23.6,1033" fill="none" stroke="#eef1ff" stroke-width="1.9"/>
<text x="35" y="1036.7" font-size="16.3" fill="#ccd6ff" textLength="67.5" lengthAdjust="spacingAndGlyphs">WEACLIM</text>
<text font-size="16.7" fill="#3250f0" y="1037"><tspan x="333.5" textLength="47.5" lengthAdjust="spacingAndGlyphs">INITIAL</tspan> <tspan x="394.7" textLength="225" lengthAdjust="spacingAndGlyphs">CONDITIONS:00Z03FEB2026</tspan></text>
<path d="M155.7,1046.7 L115,1058 L155.7,1069.3 Z" fill="#3c00a0" stroke="#000" stroke-width="1"/>
<rect x="155.7" y="1046.7" width="40" height="22.6" fill="#0000c8" stroke="#000" stroke-width="1"/>
<rect x="195.7" y="1046.7" width="40" height="22.6" fill="#0532ff" stroke="#000" stroke-width="1"/>
<rect x="235.7" y="1046.7" width="40" height="22.6" fill="#0078ff" stroke="#000" stroke-width="1"/>
<rect x="275.7" y="1046.7" width="40" height="22.6" fill="#1ea0ff" stroke="#000" stroke-width="1"/>
<rect x="315.7" y="1046.7" width="40" height="22.6" fill="#50d2ff" stroke="#000" stroke-width="1"/>
<rect x="355.7" y="1046.7" width="40" height="22.6" fill="#8cf0ff" stroke="#000" stroke-width="1"/>
<rect x="395.7" y="1046.7" width="40" height="22.6" fill="#ffffff" stroke="#000" stroke-width="1"/>
<rect x="435.7" y="1046.7" width="40" height="22.6" fill="#fffaaa" stroke="#000" stroke-width="1"/>
<rect x="475.7" y="1046.7" width="40" height="22.6" fill="#ffe878" stroke="#000" stroke-width="1"/>
<rect x="515.7" y="1046.7" width="40" height="22.6" fill="#ffc03c" stroke="#000" stroke-width="1"/>
<rect x="555.7" y="1046.7" width="40" height="22.6" fill="#ffa000" stroke="#000" stroke-width="1"/>
<rect x="595.7" y="1046.7" width="40" height="22.6" fill="#ff6000" stroke="#000" stroke-width="1"/>
<rect x="635.7" y="1046.7" width="40" height="22.6" fill="#ff3200" stroke="#000" stroke-width="1"/>
<rect x="675.7" y="1046.7" width="40" height="22.6" fill="#e11400" stroke="#000" stroke-width="1"/>
<rect x="715.7" y="1046.7" width="40" height="22.6" fill="#c00000" stroke="#000" stroke-width="1"/>
<rect x="755.7" y="1046.7" width="40" height="22.6" fill="#a50000" stroke="#000" stroke-width="1"/>
<path d="M795.7,1046.7 L837.6,1058 L795.7,1069.3 Z" fill="#000000" stroke="#000" stroke-width="1"/>
<g font-size="21.4" fill="#000" text-anchor="middle" letter-spacing="0.5">
<text x="156.7" y="1089.3"><tspan textLength="12.5" lengthAdjust="spacingAndGlyphs" dy="-1.6">-</tspan><tspan dx="0.5" dy="1.6">35</tspan></text>
<text x="196.7" y="1089.3"><tspan textLength="12.5" lengthAdjust="spacingAndGlyphs" dy="-1.6">-</tspan><tspan dx="0.5" dy="1.6">30</tspan></text>
<text x="236.7" y="1089.3"><tspan textLength="12.5" lengthAdjust="spacingAndGlyphs" dy="-1.6">-</tspan><tspan dx="0.5" dy="1.6">25</tspan></text>
<text x="276.7" y="1089.3"><tspan textLength="12.5" lengthAdjust="spacingAndGlyphs" dy="-1.6">-</tspan><tspan dx="0.5" dy="1.6">20</tspan></text>
<text x="316.7" y="1089.3"><tspan textLength="12.5" lengthAdjust="spacingAndGlyphs" dy="-1.6">-</tspan><tspan dx="0.5" dy="1.6">15</tspan></text>
<text x="356.7" y="1089.3"><tspan textLength="12.5" lengthAdjust="spacingAndGlyphs" dy="-1.6">-</tspan><tspan dx="0.5" dy="1.6">10</tspan></text>
<text x="396.7" y="1089.3"><tspan textLength="12.5" lengthAdjust="spacingAndGlyphs" dy="-1.6">-</tspan><tspan dx="0.5" dy="1.6">5</tspan></text>
<text x="436.2" y="1089.3">0</text>
<text x="476.2" y="1089.3">5</text>
<text x="516.2" y="1089.3">10</text>
<text x="556.2" y="1089.3">15</text>
<text x="596.2" y="1089.3">20</text>
<text x="636.2" y="1089.3">25</text>
<text x="676.2" y="1089.3">30</text>
<text x="716.2" y="1089.3">35</text>
<text x="756.2" y="1089.3">40</text>
<text x="796.2" y="1089.3">45</text>
</g>
<text y="1190.3" font-size="16.7" fill="#f0148c"><tspan x="241.5" textLength="110.7" lengthAdjust="spacingAndGlyphs">BACKGROUND</tspan> <tspan x="362.8" textLength="41.4" lengthAdjust="spacingAndGlyphs">DOES</tspan> <tspan x="415.9" textLength="32.8" lengthAdjust="spacingAndGlyphs">NOT</tspan> <tspan x="459.3" textLength="54.7" lengthAdjust="spacingAndGlyphs">DEPICT</tspan> <tspan x="522.8" textLength="76.1" lengthAdjust="spacingAndGlyphs">POLITICAL</tspan> <tspan x="611.2" textLength="100.4" lengthAdjust="spacingAndGlyphs">BOUNDARIES</tspan></text>
</svg></body></html>
